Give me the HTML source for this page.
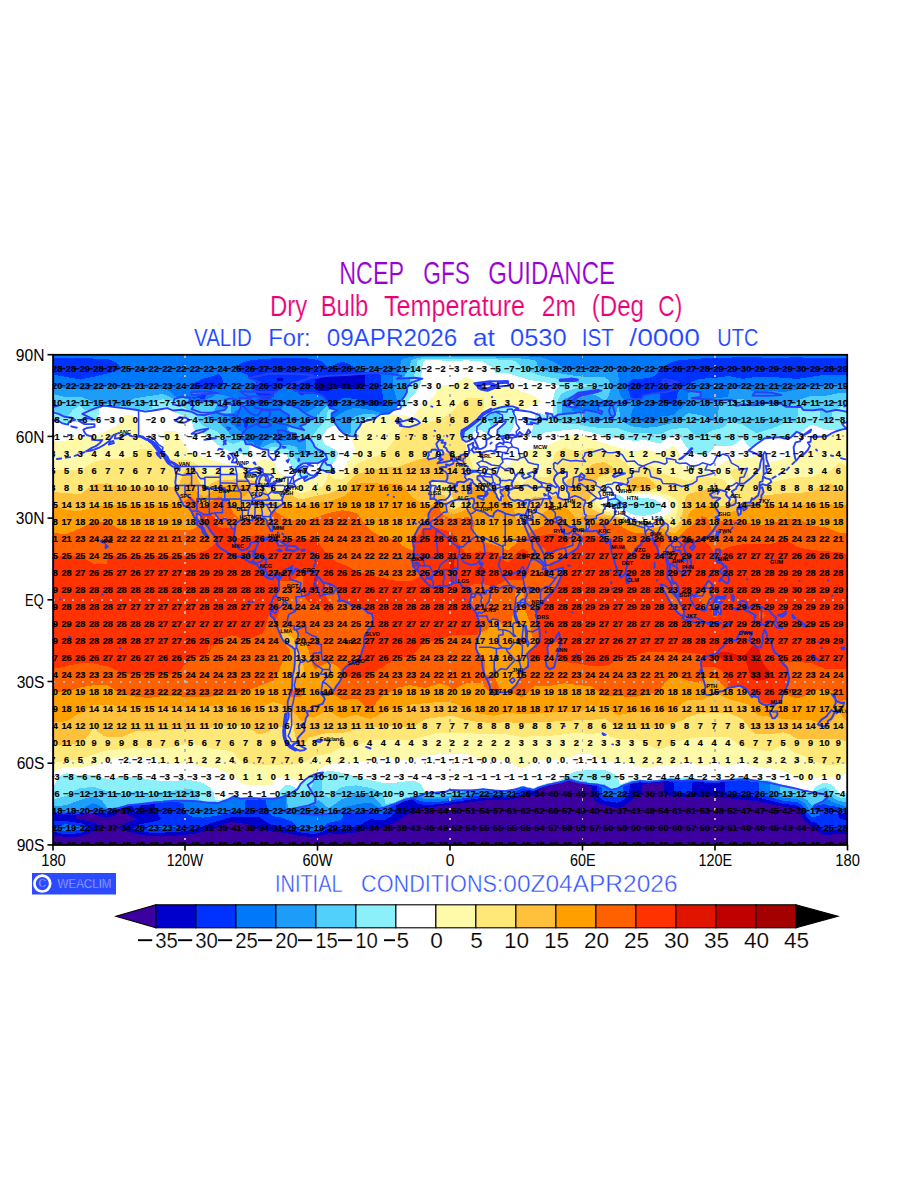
<!DOCTYPE html>
<html lang="en">
<head>
<meta charset="utf-8">
<title>NCEP GFS GUIDANCE - Dry Bulb Temperature 2m</title>
<style>
html,body{margin:0;padding:0;background:#fff;}
body{width:900px;height:1200px;overflow:hidden;font-family:"Liberation Sans",sans-serif;}
svg{display:block;position:absolute;left:0;top:0;}
.num text{font:bold 9.2px "Liberation Sans",sans-serif;fill:#000;text-anchor:middle;stroke:#000;stroke-width:0.18px;}
.stn text{font:bold 5.6px "Liberation Sans",sans-serif;fill:#000;text-anchor:start;}
.ax text{font:15.6px "Liberation Sans",sans-serif;fill:#000;}
.cb text{font:22.6px "Liberation Sans",sans-serif;fill:#000;text-anchor:middle;stroke:#fff;stroke-width:0.2px;}
.coast path{fill:none;stroke:#2840fa;stroke-width:1.9;stroke-linejoin:round;stroke-linecap:round;}
.coast path.thin{stroke-width:1.55;}
.coast path.thick{stroke-width:3.6;}
.grid line{stroke:#b4b4b4;stroke-width:2;stroke-dasharray:2.3 7.2;shape-rendering:crispEdges;}
.grid line.v{stroke-width:1.6;stroke-dasharray:2.5 7.35;}
</style>
</head>
<body>
<svg width="900" height="1200" viewBox="0 0 900 1200">
<rect x="0" y="0" width="900" height="1200" fill="#ffffff"/>

<!-- titles -->
<text x="339.3" y="283.7" font-size="31" fill="#9600d2" stroke="#fff" stroke-width="0.2" textLength="64.7" lengthAdjust="spacingAndGlyphs" font-family="Liberation Sans, sans-serif">NCEP</text>
<text x="423.3" y="283.7" font-size="31" fill="#9600d2" stroke="#fff" stroke-width="0.2" textLength="46.7" lengthAdjust="spacingAndGlyphs" font-family="Liberation Sans, sans-serif">GFS</text>
<text x="488.3" y="283.7" font-size="31" fill="#9600d2" stroke="#fff" stroke-width="0.2" textLength="126.7" lengthAdjust="spacingAndGlyphs" font-family="Liberation Sans, sans-serif">GUIDANCE</text>
<text x="270.0" y="315.5" font-size="29.2" fill="#eb0078" stroke="#fff" stroke-width="0.2" textLength="37.3" lengthAdjust="spacingAndGlyphs" font-family="Liberation Sans, sans-serif">Dry</text>
<text x="320.7" y="315.5" font-size="29.2" fill="#eb0078" stroke="#fff" stroke-width="0.2" textLength="47.6" lengthAdjust="spacingAndGlyphs" font-family="Liberation Sans, sans-serif">Bulb</text>
<text x="384.0" y="315.5" font-size="29.2" fill="#eb0078" stroke="#fff" stroke-width="0.2" textLength="141.0" lengthAdjust="spacingAndGlyphs" font-family="Liberation Sans, sans-serif">Temperature</text>
<text x="541.7" y="315.5" font-size="29.2" fill="#eb0078" stroke="#fff" stroke-width="0.2" textLength="34.3" lengthAdjust="spacingAndGlyphs" font-family="Liberation Sans, sans-serif">2m</text>
<text x="591.7" y="315.5" font-size="29.2" fill="#eb0078" stroke="#fff" stroke-width="0.2" textLength="52.3" lengthAdjust="spacingAndGlyphs" font-family="Liberation Sans, sans-serif">(Deg</text>
<text x="658.3" y="315.5" font-size="29.2" fill="#eb0078" stroke="#fff" stroke-width="0.2" textLength="24.0" lengthAdjust="spacingAndGlyphs" font-family="Liberation Sans, sans-serif">C)</text>
<text x="194.0" y="346.0" font-size="23" fill="#1e46ff" stroke="#fff" stroke-width="0.15" textLength="57.7" lengthAdjust="spacingAndGlyphs" font-family="Liberation Sans, sans-serif">VALID</text>
<text x="268.3" y="346.0" font-size="23" fill="#1e46ff" stroke="#fff" stroke-width="0.15" textLength="42.4" lengthAdjust="spacingAndGlyphs" font-family="Liberation Sans, sans-serif">For:</text>
<text x="326.7" y="346.0" font-size="23" fill="#1e46ff" stroke="#fff" stroke-width="0.15" textLength="130.6" lengthAdjust="spacingAndGlyphs" font-family="Liberation Sans, sans-serif">09APR2026</text>
<text x="472.7" y="346.0" font-size="23" fill="#1e46ff" stroke="#fff" stroke-width="0.15" textLength="22.3" lengthAdjust="spacingAndGlyphs" font-family="Liberation Sans, sans-serif">at</text>
<text x="510.0" y="346.0" font-size="23" fill="#1e46ff" stroke="#fff" stroke-width="0.15" textLength="56.7" lengthAdjust="spacingAndGlyphs" font-family="Liberation Sans, sans-serif">0530</text>
<text x="581.7" y="346.0" font-size="23" fill="#1e46ff" stroke="#fff" stroke-width="0.15" textLength="32.3" lengthAdjust="spacingAndGlyphs" font-family="Liberation Sans, sans-serif">IST</text>
<text x="629.3" y="346.0" font-size="23" fill="#1e46ff" stroke="#fff" stroke-width="0.15" textLength="70.7" lengthAdjust="spacingAndGlyphs" font-family="Liberation Sans, sans-serif">/0000</text>
<text x="717.3" y="346.0" font-size="23" fill="#1e46ff" stroke="#fff" stroke-width="0.15" textLength="41.0" lengthAdjust="spacingAndGlyphs" font-family="Liberation Sans, sans-serif">UTC</text>

<!-- map -->
<defs><clipPath id="mapclip"><rect x="52.5" y="354.7" width="795" height="490.2"/></clipPath></defs>
<g clip-path="url(#mapclip)">
<rect x="52" y="354" width="796" height="492" fill="#3c00a0"/>
<g shape-rendering="crispEdges">
<path fill="#0000cd" d="M52.5,354.7L847.5,354.7L847.5,834.8L838.7,833.9L825.4,835.2L821.0,833.4L817.7,831.3L805.7,821.8L802.7,817.7L799.6,810.9L797.8,809.1L796.7,808.7L779.0,805.9L755.9,801.1L726.0,798.0L715.0,796.2L687.4,797.0L671.9,796.2L666.0,794.5L664.1,793.2L663.7,783.6L663.1,782.3L659.8,782.3L658.7,783.2L657.6,783.3L643.6,783.6L642.5,785.0L642.2,793.2L640.7,794.5L633.3,798.8L625.6,805.0L620.0,807.9L617.8,808.3L602.4,804.9L596.9,802.1L594.6,799.9L592.4,795.8L591.8,793.2L591.5,786.3L588.0,785.6L585.8,784.1L579.2,783.4L577.5,782.3L574.8,782.0L573.1,780.9L569.2,780.2L565.5,780.9L563.7,782.0L561.2,782.3L559.3,783.5L554.9,783.8L551.6,785.4L548.3,785.6L546.1,787.0L542.8,787.7L541.6,788.7L539.3,789.1L538.1,790.4L537.3,793.2L534.6,794.5L529.4,795.9L508.5,799.7L494.2,799.9L480.9,800.7L418.0,809.0L415.8,809.6L411.4,812.7L402.5,817.2L393.7,823.2L386.0,826.1L370.5,829.0L356.1,832.6L342.9,833.8L328.5,833.4L315.3,837.1L300.9,836.0L286.6,833.2L269.9,831.3L259.0,828.8L246.8,824.2L232.5,821.9L224.8,824.2L206.0,831.4L191.6,834.2L177.3,835.6L164.0,836.0L149.7,836.0L143.0,835.2L135.3,833.8L128.7,832.0L120.3,828.6L119.0,827.2L126.5,822.9L138.0,819.0L132.0,817.1L128.2,814.9L125.8,812.2L124.3,808.1L119.6,809.5L117.6,813.3L115.4,815.3L108.8,817.6L101.1,816.9L93.4,813.9L76.2,814.9L75.5,816.3L75.6,817.7L77.4,819.0L91.1,821.6L97.8,824.1L100.4,825.8L101.2,827.2L100.2,828.6L87.8,834.1L80.1,836.3L66.9,837.2L52.5,835.2L52.5,354.7Z"/>
<path fill="#0032ff" d="M52.5,354.7L847.5,354.7L847.5,814.5L840.9,813.8L839.5,810.9L838.7,810.6L829.9,810.9L828.6,812.2L836.3,813.6L839.1,814.9L839.3,817.7L840.1,819.0L847.5,820.5L847.5,831.0L838.7,829.7L826.5,831.4L824.3,831.0L820.7,828.6L817.7,824.0L815.5,822.7L811.1,821.4L808.9,819.5L806.1,816.3L802.0,809.5L797.8,805.8L782.4,803.5L755.9,797.0L742.6,794.7L729.4,794.3L727.1,793.6L726.0,793.2L725.4,791.8L725.3,783.6L724.4,782.3L721.6,782.1L718.3,783.2L706.2,783.2L702.9,781.9L692.6,782.3L692.0,783.6L691.9,791.8L690.7,793.2L687.4,793.8L677.6,793.2L674.4,791.8L674.3,783.6L673.3,782.3L670.8,781.6L660.9,781.0L657.6,782.3L642.1,782.7L639.9,782.1L637.7,782.9L632.2,783.3L629.7,785.0L629.3,793.2L628.7,794.5L623.4,799.7L620.0,801.9L617.8,802.7L604.6,800.9L601.3,799.0L597.2,794.5L596.5,786.3L588.0,784.7L585.8,783.4L579.2,783.0L578.1,782.1L574.8,781.6L573.7,780.7L569.2,779.8L564.8,780.8L563.7,781.7L560.4,782.2L559.3,783.1L554.9,783.4L552.7,784.6L548.0,785.0L546.1,786.2L543.9,786.4L541.6,787.7L539.4,788.1L533.9,791.2L531.7,791.2L529.5,790.2L527.0,790.4L525.7,793.2L522.6,794.5L508.5,797.5L494.2,797.4L480.9,798.1L439.0,804.2L425.7,805.1L418.0,803.7L415.8,802.5L413.3,800.0L411.4,799.2L409.1,800.2L404.7,801.1L400.3,803.5L398.2,804.0L396.4,805.4L395.8,810.9L395.0,812.2L390.4,816.7L384.9,820.0L382.6,820.5L379.3,820.3L370.5,819.0L356.1,827.4L342.9,829.5L328.5,828.9L320.8,832.4L314.2,834.2L299.8,832.4L286.6,828.7L273.3,825.9L266.7,822.3L259.0,816.7L245.7,817.3L231.4,817.0L211.5,823.0L197.9,828.6L185.0,831.1L176.2,832.1L162.9,832.6L149.7,832.6L146.4,832.1L135.3,829.5L133.2,828.6L132.8,827.2L138.6,824.7L157.4,820.8L161.4,819.0L155.8,812.2L155.2,810.9L154.7,804.0L153.0,803.8L150.8,804.7L141.3,805.4L139.3,806.8L138.0,810.9L135.3,811.7L134.0,810.9L133.3,806.8L128.7,806.0L119.8,808.1L116.5,810.0L112.6,810.9L107.7,813.8L97.8,812.2L52.5,814.5L52.5,354.7ZM276.6,377.8L276.6,380.6L283.3,380.6L283.3,377.8L276.6,377.8ZM345.1,375.1L329.6,375.5L326.3,376.9L320.8,377.3L318.6,378.7L315.3,379.2L315.1,386.0L315.6,390.1L319.7,390.9L327.4,391.0L334.1,388.7L340.7,387.6L356.1,389.1L362.8,387.6L364.7,386.0L365.2,384.7L365.1,375.1L359.5,373.9L357.2,374.9L345.1,375.1ZM52.5,821.8L52.5,820.6L65.8,821.1L80.1,823.0L88.3,825.8L89.9,827.2L89.6,828.6L85.6,831.0L80.1,833.1L66.9,834.3L61.3,833.5L52.5,831.5L52.5,821.8Z"/>
<path fill="#0078fa" d="M52.5,354.7L847.5,354.7L847.5,358.1L838.7,357.8L825.4,358.3L797.8,357.3L780.1,357.7L742.6,357.3L707.3,358.0L679.7,360.1L670.8,362.5L662.0,366.8L659.8,369.0L657.2,373.8L653.2,376.7L646.5,378.4L632.2,379.1L628.9,382.3L627.3,386.0L630.2,396.9L631.6,398.3L639.9,398.7L641.1,398.3L642.1,395.0L646.5,394.7L647.6,393.8L652.1,393.5L654.3,392.5L657.6,392.8L659.7,394.2L660.0,401.0L661.3,402.4L673.0,404.3L675.6,402.4L677.9,392.8L680.8,388.1L684.1,386.1L686.3,386.5L689.4,383.3L692.9,381.1L700.6,378.7L715.0,378.0L728.2,376.0L742.6,378.9L757.0,376.8L769.1,376.8L797.8,378.9L825.4,374.7L847.5,374.9L847.5,812.5L843.7,809.5L839.8,807.4L830.9,805.9L825.4,804.4L822.1,804.4L817.5,805.4L815.5,806.4L813.7,808.1L813.8,809.5L819.1,812.2L820.4,813.6L820.2,814.9L816.6,816.4L812.2,817.4L809.1,814.9L803.3,806.7L798.9,803.0L796.7,802.2L782.4,800.5L761.3,794.5L759.2,793.2L758.7,791.8L758.6,783.6L758.1,782.3L750.3,781.7L747.0,780.2L738.2,780.0L734.9,781.3L721.6,781.0L718.3,782.2L706.2,782.2L702.9,780.9L692.9,780.5L686.3,781.2L674.1,781.0L670.8,780.4L660.9,780.6L657.6,781.9L642.1,782.0L639.9,781.5L637.7,782.1L632.2,782.2L624.5,786.3L622.8,787.7L622.4,793.2L621.6,794.5L618.9,796.7L616.7,797.1L604.6,796.3L602.4,794.5L601.8,793.2L601.5,787.7L596.9,785.0L589.1,784.5L585.8,783.1L580.3,782.9L578.1,781.7L574.8,781.3L573.7,780.4L569.2,779.3L564.8,780.4L563.7,781.3L560.4,781.8L559.3,782.8L554.9,783.1L552.7,784.3L547.2,784.9L546.1,785.8L538.6,787.7L535.0,790.2L531.7,790.3L529.5,789.1L527.3,789.3L524.0,788.2L521.8,788.4L519.6,789.9L517.0,790.4L515.2,793.2L512.1,794.5L508.5,795.3L494.2,794.7L480.9,795.4L459.9,798.9L437.9,801.9L424.6,801.9L411.4,798.3L409.1,799.5L404.9,800.0L403.6,800.9L401.7,801.3L390.4,806.6L388.6,808.1L388.0,810.9L383.8,814.3L373.8,812.3L370.5,809.5L356.1,811.7L348.8,812.2L342.8,813.6L342.5,817.7L341.9,819.0L337.4,821.1L327.5,823.1L321.4,828.6L316.4,830.8L314.2,831.3L299.1,828.6L296.7,827.2L294.3,823.3L292.1,821.6L281.1,817.5L273.3,816.3L272.2,815.7L266.7,810.9L266.4,801.3L265.9,800.0L260.1,799.4L246.8,800.0L245.4,801.3L245.3,809.5L242.2,810.9L232.5,811.7L218.1,815.3L203.8,817.6L194.9,817.2L190.5,816.3L184.1,810.9L183.6,804.0L182.8,802.7L177.3,802.3L164.0,802.3L161.8,803.3L153.0,802.5L150.8,803.6L141.9,803.9L138.6,805.3L128.7,805.1L126.5,806.2L123.2,806.5L122.1,807.4L118.8,808.0L117.6,808.9L111.3,809.5L106.6,810.8L94.5,809.7L91.9,810.9L84.5,812.2L52.5,812.9L52.5,374.8L62.4,376.1L80.1,379.6L93.4,376.9L112.1,372.1L117.6,370.3L120.8,368.3L120.5,367.0L119.4,365.6L115.4,362.1L111.6,360.1L108.8,359.5L81.2,357.8L52.5,358.3L52.5,354.7ZM215.9,375.1L202.2,379.2L195.7,381.9L191.6,384.7L190.6,386.0L190.5,388.7L211.5,389.6L221.4,386.7L223.4,384.7L222.1,377.8L219.2,374.5L218.1,374.2L215.9,375.1ZM266.7,358.7L251.8,360.1L245.8,361.5L236.9,365.2L234.0,367.0L233.1,368.3L246.8,374.6L247.9,375.3L249.0,378.3L251.8,379.2L256.2,381.9L256.5,383.3L253.8,386.0L253.2,387.4L255.3,390.1L256.3,394.2L259.7,396.9L259.7,398.3L257.7,401.0L257.7,402.4L259.0,404.8L260.1,405.3L262.9,403.7L266.9,399.6L273.3,397.1L274.7,392.8L286.0,386.0L289.9,385.1L289.5,387.4L289.9,388.0L294.3,391.3L296.5,391.7L300.9,395.0L305.6,394.2L316.4,393.8L318.6,395.0L321.9,395.4L327.4,401.6L329.6,405.9L330.8,407.0L334.0,406.4L338.3,401.0L342.9,398.2L356.1,398.7L362.7,403.7L369.4,405.9L384.9,406.0L386.0,405.1L383.8,401.0L383.2,398.3L381.1,386.0L380.9,375.1L379.7,373.8L374.9,372.8L372.7,371.6L370.5,372.4L356.2,371.0L355.7,368.3L354.2,367.0L348.4,363.8L342.9,361.8L337.4,363.4L328.5,368.0L325.1,364.2L321.6,361.5L318.6,360.1L311.6,358.8L299.8,357.7L286.6,357.8L266.7,358.7ZM387.1,406.4L387.1,407.8L388.2,406.4L387.1,406.4ZM201.6,395.2L199.4,396.3L192.3,396.9L192.7,399.0L198.2,397.9L200.5,398.9L203.8,399.0L205.0,398.3L205.9,395.6L203.8,394.8L201.6,395.2ZM245.7,417.3L243.5,418.7L242.9,420.1L244.6,427.2L245.0,428.2L245.7,428.5L248.2,425.5L248.5,422.8L247.8,418.7L245.7,417.3ZM64.1,824.5L66.9,824.3L79.0,825.9L82.2,827.2L82.3,828.6L80.1,829.7L76.8,830.2L66.9,831.3L63.5,830.8L55.6,828.6L54.7,827.2L57.4,825.8L64.1,824.5ZM158.3,825.8L164.0,825.5L176.2,825.8L178.9,827.2L172.7,828.6L149.7,829.0L147.5,828.6L147.1,827.2L149.7,826.5L158.3,825.8Z"/>
<path fill="#1e9cfa" d="M416.2,356.1L425.7,355.4L479.8,355.5L533.9,356.6L541.3,357.4L546.6,358.8L556.0,363.1L561.8,367.0L566.2,368.3L590.2,370.8L598.3,369.7L605.7,367.8L616.7,368.6L618.4,369.7L618.7,387.4L619.6,392.8L621.3,396.9L624.5,399.9L626.7,400.1L628.9,399.6L635.4,401.0L635.2,403.7L631.1,413.9L630.6,418.7L631.7,420.1L633.3,420.7L645.4,422.5L654.4,420.1L659.8,416.7L671.9,415.3L674.1,414.5L687.2,402.4L687.7,401.0L688.2,392.8L691.8,392.0L700.6,392.8L701.0,395.6L700.6,397.0L699.2,398.3L699.5,398.7L701.8,399.1L715.0,398.5L727.9,396.9L729.2,390.1L730.5,389.1L742.6,389.1L748.1,389.7L752.5,390.8L757.0,393.5L770.2,391.1L784.6,391.9L810.0,387.3L837.6,383.8L847.5,384.7L847.5,808.5L846.4,807.1L843.2,805.4L832.0,801.8L826.5,798.8L823.2,802.2L817.7,803.8L814.4,805.9L812.6,808.1L812.4,809.5L815.6,812.2L814.4,812.9L812.2,813.1L810.0,811.2L805.4,804.0L799.8,800.0L796.7,799.0L783.5,797.8L773.5,794.8L770.7,793.2L770.2,791.8L770.1,785.0L769.4,783.6L761.4,782.5L758.1,780.9L749.2,780.5L747.0,779.3L738.2,779.2L734.9,780.6L721.6,780.5L718.3,781.8L706.2,781.8L702.9,780.5L695.1,780.5L692.9,779.8L690.7,780.5L675.2,780.5L673.0,780.5L670.8,779.7L668.6,780.4L660.9,780.2L657.6,781.6L642.1,781.7L639.9,780.9L637.7,781.7L631.1,782.1L630.0,783.0L627.8,783.6L626.7,784.5L622.1,786.3L617.8,789.5L612.3,791.0L607.9,789.3L603.5,786.3L599.1,785.7L598.0,784.7L589.1,784.1L585.8,782.7L580.3,782.6L578.1,781.4L574.8,780.9L573.7,780.0L570.4,779.6L569.2,778.9L568.1,779.6L564.8,780.1L563.7,781.0L560.4,781.5L558.2,782.7L554.9,782.8L551.6,784.2L547.2,784.5L546.1,785.4L538.3,787.4L535.0,789.7L533.9,790.0L531.7,789.8L529.5,788.7L526.2,788.6L524.0,787.5L521.1,787.7L519.6,788.8L517.2,789.1L514.0,790.7L510.7,791.1L507.4,792.7L496.4,792.3L493.1,791.0L485.3,791.1L483.1,790.4L482.0,791.0L475.3,791.8L474.0,793.2L470.3,794.5L463.8,795.9L439.0,799.5L425.7,798.9L418.0,797.7L415.8,798.2L411.4,797.8L409.1,798.9L404.7,799.4L403.6,800.3L394.8,803.7L393.7,804.7L390.4,805.3L389.3,806.3L386.5,806.8L383.8,808.3L379.3,807.8L370.5,802.7L367.2,802.7L358.4,804.0L342.9,807.4L335.4,812.2L329.6,813.1L326.3,814.3L322.6,813.6L320.2,809.5L316.4,806.4L314.2,805.3L308.7,806.7L304.2,806.6L302.0,807.7L297.6,808.1L295.4,809.4L287.4,810.9L286.4,809.5L286.3,798.6L286.2,797.2L285.5,796.6L280.0,799.1L274.4,799.4L260.1,798.4L238.0,798.7L233.6,797.4L225.9,801.6L223.6,802.0L221.4,803.3L218.1,803.7L203.8,803.5L197.1,802.6L194.9,801.2L191.6,801.0L164.0,800.9L160.7,802.1L153.0,801.9L149.7,803.2L141.9,803.3L138.6,804.7L128.7,804.6L126.5,805.6L123.2,806.0L122.1,806.9L118.8,807.4L116.5,808.6L106.6,809.3L97.8,804.7L93.4,803.3L86.7,806.1L79.7,810.9L65.8,811.7L53.6,811.8L52.5,811.4L52.5,385.1L66.9,388.8L93.4,390.1L100.8,388.7L107.7,385.9L121.0,388.6L135.3,387.5L148.6,388.4L162.9,388.6L169.5,391.1L171.8,392.8L174.1,395.6L176.3,396.9L179.5,397.2L181.7,396.3L183.9,397.3L189.4,397.7L190.3,398.3L190.2,401.0L191.6,401.7L193.8,400.6L198.2,399.6L200.5,400.3L204.9,400.1L214.8,395.6L212.1,394.2L203.8,393.5L201.6,393.7L199.4,394.8L192.7,394.8L191.4,394.2L191.2,392.8L191.4,391.5L192.7,390.9L208.2,390.7L211.5,392.0L217.0,391.9L218.0,392.8L218.3,394.2L219.2,394.6L224.8,395.4L229.2,397.2L231.4,397.4L238.0,400.8L239.1,398.0L245.9,398.3L247.4,399.6L247.5,402.4L246.7,403.7L234.7,411.7L231.4,415.4L229.4,416.0L227.8,418.7L228.2,420.1L232.5,424.6L243.1,433.7L243.5,434.9L244.5,435.0L244.6,436.4L246.6,439.1L247.7,441.8L252.4,442.3L255.7,444.7L260.1,446.1L263.4,441.2L265.6,439.8L270.0,438.5L275.5,438.1L277.8,439.9L280.0,440.6L292.1,440.4L295.4,439.9L296.1,439.1L295.7,435.0L294.9,433.7L288.8,433.1L287.7,432.2L286.9,431.0L286.6,425.0L284.4,423.4L278.9,422.8L281.1,419.7L284.4,419.3L287.0,417.3L287.8,414.6L281.7,409.2L281.8,407.8L286.6,403.6L287.7,403.5L292.1,405.7L295.4,406.1L296.5,407.0L298.7,407.5L302.0,411.0L306.5,412.3L308.3,411.9L316.2,406.4L326.3,402.9L327.4,403.5L329.6,407.8L334.1,408.2L336.1,410.5L335.2,411.8L332.7,413.3L331.9,414.6L333.0,417.6L337.0,416.0L346.2,410.3L355.0,407.7L371.6,410.0L379.3,412.4L383.8,413.0L388.2,413.1L389.3,412.6L392.6,409.3L396.0,407.8L396.7,406.4L397.1,403.7L397.2,401.0L393.1,386.0L393.0,376.5L393.9,375.1L398.5,373.8L401.4,360.1L403.2,358.8L405.8,357.8L416.2,356.1ZM574.8,400.9L574.2,402.4L576.6,406.4L575.9,407.6L571.6,409.2L571.6,410.5L575.9,411.8L578.1,410.8L582.9,410.5L584.7,408.4L586.9,409.3L589.1,409.5L591.3,410.8L599.1,411.0L599.2,410.5L598.0,410.0L597.7,409.2L597.8,407.8L599.1,406.8L605.7,406.9L609.0,405.8L610.1,405.1L610.4,403.7L609.7,402.4L607.9,400.9L602.4,401.0L600.2,401.9L578.1,400.0L574.8,400.9ZM241.1,391.5L245.6,391.5L246.6,392.8L246.1,394.2L242.4,392.9L241.1,391.5ZM313.4,825.8L314.2,825.3L315.1,825.8L315.3,827.2L313.0,827.2L313.4,825.8Z"/>
<path fill="#50d0fa" d="M421.5,357.4L426.8,357.0L479.8,357.1L508.5,357.8L525.6,358.8L534.3,360.1L536.2,361.5L538.4,367.0L539.7,368.3L549.4,371.7L578.1,376.3L591.3,377.4L604.6,377.0L608.8,380.6L611.1,384.7L611.1,387.4L610.2,391.5L607.6,398.3L605.9,399.6L603.5,399.7L598.0,396.5L592.4,394.2L594.6,393.5L598.0,391.1L601.3,390.5L601.3,389.8L600.2,389.4L595.8,389.3L593.5,390.5L591.3,390.6L590.5,391.5L590.2,393.6L575.9,394.2L564.8,398.7L562.6,400.5L561.5,403.7L561.5,411.9L562.0,413.3L565.9,414.2L569.2,413.1L575.9,413.7L578.1,413.1L580.2,413.3L581.0,418.7L583.2,420.1L587.4,421.4L592.4,422.2L599.1,420.9L610.1,417.9L613.4,417.9L616.1,414.6L616.4,411.9L617.8,407.5L618.9,407.3L620.5,418.7L622.2,421.0L626.7,424.1L631.1,426.2L641.0,427.5L646.5,427.8L656.5,426.8L674.1,422.6L679.5,420.1L686.3,414.0L688.5,413.1L700.6,415.0L704.0,416.2L710.7,420.1L715.0,420.8L717.2,418.7L719.9,401.0L726.4,399.6L730.5,399.4L732.7,400.1L742.6,398.8L745.8,401.0L748.3,403.7L755.9,406.2L757.0,406.0L758.1,405.0L780.1,402.9L785.7,405.2L793.0,403.7L793.8,402.4L796.7,400.7L811.1,395.7L825.4,395.9L839.8,393.0L847.5,393.6L847.5,803.5L845.3,802.3L838.7,800.6L834.2,798.7L825.4,792.3L824.6,793.2L825.2,794.5L824.2,800.0L822.2,801.3L815.5,803.6L812.2,805.8L807.1,800.0L802.2,797.2L797.8,795.8L784.6,794.9L782.4,794.2L780.6,793.2L780.1,791.8L779.8,786.3L776.8,785.5L774.6,783.9L771.3,783.4L769.1,782.0L761.4,781.8L758.1,780.3L750.3,780.2L747.0,778.8L738.2,778.8L734.9,780.1L721.6,780.1L718.3,781.4L706.2,781.4L702.9,780.1L695.1,780.1L692.9,779.2L690.7,780.1L674.1,780.0L670.8,779.1L668.6,779.9L659.8,780.0L657.6,781.2L642.1,781.3L639.9,780.4L637.7,781.3L631.1,781.6L630.0,782.5L621.1,786.0L617.8,788.4L614.5,788.8L612.3,789.8L607.9,788.2L604.6,785.8L600.2,785.3L598.0,784.0L589.1,783.7L586.9,782.4L580.3,782.2L578.1,781.0L575.9,780.8L573.7,779.7L571.5,779.5L569.2,778.5L567.2,779.5L564.8,779.7L562.9,780.9L560.4,781.2L558.2,782.4L553.8,782.6L551.6,783.9L547.2,784.1L546.1,785.0L538.3,787.0L533.9,789.6L531.7,789.4L530.6,788.5L526.2,788.1L525.1,787.2L521.8,787.1L519.6,788.3L516.2,788.8L515.1,789.8L510.7,790.1L507.4,791.6L496.4,791.5L493.1,790.1L485.3,790.1L483.1,789.5L480.9,790.1L471.6,790.4L464.4,791.4L462.2,791.8L461.2,793.2L457.7,794.5L440.1,797.0L421.3,795.9L416.9,796.7L415.8,797.4L410.2,797.4L408.0,798.7L404.7,798.8L393.3,804.0L390.4,804.5L389.2,805.4L386.0,806.0L383.8,807.1L381.2,805.4L379.3,802.6L376.0,799.1L371.2,795.9L369.4,795.3L356.1,794.1L341.8,799.3L328.5,808.2L321.9,802.6L316.4,799.1L314.2,803.2L308.7,805.6L303.1,805.9L300.9,807.1L296.5,807.4L294.3,808.6L287.7,809.2L287.3,797.2L286.6,794.9L285.5,795.0L281.1,797.6L274.4,798.3L238.0,798.1L235.8,797.0L233.6,796.7L225.9,800.7L222.5,801.2L220.3,802.3L198.2,801.7L196.0,800.4L190.5,799.8L164.0,800.1L160.7,801.4L153.0,801.4L149.7,802.7L140.8,802.8L138.6,804.1L127.6,804.1L125.4,805.2L118.8,806.8L116.5,808.0L108.8,808.2L107.4,808.1L106.6,807.4L104.4,803.5L101.1,800.0L96.7,797.5L93.4,796.6L84.5,798.6L65.8,805.2L53.6,806.5L52.5,805.6L52.5,393.8L65.8,397.1L79.0,396.7L82.3,397.3L91.7,401.0L93.6,402.4L94.5,405.6L95.6,405.7L98.9,405.1L100.0,404.3L113.2,404.4L116.5,405.6L123.2,405.4L125.4,406.3L126.6,402.4L134.2,398.5L161.8,394.0L165.1,394.7L171.8,398.0L181.7,397.8L187.9,399.6L188.5,402.4L190.5,403.7L192.7,403.6L198.2,401.5L200.5,401.8L212.6,400.4L215.9,400.3L218.1,401.1L222.5,401.4L224.0,402.4L224.4,405.1L220.3,405.2L218.1,403.6L214.7,409.2L214.5,410.5L215.3,411.9L214.8,412.3L212.6,412.2L210.4,414.9L207.3,417.3L207.0,418.7L218.1,421.7L231.4,435.5L233.6,436.3L239.1,436.4L241.3,438.4L244.6,439.9L246.8,443.3L252.4,443.7L255.7,446.0L260.1,447.5L263.4,447.1L268.9,443.9L274.4,442.4L277.8,442.7L282.2,444.9L293.2,445.7L296.5,447.3L297.6,449.0L299.8,455.2L300.9,456.4L302.0,456.4L305.4,454.4L306.3,452.7L306.3,439.1L305.4,438.8L303.1,439.8L300.9,439.7L299.8,440.3L298.7,440.0L296.9,433.7L295.4,431.9L289.9,431.6L288.6,431.0L288.3,428.2L288.7,426.9L289.9,426.9L292.1,428.1L296.5,428.1L298.7,429.2L300.9,428.9L301.7,428.2L301.0,425.5L302.0,424.8L305.4,424.3L307.6,421.2L315.3,418.7L326.3,405.6L327.4,405.6L329.6,408.7L334.2,409.2L334.8,410.5L331.3,413.3L331.7,418.7L337.7,425.5L339.6,429.0L344.0,432.7L347.3,432.9L348.6,433.7L350.2,433.7L350.6,432.3L350.8,420.1L351.8,418.7L356.1,416.0L360.8,414.6L368.3,413.6L376.0,414.7L380.4,413.5L389.3,413.4L392.6,409.9L397.0,407.9L398.1,402.1L401.4,399.5L405.6,394.2L406.9,390.8L407.2,387.4L410.3,383.3L410.2,379.0L404.8,377.8L404.2,376.5L409.3,368.3L410.8,361.5L411.7,360.1L414.7,358.8L421.5,357.4ZM196.1,392.8L199.4,392.4L200.7,392.8L199.4,393.2L196.1,392.8ZM565.3,403.7L571.6,403.7L574.1,405.1L573.7,406.0L571.5,406.4L569.2,405.3L565.9,405.2L565.3,403.7ZM227.1,405.1L230.3,404.6L231.4,405.5L231.1,411.9L230.3,412.9L222.5,413.4L220.3,412.4L216.7,411.9L219.2,410.3L224.8,410.2L226.9,407.8L227.5,406.4L227.1,405.1Z"/>
<path fill="#8cf0fa" d="M423.2,358.8L478.7,358.6L511.5,360.1L516.2,361.5L522.1,368.3L524.4,369.7L537.2,374.5L548.3,377.2L563.7,379.8L577.0,382.7L595.4,384.7L601.1,386.0L577.0,387.8L562.8,392.8L560.3,395.6L557.6,401.0L556.8,414.6L554.9,417.0L553.8,417.2L551.6,415.9L549.5,416.0L548.8,417.3L549.5,418.7L551.1,420.1L554.2,421.4L562.6,423.5L577.0,423.7L591.3,427.4L617.8,428.0L625.2,431.0L632.2,432.7L646.5,433.3L659.8,434.5L666.4,431.1L673.0,428.7L687.4,428.1L696.7,436.4L700.6,439.2L701.8,438.9L706.2,433.9L709.5,431.7L713.9,429.9L720.5,428.4L723.9,426.9L726.0,425.1L729.4,420.5L734.9,422.9L742.6,424.4L755.9,433.0L757.0,433.2L773.5,427.9L784.6,422.9L796.7,422.6L797.4,418.7L797.8,407.8L801.1,407.2L803.3,410.1L812.2,409.3L818.7,410.5L819.9,411.9L820.2,418.7L821.3,420.1L823.7,421.4L826.5,422.0L829.8,420.9L832.0,418.9L832.4,411.9L833.2,410.5L836.5,408.2L839.8,407.8L840.9,406.5L841.9,406.4L842.0,405.6L844.2,406.4L844.9,405.1L847.5,403.3L847.5,798.5L839.8,797.6L837.6,796.8L833.9,794.5L828.7,789.3L825.4,787.4L818.8,789.4L815.3,791.8L818.1,794.5L818.4,795.9L812.2,795.9L807.2,793.2L804.4,792.7L802.2,791.3L798.9,790.6L796.7,789.4L793.4,789.0L791.2,787.8L787.9,787.6L785.7,786.3L782.4,786.0L781.2,785.0L776.8,784.2L774.6,782.9L771.3,782.5L770.2,781.6L761.4,781.2L758.1,779.8L750.3,779.7L747.0,778.3L738.2,778.3L734.9,779.7L721.6,779.7L718.3,781.0L706.2,781.0L704.0,779.8L695.1,779.6L692.9,778.6L690.7,779.6L674.1,779.6L670.8,778.5L668.6,779.5L660.9,779.4L657.6,780.7L651.3,780.9L642.1,780.9L639.9,779.9L637.7,780.9L631.1,781.1L621.1,785.3L617.3,787.7L614.5,787.9L612.3,789.0L607.9,786.8L604.6,784.2L600.2,784.0L596.9,782.7L589.1,782.7L586.9,781.4L580.3,781.3L578.1,780.1L575.9,780.0L573.7,778.8L569.2,777.9L560.4,780.6L558.2,781.8L554.9,782.0L551.6,783.5L547.2,783.8L545.0,785.0L542.8,785.2L540.8,786.3L538.3,786.6L533.9,789.2L532.2,789.1L530.6,788.0L526.4,787.7L525.1,786.8L521.8,786.6L519.6,787.7L516.2,788.3L515.1,789.2L509.6,789.8L507.4,791.0L496.4,790.9L493.1,789.5L485.3,789.6L483.1,788.7L480.9,789.6L455.6,790.4L450.0,791.5L447.8,793.0L444.5,794.0L440.1,794.5L426.5,793.2L416.9,795.2L415.8,796.0L410.2,796.2L408.0,797.4L404.7,797.5L403.3,798.6L401.4,798.9L400.1,800.0L398.1,800.3L393.2,802.7L390.4,802.9L388.2,804.1L384.9,804.1L384.3,795.9L382.4,793.2L377.3,790.4L370.5,787.9L356.1,785.4L346.2,786.3L340.5,787.7L337.4,790.0L334.0,794.5L328.5,797.7L323.3,794.5L322.0,793.2L321.5,778.2L319.7,776.2L316.4,776.1L314.4,776.8L313.1,778.2L313.5,782.3L313.1,784.2L309.8,790.3L308.8,790.4L308.7,791.8L307.6,791.8L307.6,793.2L306.5,793.2L304.2,790.4L304.2,787.7L304.2,789.1L303.1,790.4L299.8,794.5L298.7,794.5L297.6,795.9L294.3,795.9L293.8,793.2L292.3,791.8L287.7,790.4L285.5,791.8L283.4,794.5L279.2,797.2L273.3,797.8L238.0,797.6L235.8,796.4L233.6,796.2L225.9,800.0L222.5,800.4L220.3,801.6L207.8,801.3L199.1,800.0L198.6,794.5L197.8,793.2L194.9,791.0L190.5,788.9L162.2,791.8L153.7,793.2L149.7,794.5L135.3,791.1L121.0,794.4L117.7,793.2L107.7,791.4L93.4,786.7L79.0,788.5L74.6,790.4L69.0,794.5L65.9,795.9L56.9,798.5L52.5,799.1L52.5,409.2L53.6,410.6L60.2,413.6L63.5,416.1L65.8,416.3L67.2,416.0L68.8,414.6L73.5,409.4L79.0,406.2L80.1,406.1L84.5,409.8L86.7,410.3L91.1,409.5L92.2,408.7L95.6,408.4L96.7,407.5L101.1,405.8L113.2,405.6L116.5,406.9L122.1,406.8L125.4,408.1L132.0,408.1L134.2,409.2L140.8,409.0L145.2,410.1L150.8,409.2L152.3,407.8L152.6,403.7L153.3,402.4L157.4,400.7L162.9,399.3L172.9,401.3L175.1,401.0L182.8,407.0L194.4,413.3L196.6,416.0L199.4,421.7L202.7,425.3L217.0,431.5L224.8,439.2L230.3,443.2L233.6,443.8L242.4,440.6L244.6,441.7L246.8,444.2L252.4,444.5L255.7,446.7L257.9,447.2L259.0,448.0L262.3,448.1L264.5,448.8L273.3,446.7L276.6,446.6L278.7,447.3L280.0,449.1L287.7,449.4L289.9,450.4L292.1,452.4L296.0,459.5L299.8,464.2L302.0,462.4L307.6,462.6L317.5,461.6L320.7,459.5L325.0,455.5L325.0,454.1L321.9,451.2L319.7,449.8L317.5,449.3L315.3,447.4L312.0,437.8L313.0,435.0L326.3,418.7L327.9,410.5L328.5,409.6L333.0,410.5L331.9,410.9L330.0,413.3L330.3,418.7L337.4,426.5L338.0,428.2L340.2,431.0L344.0,434.0L347.3,434.3L349.5,435.3L354.2,435.0L355.0,433.9L355.8,431.0L358.7,426.9L360.6,421.9L363.9,418.9L368.3,417.4L373.8,417.3L380.4,414.1L389.3,413.9L392.6,410.5L397.0,408.8L398.1,403.9L402.5,400.2L405.9,395.6L407.8,391.5L408.7,387.4L411.9,383.3L412.5,380.0L415.4,371.0L417.4,361.5L418.5,360.1L423.2,358.8ZM494.2,410.3L493.1,411.1L489.1,411.9L487.7,413.3L487.3,414.6L487.4,418.7L490.9,425.5L492.3,425.5L495.2,424.1L496.6,422.8L498.6,419.0L499.5,418.7L499.7,410.5L498.6,409.9L494.2,410.3ZM617.8,501.1L615.2,503.1L614.9,504.5L616.7,505.4L620.0,505.8L625.8,504.5L618.9,501.1L617.8,501.1ZM498.6,430.7L498.6,433.2L499.7,432.3L499.6,431.0L498.6,430.7ZM52.5,403.7L52.5,403.1L53.6,404.0L54.6,406.4L53.6,408.4L52.5,408.9L52.5,403.7Z"/>
<path fill="#ffffff" d="M423.7,361.5L425.7,360.3L429.0,360.2L439.0,360.3L452.2,361.1L466.6,360.3L482.6,361.5L493.7,368.3L495.3,373.0L507.4,373.2L529.5,379.9L550.7,383.3L558.2,385.0L559.4,386.0L556.0,389.1L553.8,394.7L552.8,402.4L552.8,411.9L552.2,413.3L549.4,413.5L548.3,412.6L546.1,412.5L545.3,413.3L545.0,415.3L539.4,412.7L537.2,412.4L536.1,412.6L535.8,413.3L534.6,418.7L531.7,419.0L528.4,417.7L525.1,418.7L526.2,420.1L526.5,422.8L527.3,423.8L530.6,424.1L532.8,423.6L533.5,424.1L531.3,435.0L531.6,436.4L535.0,438.2L537.3,437.8L539.7,436.4L542.8,433.4L546.1,432.1L577.0,429.0L596.9,433.7L605.3,436.4L632.2,440.6L646.5,440.4L659.8,443.7L663.1,441.7L669.3,436.4L671.9,434.9L674.1,434.4L677.5,435.6L680.2,437.8L688.5,449.9L695.1,453.6L701.8,455.1L708.8,452.7L711.8,450.0L715.0,445.5L727.1,446.5L730.5,446.1L737.1,442.8L742.6,437.6L748.0,445.9L749.2,447.1L750.4,447.3L755.9,445.4L758.1,443.1L761.4,441.2L765.8,437.3L780.1,436.5L783.5,437.7L785.7,437.8L787.9,436.8L791.2,436.5L796.7,432.4L797.8,432.3L798.9,433.0L801.2,432.3L811.1,424.8L812.2,424.7L822.1,428.5L833.1,430.6L836.5,429.8L839.8,429.9L842.0,428.7L845.8,428.2L845.4,426.9L843.3,425.5L842.7,424.1L845.3,422.0L847.5,421.8L847.5,792.0L846.0,793.2L839.8,794.0L838.2,793.2L836.0,789.1L833.1,785.9L829.8,784.0L825.4,782.6L821.0,783.8L817.7,785.4L814.4,788.4L812.3,791.8L811.1,792.2L810.0,791.4L805.5,791.1L803.3,789.9L798.9,789.3L797.8,788.4L793.4,787.9L792.3,786.9L787.9,786.4L786.8,785.5L783.5,785.2L781.2,783.9L777.9,783.6L775.7,782.3L772.4,781.8L770.2,780.5L761.4,780.1L758.1,778.7L750.3,778.5L747.0,777.1L738.2,777.2L734.9,778.6L721.6,778.7L718.3,780.0L707.3,780.0L702.9,778.8L695.1,778.6L692.9,777.5L690.7,778.5L674.1,778.4L672.3,778.2L670.8,777.2L668.6,778.3L659.8,778.4L657.6,779.7L642.1,780.0L639.9,779.0L637.7,780.0L631.1,780.0L630.0,780.9L627.8,781.3L626.5,782.3L624.5,782.5L622.7,783.6L618.9,784.1L618.2,776.8L613.4,773.5L604.6,770.1L591.3,769.6L575.9,771.5L566.1,775.5L563.9,776.8L563.1,778.2L561.4,779.5L559.3,780.0L558.6,780.9L553.8,781.3L551.6,782.6L547.2,782.9L546.1,783.8L538.3,785.9L533.9,788.4L532.8,788.5L530.6,787.4L527.3,787.2L525.1,786.1L521.8,785.9L514.0,788.8L509.6,789.1L507.4,790.3L496.4,790.2L493.1,788.9L485.3,788.9L483.1,787.9L480.9,788.9L450.0,789.4L443.4,792.1L425.7,791.2L424.3,790.4L422.4,786.3L420.2,783.8L416.9,781.8L412.5,780.5L397.0,782.5L383.8,783.1L361.9,778.2L346.2,773.8L336.3,771.8L328.5,770.8L324.1,772.1L321.9,771.7L319.7,772.0L314.2,774.9L308.7,776.6L300.9,783.3L298.7,786.7L296.5,788.1L288.8,784.7L286.6,784.5L285.5,784.9L281.1,788.9L277.8,795.9L273.3,797.2L239.1,796.7L233.6,795.2L232.5,795.3L229.2,797.4L224.8,799.0L222.5,799.1L221.4,800.0L215.9,800.0L215.2,800.0L214.7,798.6L214.2,793.2L210.0,787.7L203.8,783.4L195.1,780.9L189.4,780.2L161.8,781.0L149.7,779.7L134.2,776.6L122.1,776.7L107.7,779.1L94.5,775.1L80.1,775.2L66.9,773.3L63.5,774.2L58.5,776.8L52.5,788.9L52.5,421.7L55.8,419.6L59.1,420.7L62.4,422.8L68.0,423.7L70.2,421.5L71.3,421.3L80.1,422.2L93.4,422.1L96.7,420.4L98.3,418.7L98.9,409.2L100.4,407.8L102.2,407.4L113.2,406.5L115.4,407.6L122.1,407.6L124.3,408.7L130.9,408.8L134.2,410.1L140.8,410.2L143.0,411.4L145.2,411.6L150.8,411.3L153.0,410.0L158.5,409.7L161.8,408.1L167.3,408.2L170.6,410.3L180.1,414.6L190.5,418.3L191.7,420.1L193.4,428.2L195.4,431.0L198.2,432.4L204.9,433.9L207.4,435.0L209.5,436.4L215.9,443.4L221.4,447.5L227.0,450.2L245.7,455.1L247.7,454.1L248.9,452.7L249.2,447.3L249.7,445.9L251.2,445.8L259.0,448.9L261.2,448.9L263.4,449.8L267.8,449.9L268.9,451.1L270.0,451.4L273.3,450.9L274.4,451.3L275.5,452.9L276.6,453.4L286.6,454.5L291.0,465.0L295.4,470.8L298.5,477.2L300.9,477.4L303.1,476.2L304.2,476.4L304.9,477.2L304.5,478.6L305.4,479.5L311.2,477.2L312.4,475.9L308.7,474.1L305.9,470.4L306.1,469.1L308.0,466.4L307.6,465.5L302.0,465.8L301.8,465.0L302.5,463.6L305.4,463.5L307.6,464.7L308.7,464.1L309.8,465.6L310.9,465.5L311.5,463.6L319.7,463.0L320.9,463.6L320.8,465.0L319.4,467.7L319.7,469.1L323.0,469.4L327.4,471.0L331.9,471.0L332.4,470.4L331.7,466.4L332.0,465.0L338.2,454.1L338.1,452.7L335.4,450.0L331.9,447.7L325.3,444.6L323.0,441.6L321.9,436.4L327.4,429.1L329.6,427.5L334.1,425.9L335.2,426.1L336.3,426.8L339.6,431.4L344.0,434.8L346.9,435.0L349.5,436.1L355.0,435.7L356.0,432.3L359.9,426.9L361.3,422.8L363.9,420.8L367.2,420.1L368.3,419.2L373.8,418.8L376.0,417.1L381.0,414.6L389.3,414.5L392.6,411.5L394.8,410.4L397.0,410.1L397.8,409.2L398.1,405.0L399.2,404.0L401.4,404.1L402.4,405.1L402.5,408.2L404.7,407.4L406.9,405.1L409.9,398.3L415.8,392.4L420.1,386.0L420.9,381.9L421.8,368.3L423.7,361.5ZM503.0,406.2L498.6,407.7L497.5,408.6L488.6,410.5L484.2,413.5L479.6,417.3L478.1,420.1L473.2,426.4L471.0,427.8L465.5,429.5L462.1,431.8L462.1,433.7L462.8,435.0L463.2,438.3L465.5,440.3L469.1,439.1L473.3,432.3L475.4,430.9L478.7,429.9L480.9,430.1L486.4,433.1L487.5,432.5L490.6,428.2L496.4,425.0L498.6,421.4L500.8,420.8L504.1,420.6L505.6,421.4L504.9,422.8L503.0,423.8L498.8,428.2L496.9,429.6L496.8,433.7L498.6,435.7L505.2,435.5L507.4,434.9L510.6,432.3L512.9,426.9L514.7,420.1L514.8,411.9L514.2,409.2L510.7,407.0L503.0,406.2ZM616.7,494.8L610.1,499.5L607.0,503.1L607.0,504.5L609.4,505.8L616.7,508.3L623.4,509.0L628.1,512.7L632.2,514.3L641.0,515.8L649.9,515.3L657.9,512.7L659.9,511.3L662.0,508.6L662.2,505.8L660.5,503.1L657.6,501.1L653.2,499.3L647.6,498.3L641.0,498.0L635.5,498.7L628.9,500.4L624.5,498.8L618.9,494.8L616.7,494.8Z"/>
<path fill="#fffaaa" d="M464.4,377.8L466.6,377.1L472.1,379.6L474.3,381.6L474.6,383.3L478.7,386.8L485.3,389.8L487.5,389.8L496.4,386.4L500.8,386.6L503.0,385.9L509.6,386.2L535.0,396.5L541.0,401.0L541.5,402.4L530.6,405.6L525.7,409.2L524.0,409.8L518.6,409.2L518.5,407.3L514.0,406.7L511.8,405.5L507.4,405.3L501.9,405.4L497.1,407.8L494.2,408.1L492.0,409.4L488.6,409.6L478.7,416.8L477.1,420.1L473.2,424.8L467.7,427.5L465.5,428.0L460.9,431.0L460.6,432.3L461.5,435.0L461.9,439.1L465.5,442.1L469.9,440.9L472.1,438.6L473.2,438.6L480.4,448.7L480.9,451.8L482.0,452.6L486.4,453.0L490.9,455.5L498.6,457.3L501.9,458.7L505.2,461.9L507.4,466.6L508.5,467.0L511.3,460.9L514.0,457.5L517.4,455.2L524.0,452.0L528.4,450.4L537.2,448.8L545.0,446.6L549.4,444.8L559.3,439.7L568.3,436.4L577.0,434.4L585.4,436.4L602.4,442.8L618.9,447.8L632.2,451.2L646.5,449.8L659.8,453.5L666.4,450.2L673.0,445.7L674.1,445.9L679.0,452.7L680.6,462.3L681.9,466.2L684.1,468.8L686.3,469.8L687.4,469.9L694.8,466.4L700.6,464.9L707.6,466.4L715.0,469.6L721.5,463.6L728.2,460.1L750.3,457.6L753.6,456.4L757.0,454.1L760.3,455.2L762.0,456.8L762.2,459.5L761.2,460.9L760.6,465.0L761.4,466.6L762.5,464.5L762.7,458.2L763.6,454.1L765.9,454.1L766.9,459.5L769.1,462.1L782.4,459.5L792.3,455.8L793.4,456.0L794.5,457.0L795.6,460.7L801.1,455.1L803.3,454.7L807.5,451.4L809.7,445.9L809.2,443.2L810.0,437.8L811.7,436.4L827.6,435.8L837.6,431.6L840.9,431.7L843.1,430.7L845.6,431.0L846.5,436.4L847.5,437.9L847.5,773.0L837.6,777.2L813.3,777.8L810.8,778.2L807.8,780.9L801.1,780.9L800.0,780.5L800.0,779.5L798.9,779.1L798.8,778.2L797.2,776.8L781.2,770.2L774.6,768.8L757.0,766.7L742.6,763.3L728.2,765.3L715.0,764.1L701.8,765.3L687.4,763.3L674.1,765.4L658.7,765.6L645.4,768.1L631.1,763.9L603.5,761.2L597.4,759.1L591.3,754.6L588.0,754.1L577.0,754.2L562.6,759.5L536.1,760.4L528.4,765.6L521.8,768.2L515.1,765.6L507.4,760.2L480.9,760.0L474.3,756.7L466.6,754.2L439.0,754.2L424.6,755.7L410.2,759.8L398.1,759.9L383.8,756.5L361.7,761.9L329.6,764.6L326.3,765.3L320.8,767.9L314.2,773.7L307.6,775.9L304.2,778.2L302.0,780.9L299.8,782.2L298.7,782.2L295.4,779.5L291.0,778.4L286.6,778.0L274.2,778.2L273.2,779.5L272.2,784.9L271.1,785.3L245.7,785.1L239.1,780.4L217.0,768.1L202.7,766.4L190.5,764.1L162.9,763.9L156.8,760.5L150.8,758.3L135.3,756.4L119.9,757.0L110.7,759.1L102.2,763.2L96.7,764.9L80.1,767.5L65.7,767.3L58.0,769.5L52.5,771.9L52.5,440.0L53.6,440.6L65.8,440.6L80.1,436.7L91.1,436.2L93.4,437.2L115.4,426.1L119.2,422.8L125.4,414.6L132.0,414.6L139.0,424.1L140.6,428.2L142.1,435.0L146.8,439.1L150.8,439.6L153.0,440.8L161.8,448.3L162.6,447.3L164.0,430.9L176.2,431.0L177.5,432.3L185.0,445.9L188.9,451.4L190.5,452.8L199.4,455.0L206.0,458.2L219.2,462.3L231.4,464.7L245.7,464.7L253.5,462.9L260.1,460.2L267.8,458.7L270.0,458.6L273.3,459.4L274.8,460.9L276.6,467.3L278.2,470.4L291.4,482.7L293.2,483.7L298.7,483.9L298.9,482.7L299.8,482.4L300.0,481.3L301.3,480.0L302.0,479.9L304.2,482.0L305.4,481.8L309.8,479.6L315.3,477.7L318.6,474.6L323.0,472.8L333.0,472.9L335.2,471.5L340.7,471.9L342.9,471.2L348.4,460.8L355.8,452.7L354.6,447.3L351.2,439.1L351.2,437.8L355.0,437.4L356.0,436.4L356.8,435.0L357.2,432.3L360.3,428.2L361.7,424.9L363.2,422.8L369.4,420.3L373.8,420.3L380.5,416.0L389.3,415.7L392.6,414.4L405.8,415.8L409.1,417.0L411.4,418.8L418.0,410.0L423.5,403.9L430.2,399.6L433.4,396.7L436.1,392.8L439.0,386.3L440.1,385.6L452.2,385.1L464.4,377.8ZM472.1,443.1L467.7,445.9L468.8,451.6L469.9,452.5L471.0,452.3L471.7,451.4L473.1,447.3L473.2,445.9L472.1,443.1ZM615.6,488.0L610.1,489.8L605.7,492.3L603.5,495.8L600.5,503.1L600.5,504.5L604.6,507.3L615.1,511.3L620.4,515.4L625.6,517.6L632.2,519.4L635.5,519.7L645.4,520.1L653.5,519.5L659.8,517.9L665.7,515.4L669.4,512.7L671.9,508.6L672.5,504.5L666.6,499.0L660.9,496.3L656.3,495.0L645.4,493.6L636.6,493.8L626.7,495.5L623.4,493.4L617.8,487.7L615.6,488.0ZM399.0,405.1L400.7,405.1L400.8,406.4L400.3,408.0L399.2,408.3L398.6,406.4L399.0,405.1Z"/>
<path fill="#ffe878" d="M466.5,398.3L484.2,398.3L484.2,406.4L480.7,413.3L478.0,416.0L476.5,419.4L472.3,424.1L465.5,427.0L461.0,429.5L459.8,431.0L459.6,432.3L460.8,439.1L465.9,444.6L465.7,445.9L466.6,451.4L471.2,460.9L474.8,474.5L475.4,475.4L477.6,474.3L479.8,474.6L481.1,475.9L482.0,478.3L483.1,478.2L488.6,475.8L494.2,471.2L498.6,475.3L501.9,477.5L507.4,479.7L517.4,481.3L519.6,482.7L521.8,485.6L525.1,481.2L527.3,479.6L530.6,478.3L536.1,477.3L548.3,477.2L549.5,470.4L552.3,463.6L554.9,454.1L558.2,450.8L563.7,447.9L571.5,449.6L577.0,453.0L582.5,449.6L590.2,447.9L604.6,450.6L611.2,453.5L622.9,460.9L626.7,463.9L632.2,469.7L634.4,469.1L644.3,464.3L646.5,464.0L658.7,469.9L663.1,473.4L666.4,475.2L687.4,480.9L701.8,476.4L722.7,479.2L724.9,480.5L726.0,482.6L727.7,495.0L729.4,496.5L730.5,495.0L731.4,490.9L736.0,487.3L737.1,484.1L732.2,477.2L729.5,471.8L730.0,470.4L734.9,468.8L742.6,467.2L745.9,468.5L747.9,470.4L748.1,477.2L749.2,478.1L750.3,477.9L754.8,473.7L756.1,473.2L757.0,472.0L758.1,472.2L761.4,475.1L762.3,477.2L761.4,481.3L759.9,482.7L759.2,486.0L762.5,484.9L768.0,485.2L772.4,482.3L783.5,479.1L797.8,477.3L812.2,476.9L818.0,474.5L831.7,470.4L838.7,462.7L840.9,463.0L846.4,466.4L847.5,467.6L847.5,763.6L838.7,764.7L826.5,765.4L824.3,765.1L816.0,761.8L805.5,756.7L794.5,752.6L789.9,749.6L784.6,744.0L783.5,743.7L773.5,749.7L770.2,751.1L769.1,751.1L755.9,749.4L742.6,746.1L737.1,743.5L730.5,738.3L728.2,737.2L701.8,737.1L686.3,738.9L674.1,742.7L667.1,746.9L659.8,749.4L653.2,747.2L643.2,741.8L634.4,739.1L631.1,738.6L618.9,738.9L613.4,737.8L609.2,736.0L604.6,731.9L603.5,731.9L591.3,734.2L577.0,732.6L550.5,735.9L536.1,736.0L521.8,737.0L507.4,734.3L480.9,734.3L465.5,732.6L439.0,732.6L425.7,735.9L411.4,740.3L384.9,739.9L369.4,740.6L356.1,746.1L341.8,747.3L335.2,750.2L328.5,754.0L315.3,755.6L306.5,761.1L303.1,762.6L287.7,765.4L273.3,764.7L259.0,765.4L246.8,763.4L240.3,760.5L238.6,759.1L233.6,752.9L231.4,751.2L208.2,747.9L190.5,743.0L176.2,746.3L162.9,748.4L135.3,747.9L107.7,750.4L97.8,752.7L80.1,759.4L63.5,761.3L52.5,763.2L52.5,469.6L54.7,470.3L80.1,470.2L93.4,462.3L96.7,461.2L107.7,459.1L122.1,459.0L129.8,457.2L134.7,454.1L138.6,448.7L153.0,448.7L154.1,449.7L154.1,451.4L155.6,454.1L157.4,455.2L159.6,454.7L160.7,453.1L170.6,459.1L176.2,459.1L191.6,461.0L194.9,463.0L198.2,466.0L203.8,474.9L204.9,475.7L217.0,474.2L245.7,472.9L259.0,473.8L264.1,475.9L268.9,479.1L282.2,493.9L287.7,488.5L288.8,488.5L299.8,493.2L302.0,493.2L323.0,486.1L325.6,482.7L328.5,474.4L331.9,477.7L334.1,478.7L340.7,479.6L342.9,479.1L350.3,471.8L356.1,464.2L369.4,458.6L380.4,454.6L383.9,452.7L397.0,436.9L401.9,428.2L404.5,426.9L406.9,426.4L409.1,426.8L413.6,424.8L416.9,424.6L420.2,423.1L424.6,423.5L426.8,423.1L444.3,417.3L451.1,412.7L459.9,402.4L466.5,398.3ZM615.6,479.8L604.6,483.0L602.1,485.4L600.0,489.5L594.7,503.1L594.7,504.5L597.5,507.2L603.5,510.4L612.3,513.1L621.7,518.1L625.6,519.5L628.9,519.8L631.1,520.9L646.5,522.1L654.3,521.4L662.0,519.2L667.5,518.7L673.0,522.0L674.7,520.8L678.7,504.5L677.1,500.4L674.1,497.2L663.1,493.2L658.7,492.3L653.2,492.5L649.9,491.7L638.8,491.9L632.2,493.0L627.8,492.3L623.1,488.1L621.1,482.6L619.4,480.0L617.8,479.3L615.6,479.8ZM431.2,482.4L431.0,484.1L431.8,488.1L439.0,488.3L440.6,486.8L440.2,482.7L439.0,482.1L432.3,482.0L431.2,482.4ZM143.0,444.6L145.2,444.6L144.1,445.9L143.0,444.6ZM139.7,445.9L140.8,444.6L141.9,445.9L140.8,447.3L139.7,445.9ZM147.5,445.9L149.7,445.9L149.7,447.3L148.6,447.3L147.5,445.9Z"/>
<path fill="#ffc03c" d="M441.0,454.1L443.4,453.0L450.0,453.2L452.9,456.8L452.3,459.5L453.3,460.0L455.5,459.9L457.7,458.8L460.3,455.5L465.5,455.2L466.6,477.6L471.0,479.1L473.5,482.7L477.4,485.4L482.0,487.2L485.3,490.7L489.8,486.6L492.0,486.7L493.1,487.4L496.0,492.2L498.2,497.7L499.7,498.8L500.5,497.7L501.0,495.0L499.6,492.2L499.6,490.9L500.8,489.4L504.1,488.1L506.3,488.0L508.5,489.0L509.6,488.9L510.1,489.5L509.1,490.9L509.4,492.2L508.7,495.0L509.1,496.3L510.7,498.3L514.0,499.3L516.2,498.8L520.7,499.0L522.9,501.2L528.4,499.5L535.0,496.4L549.4,498.0L556.0,494.8L557.1,494.8L559.3,497.4L563.7,498.9L567.0,499.0L568.1,497.7L568.0,495.0L565.9,490.9L565.7,489.5L566.5,485.4L565.4,484.1L565.3,482.7L567.0,480.2L571.5,477.6L580.3,475.2L584.5,473.2L586.9,470.9L591.3,464.7L596.9,463.0L604.6,462.1L615.8,469.1L617.0,470.4L612.3,472.6L601.3,475.9L598.0,477.7L595.8,481.3L594.2,488.1L591.3,495.9L590.2,497.9L585.2,503.1L584.7,504.5L599.1,512.7L604.6,514.4L615.6,516.6L624.5,520.1L628.9,520.7L631.1,521.7L636.7,522.2L646.5,525.3L658.1,522.2L660.9,522.1L673.0,527.8L674.1,527.7L676.4,525.9L680.6,520.8L683.9,505.8L684.9,499.0L686.8,495.0L688.5,494.0L704.0,490.1L712.8,486.4L715.0,486.2L716.8,488.1L716.6,490.9L714.8,493.6L714.5,495.0L716.1,495.9L716.9,497.7L717.0,501.8L716.0,504.5L718.3,505.8L727.1,505.8L733.8,499.9L734.9,499.7L736.0,505.0L739.5,504.5L742.6,502.4L749.0,501.8L750.2,500.4L750.7,497.7L751.4,496.9L753.6,497.1L755.9,495.5L757.4,493.6L759.6,488.1L761.4,487.1L762.5,487.3L763.2,488.1L764.5,492.2L763.6,495.0L764.7,495.6L784.6,493.2L797.8,493.1L811.1,491.7L814.4,490.4L821.5,485.4L825.4,483.4L834.9,485.4L847.5,491.1L847.5,741.5L838.7,739.4L798.9,739.4L797.8,739.2L790.1,734.5L783.5,732.3L770.2,734.2L757.0,734.2L754.8,733.2L751.4,730.2L742.6,719.1L729.4,713.4L704.0,713.0L700.6,713.2L688.5,716.9L681.9,720.5L675.2,722.9L654.3,727.4L646.5,728.5L632.2,727.9L618.9,729.4L616.7,728.4L610.1,722.1L604.6,718.4L589.1,720.2L562.6,720.7L549.4,722.0L535.0,722.4L521.8,723.8L508.5,722.1L494.2,722.9L479.8,722.3L463.2,719.4L453.3,715.9L451.1,715.8L425.7,718.9L421.3,721.3L414.6,726.4L411.4,728.0L397.0,725.7L383.8,725.8L370.5,728.1L356.1,729.2L342.9,732.9L327.4,732.8L309.7,737.3L307.6,738.8L305.2,742.8L303.8,744.1L302.0,745.4L300.9,745.4L297.5,742.8L295.9,738.7L294.8,734.6L293.7,725.1L289.9,715.7L288.8,716.8L288.5,718.3L286.6,721.7L281.1,726.6L273.3,726.6L268.9,731.3L265.6,732.9L261.2,734.0L259.0,733.9L257.4,733.2L245.7,726.2L219.2,725.8L204.9,729.0L188.3,728.7L166.2,729.8L148.6,731.4L135.3,731.5L122.1,736.8L108.8,737.1L104.4,736.0L100.0,733.7L97.8,731.9L94.5,727.6L93.4,727.7L89.1,734.6L85.6,738.5L82.1,741.4L79.4,742.8L65.8,746.0L58.0,744.6L52.5,742.6L52.5,492.0L80.1,494.1L84.5,491.5L93.4,484.5L107.7,483.3L122.1,487.2L172.9,486.8L174.0,486.9L177.3,492.3L180.6,480.0L183.9,472.4L186.1,469.8L190.5,467.9L193.4,470.4L201.4,485.4L203.8,488.3L205.3,488.1L212.1,482.7L218.1,480.2L244.6,479.0L247.9,479.4L257.9,481.8L261.2,483.6L264.7,486.8L268.2,495.0L271.1,499.1L274.4,501.5L281.1,503.0L282.2,501.8L281.7,499.0L284.2,493.6L285.5,492.9L286.6,490.8L287.7,490.2L293.2,495.9L296.5,497.9L300.9,499.5L315.3,495.9L328.5,493.6L336.3,490.5L342.9,487.0L349.4,481.3L356.1,474.5L357.2,474.0L370.5,470.4L383.8,467.7L398.1,466.8L412.5,461.6L424.6,457.9L437.9,458.8L438.9,456.8L439.0,455.5L440.1,454.2L441.0,454.1ZM450.0,460.9L447.3,462.3L450.0,463.5L451.1,463.2L452.2,461.9L452.2,459.7L450.0,460.9ZM285.5,640.6L286.6,642.1L288.2,642.0L288.0,640.7L286.6,639.8L285.5,640.6ZM430.1,481.3L429.3,482.7L429.2,484.1L429.8,485.4L429.3,489.5L430.1,493.4L440.1,494.0L444.5,495.5L446.7,498.8L447.8,504.5L451.1,508.6L452.2,509.3L454.4,509.2L459.9,506.6L462.7,504.5L462.9,500.4L462.1,500.0L458.8,498.9L456.6,499.0L454.4,499.9L452.8,499.0L451.1,488.2L447.8,481.1L446.7,480.4L445.6,480.7L437.9,480.1L431.2,480.3L430.1,481.3ZM477.4,475.9L478.7,475.4L479.9,475.9L480.3,478.6L479.8,480.6L478.7,480.7L477.1,478.6L477.4,475.9ZM639.1,477.2L645.4,476.9L647.6,477.8L653.2,482.1L656.1,485.4L656.6,486.8L655.5,488.1L651.0,489.7L636.6,490.8L633.3,491.5L630.5,490.9L627.4,488.1L626.8,486.8L627.6,482.7L628.9,480.1L632.2,477.6L639.1,477.2ZM670.4,486.8L674.1,486.2L675.6,486.8L675.9,488.1L674.1,488.6L671.9,488.4L671.1,488.1L670.4,486.8Z"/>
<path fill="#ffa000" d="M189.4,482.7L190.5,481.6L196.0,490.1L200.5,494.7L203.8,497.1L206.0,496.5L218.1,486.4L231.4,485.2L244.6,485.1L250.4,486.8L251.8,488.1L251.4,489.5L249.0,492.1L243.5,496.3L241.7,499.0L240.2,503.1L240.3,505.8L244.0,516.7L245.6,518.1L247.9,518.4L250.1,519.6L251.5,519.5L253.5,517.0L260.1,516.9L262.0,518.1L265.6,518.5L266.7,520.3L267.8,520.9L270.1,520.8L270.4,514.0L274.4,509.0L276.6,506.9L280.0,506.8L283.8,504.5L284.4,503.4L285.4,503.1L285.5,502.2L285.7,503.1L288.2,504.5L300.9,507.2L314.2,503.2L328.5,501.4L338.5,498.4L345.1,495.5L349.1,492.2L353.1,486.8L356.1,483.9L369.4,482.7L383.8,484.0L397.0,484.1L399.2,484.7L403.6,487.1L409.1,493.8L414.7,498.7L419.4,501.8L425.7,504.8L430.1,504.9L433.4,504.3L436.8,499.3L439.0,499.3L441.7,501.8L446.7,510.1L450.0,512.9L453.3,514.1L459.9,512.3L466.6,509.3L472.1,508.1L474.8,501.8L474.0,499.0L473.2,497.9L466.5,496.3L471.0,494.1L472.1,492.9L473.2,487.4L474.3,486.8L475.4,487.7L481.5,489.5L483.9,492.2L483.9,493.6L483.1,494.6L482.0,495.1L477.6,495.3L476.9,496.3L482.0,500.1L483.1,500.1L487.9,495.0L488.6,491.0L489.8,490.8L490.9,489.1L492.0,489.0L496.7,499.0L500.0,501.8L501.9,505.1L503.7,503.1L502.7,500.4L503.0,496.3L503.7,495.0L501.9,492.2L505.2,490.8L506.3,493.2L506.6,497.7L508.5,501.3L511.8,505.8L514.0,505.8L512.9,507.2L514.0,508.6L514.9,515.4L517.4,522.2L519.6,525.5L521.8,526.8L535.4,520.8L540.5,514.6L546.1,510.8L549.4,509.4L562.6,507.1L565.9,508.3L570.4,511.5L573.7,515.3L577.0,520.3L582.5,516.3L590.2,514.6L600.2,517.3L618.9,519.5L624.5,521.3L627.8,521.7L630.0,522.8L633.6,523.5L639.7,527.6L645.4,529.4L659.8,527.0L673.0,533.5L675.2,532.8L678.3,530.4L684.7,523.5L686.3,520.8L688.5,513.9L690.6,511.3L694.6,508.6L700.6,506.5L712.8,505.6L715.0,507.0L717.4,509.9L718.7,512.7L719.4,516.6L724.9,514.2L734.9,510.9L736.0,510.8L737.1,511.6L738.2,513.8L739.3,513.4L740.3,511.3L740.6,507.2L742.6,506.1L743.7,504.5L756.3,503.1L757.0,502.2L760.3,504.6L770.2,504.8L784.6,506.9L797.8,506.9L812.2,502.4L819.9,503.1L826.5,504.4L847.5,504.8L847.5,721.1L843.1,717.8L839.8,712.5L838.5,712.8L837.0,714.2L831.5,721.0L827.6,723.8L826.0,723.7L824.3,722.4L819.9,722.8L811.1,720.1L797.8,720.0L783.5,718.9L761.0,715.5L757.0,714.4L755.9,713.4L750.3,706.2L748.4,704.6L724.9,697.7L718.3,694.4L715.0,691.5L711.7,693.0L709.5,696.5L702.9,699.7L700.6,700.2L688.5,700.2L686.3,700.7L681.9,703.3L676.8,708.7L673.0,711.1L632.2,712.2L618.9,715.3L609.0,710.1L596.9,706.9L591.3,704.9L590.2,705.0L585.8,708.7L583.6,709.9L577.0,712.1L550.5,712.5L522.9,714.4L508.5,712.7L496.4,715.4L493.1,715.7L479.8,713.7L466.6,710.6L463.4,708.7L458.8,705.1L453.3,702.6L439.0,702.0L411.4,704.5L397.3,708.7L383.8,711.7L377.1,716.0L370.5,718.7L363.9,717.5L356.1,714.6L341.8,718.6L335.2,714.9L328.5,709.0L316.4,716.5L314.2,717.2L308.7,717.3L306.5,718.5L304.2,720.8L302.0,721.4L300.9,721.0L295.8,714.2L292.4,711.5L288.8,709.5L286.0,708.7L285.5,707.2L282.0,704.6L277.8,703.0L273.3,702.1L267.1,704.6L257.9,709.4L251.2,710.9L244.6,711.6L232.5,711.5L224.7,707.4L218.1,705.1L203.8,706.8L164.0,706.6L148.6,709.0L137.5,708.9L107.7,704.5L94.5,704.5L91.1,706.0L66.9,721.1L62.4,721.8L52.5,722.1L52.5,504.9L66.9,510.2L79.0,511.2L93.4,507.5L107.7,504.5L161.8,504.6L174.0,504.0L177.5,503.1L178.4,501.8L178.4,499.0L179.5,498.8L181.7,496.3L189.4,482.7ZM282.2,633.9L281.5,635.2L281.6,636.6L282.2,639.3L283.1,640.7L286.6,643.8L293.2,646.9L294.8,648.8L295.5,654.3L295.2,658.4L294.2,661.1L294.2,669.2L293.1,673.3L293.2,676.9L300.9,677.0L303.1,675.1L303.7,673.3L303.3,657.0L300.9,653.1L298.3,651.5L296.5,649.4L295.4,646.2L294.5,640.6L292.6,637.9L287.7,634.2L282.2,633.9ZM631.9,485.4L634.4,485.0L641.1,486.8L636.5,488.1L632.2,488.4L631.2,486.8L631.9,485.4ZM461.0,486.8L463.2,486.8L463.2,488.1L462.1,489.5L461.0,489.5L461.0,486.8ZM463.2,486.8L464.4,486.8L464.4,488.8L463.2,488.1L463.2,486.8ZM569.2,486.8L577.0,485.7L579.7,486.8L580.3,488.1L577.0,491.5L572.6,491.3L569.2,490.7L568.1,489.9L568.1,488.1L569.2,486.8ZM461.0,490.9L462.1,489.5L463.2,489.5L463.3,493.6L462.1,493.6L462.1,492.2L461.0,490.9ZM514.0,508.6L515.1,507.2L517.4,507.2L517.4,508.6L514.0,508.6Z"/>
<path fill="#ff6000" d="M218.1,496.3L222.5,497.8L227.0,501.2L233.6,513.2L238.3,518.1L240.2,518.9L246.8,519.3L250.1,520.7L252.4,520.6L254.6,518.1L259.0,518.1L261.2,519.3L264.5,519.6L266.7,522.0L271.1,521.7L272.0,520.8L271.3,518.1L271.7,514.0L274.4,511.0L275.5,510.6L280.0,514.9L284.4,517.6L287.7,518.8L300.9,521.5L314.2,518.2L327.4,513.3L341.8,510.4L345.1,510.6L353.9,512.4L356.1,513.1L358.4,515.2L368.3,528.0L371.6,531.0L383.8,538.4L397.0,539.0L400.8,544.0L403.6,546.5L406.9,548.3L411.4,549.8L412.5,549.3L412.6,548.1L411.6,541.2L413.9,534.4L416.2,530.4L419.1,526.5L420.6,523.5L425.7,521.3L427.9,519.1L428.6,516.7L428.2,514.0L431.3,509.9L435.2,507.2L436.8,505.5L437.9,505.2L439.0,506.0L440.7,511.3L442.3,514.0L444.5,516.1L446.7,517.2L453.3,518.7L466.6,517.0L471.0,518.0L473.3,519.5L474.7,522.2L473.7,537.2L474.3,538.5L485.3,542.4L498.6,546.1L507.4,550.1L508.5,549.9L515.1,544.3L522.2,539.9L527.6,534.4L532.8,530.7L542.8,526.1L549.4,521.7L561.5,519.4L563.7,519.8L570.0,526.3L575.9,530.3L579.2,528.8L582.5,528.8L584.7,529.5L590.2,529.0L591.5,523.5L592.4,522.9L604.6,522.2L617.8,524.3L627.8,530.1L634.4,532.6L645.4,533.6L659.8,532.3L669.2,537.2L673.0,539.9L674.1,539.9L681.3,534.4L687.4,528.5L692.7,524.9L698.4,518.0L701.8,516.1L706.2,517.5L708.4,519.5L711.6,529.0L712.8,529.3L719.4,521.6L722.0,520.8L741.5,520.0L742.6,520.1L745.5,522.2L755.9,524.8L769.1,524.9L783.5,519.3L796.7,519.1L803.1,520.8L812.2,525.7L825.4,527.2L839.8,532.8L847.5,532.9L847.5,697.5L846.4,699.8L844.2,700.0L842.0,701.3L839.8,701.8L838.2,700.6L835.3,695.1L832.0,691.6L826.5,688.8L824.3,688.5L813.3,691.1L804.4,696.1L797.8,698.4L791.2,696.7L784.6,693.4L783.5,694.4L782.4,697.1L782.1,701.9L781.2,702.9L777.1,703.3L774.6,705.6L771.3,705.6L770.2,704.7L769.1,704.7L768.0,705.5L765.8,705.6L761.4,704.0L759.2,702.5L758.3,699.2L757.0,697.6L753.6,696.7L751.4,697.2L744.4,689.7L740.4,687.4L736.0,687.2L733.8,688.2L726.0,688.5L715.0,677.8L704.0,677.6L702.7,678.8L702.8,680.1L701.8,683.1L700.6,683.0L686.3,680.1L674.1,675.3L671.6,676.1L666.9,680.1L663.7,684.2L659.8,691.0L658.7,691.6L649.9,694.3L633.3,697.2L617.8,696.0L604.6,696.4L600.2,693.8L594.6,688.6L591.3,686.4L563.7,683.3L549.4,686.0L535.0,686.2L531.0,688.3L528.0,692.4L525.1,695.2L522.9,696.7L520.7,696.9L510.7,692.8L509.6,691.0L516.2,685.8L517.8,682.9L522.3,677.4L522.7,676.1L522.8,670.6L526.2,668.5L527.3,667.2L528.6,662.4L528.5,659.7L526.5,655.6L526.4,654.3L528.4,651.1L533.7,646.1L535.7,642.0L535.4,640.6L532.8,637.8L531.3,633.8L529.7,622.9L524.2,606.6L524.0,591.6L521.8,590.7L515.1,591.6L514.7,606.6L512.9,613.4L511.4,622.9L509.7,625.7L507.4,626.8L504.1,625.7L501.9,624.3L497.5,619.7L494.2,618.3L492.0,620.8L489.8,626.1L488.2,628.4L486.4,629.9L480.9,632.7L477.6,638.1L476.4,642.0L476.4,648.8L477.0,650.2L478.7,652.9L483.3,655.6L484.9,658.4L484.9,673.3L486.4,674.5L493.1,675.0L494.2,675.7L500.5,691.0L499.0,692.4L496.4,693.5L494.2,696.0L489.2,692.4L488.6,690.4L485.9,688.3L485.3,686.9L484.2,686.9L484.2,684.2L483.1,683.2L466.6,683.3L459.9,685.9L453.3,690.2L452.2,689.9L450.0,687.5L447.4,685.6L440.1,683.4L437.9,683.7L425.7,688.1L410.2,685.1L398.1,687.4L383.8,695.2L377.5,700.6L372.4,708.7L370.5,709.9L369.4,710.0L366.9,708.7L362.5,703.3L357.2,699.2L355.0,698.6L342.9,700.0L333.0,693.8L333.0,691.0L338.1,684.2L340.7,678.4L341.0,672.0L339.6,669.0L335.2,665.1L328.5,662.7L321.9,665.3L315.3,669.5L314.2,668.9L312.0,663.3L308.2,648.8L305.9,644.7L300.9,639.8L298.3,633.8L296.5,631.9L293.2,629.9L288.8,628.5L285.5,628.2L279.1,628.4L278.7,631.1L282.1,640.6L284.4,642.8L289.8,650.2L289.9,654.3L283.3,661.0L281.4,663.8L277.0,676.1L274.4,679.2L272.2,680.8L242.4,692.6L231.4,695.1L218.1,695.5L203.8,697.4L190.5,697.4L176.2,696.0L164.0,696.0L148.6,698.0L135.3,696.6L122.1,694.2L118.2,692.4L107.7,685.1L95.6,684.9L81.2,687.2L65.8,692.0L53.6,692.3L52.5,693.4L52.5,532.9L64.6,534.1L66.9,533.9L84.5,526.5L93.4,522.0L95.6,521.7L107.7,521.9L116.5,527.5L122.1,530.0L190.5,529.9L196.4,527.6L196.6,526.3L195.3,524.9L194.9,523.5L195.4,520.8L193.0,516.7L190.7,511.3L188.3,507.9L187.2,506.7L183.8,505.8L183.4,501.8L190.5,496.6L199.4,503.6L202.7,505.4L204.9,505.7L210.4,502.2L218.1,496.3ZM715.0,602.1L713.9,605.2L713.9,606.9L715.0,607.4L716.1,606.6L717.6,608.0L718.3,609.5L718.9,609.3L718.2,605.2L718.6,603.9L715.0,602.1ZM717.2,532.0L715.8,535.8L716.1,537.3L717.2,536.8L718.3,534.4L718.3,532.0L717.2,532.0ZM197.1,514.6L197.1,516.7L197.6,518.1L200.5,521.2L200.8,520.8L200.1,516.7L198.2,514.1L197.1,514.6ZM715.0,611.3L714.5,613.4L715.0,614.1L715.5,613.4L715.0,611.3ZM292.9,689.7L295.4,689.3L301.3,689.7L302.9,691.0L303.3,692.4L302.0,695.9L300.9,697.1L299.8,697.4L291.0,697.3L291.1,692.4L292.9,689.7Z"/>
<path fill="#ff3200" d="M202.3,514.0L208.2,514.4L212.6,516.1L214.8,518.7L216.9,524.9L218.1,526.9L221.4,527.5L233.6,527.9L234.7,528.6L235.1,530.4L234.7,533.1L235.8,537.8L236.9,538.2L245.7,539.1L248.4,537.2L251.2,536.1L260.1,534.5L265.0,535.8L265.1,537.2L262.7,539.9L264.5,540.4L266.7,539.3L271.1,539.2L272.2,540.0L274.4,540.5L276.6,542.0L278.9,545.6L282.2,545.9L283.7,545.3L284.6,544.0L282.2,541.6L279.4,539.9L281.1,538.8L314.2,539.2L316.4,540.6L328.5,555.5L332.0,559.0L337.4,562.2L349.5,567.0L356.1,572.1L369.4,573.1L377.1,576.9L393.7,580.4L398.1,581.1L411.4,581.0L418.0,577.6L421.2,575.3L421.8,573.9L413.4,567.1L412.6,565.8L412.9,563.0L412.1,561.7L411.9,559.0L414.3,549.4L413.6,541.1L414.7,538.5L416.6,537.2L416.9,536.1L419.1,534.7L421.3,534.4L421.3,531.7L422.4,529.0L423.5,528.5L439.0,528.4L446.7,530.3L452.2,532.7L466.6,555.1L473.2,552.8L479.8,551.4L494.2,552.6L498.4,554.9L503.6,560.3L507.4,562.4L509.6,561.5L514.6,554.9L520.7,549.6L522.9,549.0L525.1,549.6L528.3,552.1L529.4,554.9L528.5,572.6L525.9,576.7L521.8,580.0L508.5,580.2L505.2,580.9L498.6,584.1L494.2,588.8L488.6,585.2L480.9,583.5L473.2,584.4L469.2,586.2L469.2,587.5L469.9,588.0L471.2,591.6L469.4,603.9L471.0,607.5L474.3,610.4L476.7,614.8L477.1,617.5L479.0,621.6L479.0,627.0L479.6,629.8L477.6,634.2L476.5,634.9L453.3,635.0L446.7,636.9L439.0,640.5L425.7,641.0L423.5,642.7L411.4,657.1L398.1,657.4L369.4,675.0L365.0,676.9L359.5,678.4L356.1,678.8L347.3,676.6L344.0,675.3L343.6,673.3L345.0,669.2L347.3,667.1L354.8,662.4L357.2,662.2L360.1,659.7L361.5,652.9L364.5,646.1L364.8,636.6L365.9,633.8L370.1,628.4L372.2,624.3L372.5,621.6L373.2,620.2L372.1,613.4L371.6,612.8L368.3,612.4L365.0,609.0L362.8,607.8L359.0,608.0L356.1,608.9L355.0,608.0L352.8,607.5L349.5,603.7L345.1,601.0L339.6,600.5L339.0,599.8L339.2,598.4L337.5,590.3L336.4,587.5L331.9,584.2L327.4,582.9L325.7,583.5L325.1,584.8L325.5,594.4L325.9,597.1L327.2,599.8L330.8,602.6L332.6,605.2L332.9,606.6L332.4,608.0L330.4,610.7L328.5,612.0L327.4,611.8L324.1,609.6L319.8,605.2L312.0,603.6L308.7,602.3L305.4,599.0L303.7,594.4L302.9,588.9L302.8,573.9L302.0,572.9L300.9,573.2L297.6,577.3L294.0,579.4L287.7,581.0L280.0,581.2L278.9,584.2L278.4,590.3L277.1,593.0L276.6,595.7L276.6,597.7L280.0,606.6L278.1,614.8L275.5,619.8L273.3,617.9L271.9,617.5L270.0,615.3L268.9,615.1L265.1,628.4L263.4,631.6L261.3,633.8L245.7,640.4L237.0,636.6L231.4,635.2L220.6,639.3L218.5,640.6L215.9,643.4L215.9,644.1L214.8,644.7L208.2,644.7L208.2,652.9L207.1,653.3L207.1,654.3L206.0,654.5L205.6,655.6L201.7,657.0L190.5,658.0L178.4,672.6L176.2,674.2L149.7,674.7L122.1,674.3L115.4,669.5L109.9,666.9L93.4,663.4L79.0,663.5L52.5,669.0L52.5,555.3L54.7,555.7L80.1,555.7L93.4,563.6L96.7,564.1L106.6,564.0L108.1,557.6L108.8,556.8L110.6,556.2L121.0,555.8L176.2,555.9L190.5,555.5L203.8,551.4L207.1,549.9L212.6,545.9L214.8,543.5L215.9,541.3L216.0,539.9L214.8,536.0L209.3,529.4L208.2,527.0L204.9,524.5L201.6,519.5L201.4,515.4L201.6,514.3L202.3,514.0ZM196.8,520.8L197.1,519.7L198.2,520.5L203.8,528.0L207.5,534.4L207.1,536.1L206.0,536.3L203.8,534.1L202.1,531.7L200.7,527.6L196.3,523.5L196.8,520.8ZM547.1,534.4L550.5,533.8L562.6,535.1L569.2,538.5L569.7,539.9L568.8,542.6L566.6,545.3L550.5,555.0L549.4,555.1L543.9,548.3L535.7,542.6L534.0,539.9L534.1,538.5L536.1,537.0L547.1,534.4ZM584.6,535.8L596.9,535.9L598.6,537.2L606.8,539.5L609.0,538.8L617.8,539.1L620.0,540.6L629.4,552.1L631.1,553.2L632.2,553.3L633.3,552.1L636.6,546.2L639.3,544.0L641.2,539.9L642.8,538.5L651.0,537.6L658.7,537.6L661.2,538.5L661.6,539.9L660.9,544.7L658.6,548.1L659.2,550.8L659.0,553.5L659.8,555.0L665.3,553.7L668.6,552.0L674.1,550.9L676.4,549.7L681.3,545.3L685.7,538.5L687.4,537.1L688.5,537.0L692.9,538.1L695.8,539.9L699.5,538.8L703.2,539.9L709.1,545.3L713.9,552.3L715.0,551.5L715.3,549.4L716.1,548.4L717.2,548.2L719.4,548.1L721.6,549.9L730.5,546.6L741.5,544.4L770.2,544.1L775.7,542.5L783.5,539.2L784.6,539.2L797.8,547.0L801.6,548.1L816.6,550.5L839.8,552.3L847.5,554.3L847.5,669.0L825.4,668.9L811.1,663.3L797.8,661.9L785.7,661.8L784.6,662.4L786.8,665.5L787.7,667.9L787.6,672.0L789.0,678.8L786.8,685.7L781.8,692.4L780.3,696.5L780.2,700.6L776.8,701.0L774.6,703.4L773.5,703.8L769.1,702.7L766.9,703.8L764.7,703.3L760.3,700.7L759.7,697.8L758.1,695.4L754.8,693.6L751.4,693.4L748.1,691.1L745.9,688.5L741.5,685.8L736.0,685.4L732.7,686.6L729.4,686.2L728.4,685.6L725.9,674.7L723.1,672.0L719.2,669.2L715.0,667.2L702.9,667.1L701.8,665.9L700.9,659.7L701.8,657.7L704.1,655.6L704.3,654.3L701.8,653.6L687.4,653.4L673.0,652.0L646.5,652.0L639.9,653.9L632.2,657.5L618.9,657.8L612.3,662.9L605.7,665.8L591.3,666.1L580.3,663.8L563.7,661.9L558.2,660.7L557.1,659.8L556.7,657.0L560.3,643.4L559.3,641.9L552.7,642.0L550.3,643.4L547.2,647.5L547.0,648.8L548.0,651.5L548.0,654.3L545.0,659.1L536.1,661.8L530.6,661.6L530.3,659.7L528.2,655.6L528.2,654.3L529.5,652.5L535.0,648.2L539.4,641.6L540.1,639.3L540.2,633.8L539.4,631.1L539.1,627.0L538.3,625.0L538.0,621.6L535.8,616.1L536.7,608.0L537.2,606.6L541.6,603.0L548.5,594.4L550.5,590.7L554.9,587.2L561.5,574.1L562.2,568.5L559.3,568.5L553.8,571.0L550.5,571.0L549.5,569.8L549.4,564.3L550.5,562.7L559.3,559.6L576.7,548.1L580.3,541.9L583.2,538.5L583.6,535.9L584.6,535.8ZM662.0,584.8L661.6,586.2L661.9,587.5L668.5,599.8L673.0,605.6L674.1,608.2L677.2,612.1L680.8,615.0L683.0,615.1L684.4,610.7L684.4,608.0L680.8,604.6L677.5,598.0L675.2,595.3L673.0,593.9L667.5,587.4L662.0,584.8ZM668.6,573.9L667.5,574.1L667.5,578.0L670.4,582.1L672.9,590.3L675.2,593.4L676.4,593.8L678.6,595.9L679.0,595.7L678.7,590.3L676.4,583.5L672.1,580.7L671.2,579.4L670.8,576.7L668.6,573.9ZM683.0,573.8L682.4,573.9L683.0,573.8ZM708.4,582.0L704.0,587.8L701.8,589.4L695.1,596.7L691.8,596.9L691.8,597.7L700.6,598.4L702.2,601.2L703.2,608.0L703.8,609.3L706.2,609.8L707.3,608.0L708.4,607.7L711.7,608.8L712.1,614.8L713.9,617.3L716.1,617.3L718.3,614.3L720.5,614.5L721.4,612.1L721.3,609.3L719.8,605.2L721.0,602.5L719.4,601.5L716.9,601.2L717.2,600.1L718.3,599.5L723.8,599.3L725.6,597.1L725.5,595.7L724.9,595.1L722.7,596.0L716.1,596.2L714.2,598.4L712.8,603.9L711.7,605.5L708.4,605.9L707.8,603.9L709.0,601.2L713.0,597.1L711.2,594.4L710.7,591.6L709.8,590.3L709.7,588.9L711.3,586.2L711.3,584.8L709.5,582.4L708.4,582.0ZM759.2,612.1L759.2,617.5L760.3,617.5L761.4,616.1L762.5,617.5L762.5,618.9L764.7,616.1L765.8,616.1L765.8,614.8L764.7,614.8L763.6,613.4L762.5,613.4L761.4,612.1L759.2,612.1ZM684.1,616.8L683.3,617.5L684.1,619.1L686.4,618.9L686.3,617.2L685.2,616.2L684.1,616.8ZM709.5,621.6L707.0,622.9L708.4,624.0L715.0,625.3L716.6,624.3L716.8,621.6L716.1,620.5L713.9,620.4L709.5,621.6ZM209.3,646.1L210.4,644.7L211.5,646.1L210.4,647.5L209.3,646.1ZM212.6,646.1L213.7,644.7L214.8,646.1L213.7,647.5L212.6,646.1ZM209.3,648.8L210.4,647.5L211.5,648.8L210.4,650.2L209.3,648.8ZM208.2,650.2L209.3,648.8L210.4,650.2L210.4,651.5L209.3,652.9L208.2,651.5L208.2,650.2Z"/>
<path fill="#e11400" d="M247.9,553.5L250.1,553.5L250.1,554.9L249.0,554.9L247.9,553.5ZM450.5,553.5L452.2,552.7L453.3,553.2L454.9,556.2L453.8,567.1L453.3,569.3L452.2,571.1L451.1,569.8L450.0,566.9L448.4,557.6L449.0,554.9L450.5,553.5ZM479.1,567.1L480.9,566.3L482.0,566.9L485.3,569.9L486.6,572.6L484.9,573.9L480.9,575.4L478.7,575.1L476.4,573.9L475.3,572.6L475.7,571.2L479.1,567.1ZM315.1,575.3L316.4,578.0L316.5,587.5L315.8,590.3L315.3,590.9L314.2,591.0L313.1,589.3L313.0,587.5L314.1,578.0L315.1,575.3ZM753.2,644.7L754.8,644.4L758.7,647.5L759.7,650.2L761.3,658.4L763.5,663.8L766.9,668.5L772.6,673.3L773.2,674.7L770.2,678.0L764.7,679.6L757.0,680.9L753.6,680.0L750.3,676.6L747.4,665.2L745.9,661.7L743.6,658.4L743.3,657.0L753.2,644.7ZM718.9,652.9L720.5,652.1L729.4,652.2L737.1,654.8L740.7,657.0L740.0,658.4L737.1,659.4L730.5,660.8L728.2,660.8L716.3,657.0L715.3,655.6L716.1,655.5L718.9,652.9Z"/>
</g>
<g class="grid">
<line class="v" x1="185" y1="355" x2="185" y2="845"/><line class="v" x1="317.5" y1="355" x2="317.5" y2="845"/><line class="v" x1="450" y1="355" x2="450" y2="845"/><line class="v" x1="582.5" y1="355" x2="582.5" y2="845"/><line class="v" x1="715" y1="355" x2="715" y2="845"/>
<line x1="53" y1="436.4" x2="847" y2="436.4"/><line x1="53" y1="518.1" x2="847" y2="518.1"/><line x1="53" y1="599.8" x2="847" y2="599.8"/><line x1="53" y1="681.5" x2="847" y2="681.5"/><line x1="53" y1="763.2" x2="847" y2="763.2"/>
</g>
<g class="coast">
<path d="M79.0,421.1L83.0,419.5L88.3,418.4L92.7,419.2L88.9,417.1L82.3,413.8L90.0,410.3L97.8,407.3L104.2,405.6L114.3,407.0L123.2,408.1L132.0,409.2L138.6,410.3L145.2,411.6L151.9,410.8L160.7,409.2L167.3,408.1L172.9,410.5L181.7,409.7L191.6,411.9L197.1,414.6L204.9,415.2L210.4,413.5L215.9,412.4L224.8,415.2L232.5,414.6L236.9,416.2L238.4,413.0L241.8,404.3L245.7,408.3L247.9,411.3L250.6,413.3L255.7,415.7L259.0,414.6L261.6,410.3L268.9,410.0L270.5,413.3L268.9,417.3L263.4,419.5L259.4,419.5L256.8,424.1L250.6,426.3L245.7,429.6L242.4,433.7L240.7,438.3L244.6,439.9L245.7,444.0L251.2,444.3L256.8,447.0L262.3,449.2L268.3,449.7L268.7,455.5L270.5,457.6L272.9,460.1L275.1,459.5L276.0,456.0L275.1,451.7L280.0,447.8L280.8,444.6L276.9,440.2L278.9,436.4L277.8,430.1L283.7,430.4L287.7,432.3L291.4,433.1L295.9,434.2L296.5,438.6L299.2,441.3L303.6,439.9L306.0,436.9L307.3,435.6L310.2,439.1L313.1,443.2L314.6,446.7L317.9,449.5L322.4,451.1L325.9,455.2L326.8,458.2L323.5,459.8L317.9,463.1L309.8,463.1L302.9,463.4L298.1,466.6L293.6,471.8L297.6,469.4L303.8,466.1L307.8,466.6L305.4,469.4L307.1,472.9L310.2,475.1L314.0,475.6L317.5,472.3L317.3,474.8L314.2,477.0L309.6,478.6L304.7,481.1L304.0,478.9L307.3,476.2L302.5,477.5L297.6,479.7L294.8,481.3L293.6,484.1L295.4,486.0L292.1,487.1L287.0,489.0L286.4,492.0L283.7,494.7L282.4,498.5L281.9,499.6L283.1,503.7L280.0,505.8L276.2,507.8L273.1,511.6L270.7,514.6L270.2,517.3L272.0,522.7L273.1,527.4L272.2,531.2L270.7,530.6L269.4,527.9L267.4,524.1L267.1,520.6L264.5,518.1L261.0,518.6L256.6,517.3L253.5,517.3L252.4,520.3L249.0,520.0L243.3,518.9L240.2,520.3L235.8,523.5L234.9,529.0L234.0,538.5L235.3,543.7L238.0,548.1L241.3,550.2L246.8,549.1L249.9,545.9L250.6,542.6L257.2,541.2L258.1,543.4L256.6,546.7L255.4,549.7L254.1,556.2L260.1,556.8L264.1,557.3L266.3,559.2L265.2,565.5L265.4,570.1L268.0,575.0L270.0,575.8L273.6,574.2L276.6,574.2L279.3,576.4L280.2,578.0M278.9,580.2L277.1,577.7L274.4,575.6L272.7,579.4L270.0,578.8L266.9,577.5L265.4,576.4L262.3,573.1L260.5,570.9L258.8,567.1L256.6,564.4L254.3,563.9L249.9,562.2L246.2,560.0L242.4,556.0L238.9,556.8L235.8,556.5L229.6,554.0L224.8,550.8L220.3,548.1L217.0,544.5L217.5,541.0L215.0,536.6L210.4,530.9L208.2,527.1L205.8,524.6L202.4,520.8L200.5,514.8L196.7,513.5L196.7,518.1L200.5,523.5L203.8,529.0L206.0,533.6L208.2,536.9L206.6,537.2L202.7,532.5L202.0,528.7L198.2,525.7L196.0,524.1L197.8,521.9L194.3,517.3L191.4,511.3L188.5,507.2L183.9,505.8L180.8,500.1L179.5,496.9L176.6,492.2L175.5,489.8L175.9,485.4L175.3,482.7L176.2,474.5L174.6,468.0L178.4,468.0L179.5,470.7L179.7,468.0L178.4,465.8L174.4,463.1L169.5,460.9L167.6,456.8L162.9,451.7L159.6,448.4L155.2,443.2L150.8,440.2L146.1,439.7L140.8,436.9L132.0,436.4L127.6,433.9L122.1,436.4L118.3,438.3L114.8,438.6L115.7,434.2L118.8,433.1L113.7,434.8L110.8,438.3L109.0,441.3L104.4,444.6L99.8,447.3L94.5,449.5L90.0,450.8L86.1,451.4L92.2,447.6L95.8,446.2L100.0,442.9L102.4,439.9L98.9,440.2L92.2,439.9L92.2,436.7L86.7,435.0L84.5,432.3L83.4,429.6L86.7,428.0L94.5,426.9L94.5,424.1L90.0,424.1L84.5,424.1L79.0,421.1M177.5,468.0L172.9,466.6L167.8,463.1L166.7,461.5L171.8,462.8L175.1,465.3L177.5,468.0M160.7,458.2L157.4,454.9L156.3,452.5L159.2,452.7L158.9,455.5L160.7,458.2M113.9,443.2L108.8,444.6L109.9,442.1L113.2,441.0L113.9,443.2M319.0,469.9L323.0,470.2L326.8,472.1L329.6,472.3L332.7,472.6L333.6,470.4L331.9,467.7L330.8,465.3L326.8,464.7L324.6,460.9L327.2,459.3L323.2,462.0L320.8,466.4L319.0,469.9M307.8,464.2L313.1,466.1L309.8,465.3L307.8,464.2M262.5,540.2L266.7,537.4L270.0,536.9L274.4,538.5L278.9,540.7L282.8,542.9L286.1,544.8L283.3,545.6L278.4,545.6L277.8,543.4L275.5,541.2L272.2,539.9L268.9,538.8L266.3,539.9L262.5,540.2M285.7,549.7L287.9,545.6L291.7,545.9L295.6,546.2L298.9,549.1L296.5,549.7L293.0,551.6L291.4,550.2L288.8,550.2L285.7,549.7M277.1,550.0L279.5,549.4L281.7,550.8L279.3,551.3L277.1,550.0M301.6,549.7L304.9,549.7L304.5,550.8L301.6,550.8L301.6,549.7M288.8,386.8L299.8,382.5L310.9,377.8L328.5,375.7L350.6,374.9L372.7,372.7L390.4,373.8L401.4,375.9L397.0,378.7L414.7,377.8L422.4,378.7L411.4,382.5L406.9,387.4L406.9,392.3L404.7,396.1L401.4,400.5L395.9,403.2L401.4,405.6L400.3,408.6L393.7,409.7L389.3,413.3L380.4,414.3L373.8,419.0L367.2,420.6L361.7,422.5L359.5,426.9L356.1,431.0L354.6,436.4L350.2,436.1L343.6,433.7L339.6,429.6L336.3,425.0L331.9,418.7L331.9,413.3L337.4,410.3L329.6,407.8L327.4,401.5L323.0,396.1L314.2,392.8L302.0,392.8L294.3,390.1L288.8,386.8M396.3,421.4L400.3,419.0L402.5,421.4L408.0,419.8L414.2,418.7L417.8,420.6L420.0,422.8L416.9,424.7L409.1,427.1L404.7,426.6L399.9,425.8L401.4,424.4L397.0,423.1L400.8,422.0L396.3,421.4M314.2,418.2L307.6,420.9L305.4,424.1L299.8,426.1L304.2,430.1L292.1,426.9L285.5,424.1L277.8,423.3L281.1,420.6L287.0,418.4L289.2,415.2L278.9,409.2L273.3,409.7L263.4,409.2L255.7,407.8L252.4,403.2L260.1,398.8L271.1,399.6L280.0,401.5L289.9,404.8L298.7,408.3L302.0,411.3L308.7,415.4L314.2,418.2M257.9,425.0L262.3,420.9L265.6,420.3L271.1,425.5L266.7,426.9L261.2,427.1L257.9,425.0M191.6,409.2L200.5,412.4L211.5,412.7L218.1,411.1L224.8,410.0L227.0,407.0L219.2,405.6L215.9,401.0L207.1,401.3L198.2,400.2L188.3,402.6L193.8,405.6L191.6,409.2M172.9,404.3L179.5,405.9L185.0,404.3L189.4,401.3L190.5,397.7L181.7,396.9L174.4,398.8L172.9,404.3M275.5,392.0L255.7,391.5L251.2,387.4L260.1,382.5L249.0,378.1L268.9,373.8L295.4,373.8L313.1,375.1L306.5,379.2L292.1,383.3L283.3,386.8L275.5,392.0M273.3,396.6L247.9,396.4L240.2,391.5L253.5,391.7L271.1,392.8L273.3,396.6M218.1,393.1L191.6,395.0L191.6,392.0L209.3,391.5L218.1,393.1M224.8,403.7L235.8,404.5L236.9,400.5L231.4,398.3L224.8,399.6L224.8,403.7M239.1,403.7L250.1,402.4L250.8,398.5L239.5,398.3L239.1,403.7"/>
<path d="M280.2,578.0L283.1,573.9L283.7,570.7L286.1,569.3L289.9,567.7L292.5,566.0L291.4,569.3L292.3,570.4L291.7,574.2L293.2,573.1L295.4,568.5L299.2,570.1L303.8,570.9L307.1,572.3L310.9,570.7L313.3,570.7L311.5,572.0L315.3,573.9L317.5,576.7L319.7,578.3L323.0,582.6L328.1,583.7L330.8,584.3L334.1,586.2L336.7,588.1L338.5,594.4L339.6,599.0L338.0,601.2L342.9,600.6L345.1,601.7L349.5,603.9L352.2,606.6L357.2,607.4L361.7,607.7L365.0,609.9L367.9,612.9L372.0,614.0L373.1,619.4L372.3,624.9L368.3,629.8L365.0,634.9L363.9,639.3L363.9,646.1L362.3,650.2L361.0,655.1L359.5,659.7L357.2,662.2L352.8,662.4L349.5,664.6L346.2,666.5L342.9,670.1L342.7,674.7L341.1,678.8L338.9,682.9L336.1,686.4L333.8,690.2L331.4,693.5L328.5,694.8L325.2,694.6L321.3,692.4L321.0,694.0L323.7,696.5L324.8,699.2L322.6,703.8L317.5,705.7L312.6,706.0L312.6,710.4L308.7,711.2L306.2,711.2L308.0,715.0L305.8,718.3L305.1,722.3L300.9,725.1L304.2,728.3L304.5,730.5L300.7,734.6L297.6,738.1L297.6,741.4L298.9,742.5L296.5,742.8L293.2,744.1L292.1,746.3L288.8,744.7L285.5,741.4L283.7,736.0L283.3,730.5L285.5,727.8L283.3,726.4L286.6,722.3L288.4,718.3L288.8,713.6L287.2,711.5L287.7,707.4L287.7,701.4L289.5,696.5L291.9,689.7L292.3,681.5L292.5,676.1L294.3,669.2L294.8,662.4L295.0,654.3L294.8,649.6L292.1,646.9L287.7,644.2L283.3,640.6L281.5,637.4L279.5,632.5L277.1,627.0L275.3,621.6L273.6,618.3L270.7,616.1L270.5,611.5L272.7,609.1L273.3,606.6L271.3,605.8L271.3,602.5L273.1,599.0L273.3,597.1L276.0,595.4L276.6,593.0L278.9,590.3L279.3,587.5L278.9,584.3L279.1,581.3L278.9,580.2L280.2,578.0M298.5,743.0L294.5,743.6L292.1,746.9L295.4,749.0L299.8,750.7L304.2,750.1L306.0,748.8L303.1,747.4L299.8,745.5L298.5,743.0M315.3,741.1L318.6,739.5L322.4,740.3L319.7,742.2L315.3,741.1M313.5,572.3L315.3,570.4L315.5,572.3L313.5,572.3"/>
<path d="M437.6,501.8L435.9,499.9L433.7,498.5L430.3,499.0L430.6,495.2L429.0,494.1L430.3,490.3L430.8,486.0L429.7,482.4L432.3,480.8L437.2,481.1L442.3,481.3L446.0,481.6L447.4,478.3L447.6,474.5L445.1,471.5L440.3,469.4L439.6,467.7L443.4,466.9L446.5,467.2L446.0,464.5L449.6,465.5L453.3,463.4L453.5,461.2L457.1,459.8L459.3,458.2L460.4,455.5L464.4,454.1L468.1,453.8L469.2,452.7L469.0,448.9L467.9,445.4L471.0,444.0L473.4,442.7L472.7,445.7L474.1,446.7L471.6,449.5L473.9,452.7L477.2,451.9L481.4,453.0L486.4,451.4L490.9,450.6L493.7,451.7L496.4,449.2L496.4,445.1L499.7,442.7L503.4,444.0L503.9,441.0L501.9,438.6L507.4,437.5L512.3,437.8L516.7,436.7L513.2,434.8L507.4,435.3L500.6,436.7L497.3,434.8L497.5,429.9L504.8,423.3L505.9,421.4L499.0,420.6L497.0,424.1L489.5,429.0L488.0,433.7L491.7,436.9L486.4,439.9L486.4,444.6L485.1,447.0L481.6,448.7L478.5,448.9L477.6,446.2L475.0,440.5L473.4,438.3L469.9,440.5L465.9,441.8L462.4,439.4L461.0,433.7L461.5,430.4L466.6,427.7L472.1,425.5L476.5,421.4L479.1,417.3L484.4,413.8L488.6,411.1L494.2,409.2L501.9,407.0L507.0,406.2L512.5,406.4L518.5,408.3L515.1,409.7L522.9,410.8L530.6,411.9L539.4,415.2L541.0,418.4L535.0,419.8L526.2,418.4L522.9,418.2L526.6,420.6L526.9,424.1L532.1,424.4L530.6,422.2L537.9,423.9L539.4,420.3L543.9,418.7L547.2,419.5L547.6,414.6L545.8,413.0L552.0,414.1L553.4,417.6L558.2,414.6L568.1,413.5L572.6,413.3L578.1,412.2L583.6,412.4L584.7,409.7L592.4,411.3L598.0,412.4L601.3,414.1L602.4,411.3L598.0,410.0L598.6,405.1L602.4,401.3L608.6,401.3L610.8,405.1L609.0,410.5L610.1,414.6L613.4,417.3L609.0,419.0L612.3,417.6L615.2,414.6L614.5,411.3L612.8,406.4L615.6,402.4L622.2,403.4L628.2,399.6L641.7,398.5L642.6,395.6L653.2,393.4L666.4,392.0L680.3,388.2L684.1,389.0L688.5,390.9L700.6,392.3L700.6,396.9L691.8,398.3L699.1,398.8L712.4,399.9L722.7,400.2L730.5,399.6L735.3,401.5L736.0,405.9L743.3,404.5L753.6,405.4L759.2,402.6L772.4,403.2L781.2,403.7L785.7,406.7L801.1,407.0L803.3,410.0L813.3,410.3L821.7,409.2L826.5,411.9L836.5,409.7L847.5,411.9M52.5,411.9L59.1,414.1L64.6,416.8L71.3,417.6L75.0,419.8L69.1,421.7L68.0,424.7L62.4,423.3L55.8,419.5L52.5,422.2M847.5,422.2L842.0,423.6L846.4,428.8L841.5,429.6L835.4,431.5L830.9,433.7L826.5,436.4L817.7,436.7L811.1,436.7L810.6,441.8L807.8,442.4L810.0,445.9L807.8,450.0L803.3,454.9L800.0,456.0L796.0,460.9L794.5,455.5L793.6,447.3L795.6,442.4L800.0,441.3L803.8,434.8L811.1,429.6L810.4,431.8L804.0,434.8L796.7,431.8L790.7,437.5L784.6,438.6L779.0,437.2L764.7,438.3L755.9,444.6L748.6,450.6L753.6,452.7L760.3,455.5L762.0,457.6L760.3,463.6L759.6,468.3L755.9,473.2L750.3,478.6L744.1,483.5L739.3,483.8L736.6,486.8L736.2,488.7L731.8,491.4L733.5,495.0L735.8,499.0L735.8,503.1L733.8,504.8L729.4,506.1L729.1,501.8L730.0,499.0L727.6,496.9L726.0,494.7L726.7,492.2L724.5,491.1L719.9,489.8L717.6,493.9L718.8,490.0L713.9,492.0L709.9,494.4L712.6,497.7L716.5,497.4L720.3,498.2L717.2,500.4L713.5,504.5L716.1,508.6L719.0,512.9L719.0,515.6L715.4,517.3L719.2,519.2L718.3,523.0L715.0,527.4L712.8,531.2L710.1,534.2L706.8,537.4L702.4,538.8L700.2,539.6L696.5,541.2L693.8,542.1L693.6,544.5L692.3,541.0L689.2,541.0L685.9,543.2L683.6,547.5L685.4,552.1L689.2,556.2L691.1,562.2L691.1,567.7L687.4,571.2L685.4,573.7L681.9,576.1L681.7,572.6L678.6,570.9L675.9,566.6L672.8,565.5L672.6,563.3L670.8,563.6L670.0,568.5L669.1,573.4L671.3,576.7L672.4,581.0L675.9,583.2L678.3,587.5L678.6,592.4L680.1,596.0L678.6,596.3L675.2,593.5L672.6,590.3L671.5,584.8L669.7,580.7L667.1,577.7L667.5,571.2L667.7,565.8L666.0,559.5L665.5,554.9L662.7,554.9L659.1,556.2L658.2,551.3L656.7,546.7L653.8,542.6L652.7,538.8L649.9,539.1L646.5,540.4L642.1,541.5L641.0,544.8L638.1,546.4L634.4,551.3L631.7,554.6L627.8,556.8L626.9,561.7L627.3,565.8L626.2,568.5L625.8,571.7L624.5,574.5L622.7,575.6L621.1,577.7L618.9,575.3L617.2,569.3L615.2,564.4L614.1,559.0L612.3,554.9L610.8,548.1L610.5,542.6L610.3,539.3L606.8,543.2L602.8,539.3L605.2,537.2L601.7,535.8L598.6,533.6L596.9,530.6L592.4,531.2L586.0,531.2L579.9,530.1L576.5,529.3L574.8,526.0L570.8,527.4L566.2,524.9L563.1,521.6L560.9,517.6L558.0,517.0L556.0,518.4L557.3,522.2L560.9,527.4L562.2,532.0L564.0,529.3L564.0,533.4L568.1,533.9L570.8,532.3L574.3,528.4L574.8,533.1L579.6,535.8L582.1,538.5L579.2,544.0L577.4,548.3L572.6,551.6L565.3,556.2L558.2,561.1L549.8,564.9L546.1,565.2L544.5,559.5L544.1,554.9L540.8,548.1L536.6,541.8L535.0,535.8L532.1,531.2L527.7,523.5L527.1,519.5L525.5,524.1L524.2,523.5L522.0,518.4M521.3,514.8L525.5,514.6L527.3,510.5L528.6,505.8L529.3,501.8L529.9,499.9L526.4,499.6L522.9,501.5L517.8,499.6L514.5,500.9L510.5,499.0L508.1,495.2L509.2,492.5L507.9,490.9L514.0,488.1L518.9,487.9L524.0,485.4L527.7,485.4L531.7,487.9L537.2,487.9L541.9,486.5L541.6,483.5L537.7,480.8L533.5,478.1L534.6,474.0L536.6,471.3L532.8,471.8L527.7,473.7L530.8,476.4L528.4,477.2L524.2,478.6L521.8,476.2L524.2,474.3L520.2,473.4L517.8,473.2L515.6,476.2L513.4,480.0L511.6,483.2L512.3,486.8L514.0,488.1L508.5,490.0L507.4,488.7L503.9,488.4L502.6,490.6L500.6,489.5L500.4,492.5L503.0,496.0L501.2,496.6L500.8,500.4L499.0,499.9L497.0,497.1L496.6,495.0L494.2,491.4L492.8,487.1L492.4,485.4L488.6,482.7L484.2,480.0L482.2,476.7L480.0,475.3L477.4,476.4L477.4,479.4L480.0,481.3L482.5,484.9L485.6,485.7L490.9,490.3L488.0,489.8L486.7,491.7L487.8,493.6L485.6,496.3L484.7,495.8L485.8,492.2L483.6,490.6L480.9,488.4L477.2,486.2L473.2,483.0L472.1,480.0L469.2,478.9L466.6,480.5L463.7,482.4L460.6,481.6L457.1,482.2L457.1,485.7L452.0,488.1L449.6,491.7L450.4,494.1L448.5,497.1L445.4,499.9L440.3,499.9L437.6,501.8M558.9,497.7L562.6,499.6L568.8,499.3L569.0,493.6L566.8,490.9L567.0,486.0L565.7,485.1L563.3,482.2L563.1,478.6L567.0,476.4L567.0,472.3L562.6,471.8L558.2,473.4L554.9,476.4L553.8,480.0L555.3,483.2L559.3,488.1L558.9,490.9L558.0,495.2L558.9,497.7M579.2,480.8L582.5,479.4L584.7,475.9L581.4,473.2L579.4,475.9L579.2,480.8M437.4,463.4L442.3,462.5L447.1,461.5L452.9,460.4L451.3,459.5L453.8,456.3L450.7,455.5L450.2,453.3L447.4,451.1L446.2,448.1L443.8,447.0L445.4,444.0L445.6,442.7L441.6,442.7L442.9,440.2L439.0,440.2L436.3,443.8L437.4,447.3L439.0,450.0L442.1,450.3L443.4,452.7L443.2,454.6L440.1,454.9L440.7,457.4L438.5,458.7L442.9,459.5L440.3,460.6L437.4,463.4M436.1,457.6L436.5,454.1L437.6,451.1L435.6,449.5L431.7,449.7L431.0,451.9L427.9,452.2L429.0,454.9L427.5,458.2L428.6,459.5L431.9,458.7L436.1,457.6M477.6,496.3L484.4,495.8L483.3,499.9L477.6,497.4L477.6,496.3M468.1,493.6L471.4,493.0L471.4,488.1L468.3,488.4L468.1,493.6M469.0,485.7L471.0,487.1L471.0,482.7L469.0,485.7M502.1,503.7L508.1,503.9L504.1,504.5L502.1,503.7M521.3,504.8L526.2,502.8L524.4,505.3L521.3,504.8M474.3,383.3L480.9,389.6L487.5,390.9L497.5,386.8L509.6,385.2L505.2,381.4L489.8,381.1L474.3,383.3M563.7,404.5L571.5,407.3L577.0,407.3L572.6,402.9L573.7,399.6L580.3,395.6L593.5,392.3L601.3,390.6L595.8,390.1L578.1,392.8L570.4,398.3L564.8,402.4L563.7,404.5M659.8,384.7L670.8,387.4L681.9,386.0L677.5,381.9L664.2,379.2L659.8,384.7M752.5,395.6L765.8,395.8L781.2,395.0L772.4,392.8L754.8,392.3L752.5,395.6M844.2,406.4L847.5,405.1M52.5,405.1L58.0,405.9L53.6,406.7M763.6,474.5L766.9,472.3L765.8,465.8L769.1,466.4L766.5,459.5L766.2,454.1L764.7,451.9L763.1,454.9L763.6,460.9L763.6,467.7L763.6,474.5M737.5,508.6L739.3,507.2L742.6,506.4L748.1,505.6L752.5,505.6L756.5,504.5L759.2,503.9L761.2,499.6L761.4,495.5L763.6,492.2L762.3,487.3L759.8,488.1L759.2,491.4L758.1,495.5L753.2,499.6L751.9,498.2L750.3,502.6L743.7,502.8L739.3,505.8L737.5,508.6M737.1,509.4L741.1,508.3L740.8,513.5L738.6,515.4L737.5,511.8L737.1,509.4M742.6,507.5L747.0,506.7L746.4,508.8L743.7,510.5L742.6,507.5M759.2,486.8L762.5,484.1L766.5,485.4L771.3,481.9L770.2,479.4L765.4,478.1L763.1,476.2L762.5,481.3L759.8,482.2L759.2,486.8M715.4,537.2L717.2,531.4L719.2,531.7L717.2,538.5L715.4,537.2M690.0,547.2L693.4,545.1L695.1,546.4L692.3,550.0L690.0,547.2M626.2,576.7L627.1,573.4L630.4,579.1L629.3,582.6L627.1,583.5L626.2,580.7L626.2,576.7"/>
<path d="M522.0,518.4L521.3,514.8L518.5,514.0L514.0,515.6L509.6,514.6L505.6,513.7L501.2,511.3L497.5,510.2L494.2,512.7L493.1,516.7L488.6,515.6L484.2,512.1L478.7,510.5L474.7,509.1L472.5,506.7L474.3,502.3L473.9,499.0L471.6,498.2L467.7,499.3L462.1,499.6L456.6,499.6L451.1,501.5L446.7,503.9L443.4,503.7L438.3,502.3L437.0,502.3L435.0,506.9L431.2,509.1L428.4,514.0L428.6,518.1L426.8,521.4L421.7,523.8L418.2,528.4L415.1,534.4L412.5,541.2L414.2,546.7L413.6,554.9L411.4,559.8L413.1,563.9L412.9,566.3L416.4,569.8L419.5,573.1L420.9,576.7L424.6,581.0L429.0,585.1L433.2,587.8L439.0,585.9L443.4,585.9L446.0,586.7L452.2,583.7L456.0,582.6L459.7,582.6L462.1,586.7L465.0,587.8L468.8,587.5L471.2,589.5L471.6,593.0L470.8,597.1L470.5,601.2L469.4,602.0L471.4,606.6L474.3,610.4L476.5,613.4L477.2,616.1L479.4,622.4L480.5,629.2L479.8,633.8L477.2,639.3L476.1,644.7L476.1,648.8L479.4,656.4L482.0,661.9L482.7,667.9L484.9,676.1L487.5,680.4L489.8,686.4L490.4,689.7L490.6,692.9L494.2,694.6L499.7,692.4L506.3,692.4L510.7,690.5L516.2,684.8L518.9,680.1L521.8,676.9L522.7,670.6L528.0,666.5L528.4,659.7L526.6,654.3L530.6,650.2L536.1,645.6L539.9,640.6L539.7,633.8L539.2,628.4L537.2,622.9L536.8,618.3L535.7,615.6L536.6,612.3L538.8,606.6L541.6,604.4L545.4,598.4L551.6,593.0L556.0,587.5L559.8,579.4L562.2,573.9L563.1,567.7L558.2,569.0L552.7,570.7L548.3,571.5L545.6,568.5L545.4,565.8L543.4,563.0L540.1,559.5L537.2,557.6L535.2,551.3L532.6,548.6L532.1,542.6L529.5,537.7L528.4,534.4L526.2,529.5L524.6,525.5L522.4,521.4L522.0,518.4M558.9,632.5L561.1,642.0L559.3,647.5L557.1,655.6L554.2,667.3L549.8,669.2L546.7,666.5L545.6,659.7L548.0,654.3L547.2,647.5L549.4,643.4L553.8,641.2L556.4,636.6L558.9,632.5M520.2,601.2L522.4,599.3L525.1,599.8L525.1,603.1L523.3,606.6L520.7,606.1L520.2,601.2"/>
<path d="M701.1,661.1L702.2,659.2L707.7,655.9L712.8,654.3L717.6,652.9L720.1,648.8L722.7,646.9L726.0,642.0L730.0,637.9L733.1,640.4L736.2,640.4L738.9,633.8L742.6,631.1L748.1,633.0L752.1,633.0L750.1,637.9L749.0,640.6L753.6,643.9L757.4,647.5L760.9,647.5L762.9,640.6L762.7,634.7L764.7,629.2L766.9,634.7L767.3,639.0L770.9,640.6L772.4,647.5L774.6,652.4L778.6,655.1L780.6,660.5L783.0,663.8L787.2,667.9L788.3,673.9L789.2,678.2L787.9,684.2L785.7,689.1L783.5,692.4L781.7,697.8L781.2,701.9L776.8,703.0L773.1,706.3L770.0,704.1L766.9,705.5L762.5,704.1L759.2,701.9L758.3,697.3L755.2,696.8L754.8,691.8L754.1,695.7L752.1,697.3L749.7,694.6L746.4,689.1L739.7,685.6L733.8,686.9L728.2,687.8L723.8,691.0L718.3,691.8L713.9,693.2L710.6,695.1L706.2,694.6L704.0,692.9L705.5,686.9L704.4,682.9L702.2,675.5L700.2,670.1L702.2,671.2L701.1,665.7L701.1,661.1M769.5,710.6L773.5,711.7L777.3,711.2L777.3,715.0L774.6,718.3L772.4,718.3L770.6,714.7L769.5,710.6M831.4,693.8L834.7,695.9L836.0,700.0L838.4,702.2L841.3,703.0L844.2,702.5L842.9,706.6L840.9,707.4L839.1,711.5L836.5,713.1L836.0,710.9L833.8,706.8L835.8,703.3L835.4,699.2L831.4,693.8M831.4,710.1L834.7,712.0L832.5,716.9L830.9,719.1L828.1,720.7L827.2,724.5L824.3,726.7L819.9,725.6L817.7,724.5L821.4,719.6L826.5,716.4L829.2,712.8L831.4,710.1M739.3,602.0L742.6,600.9L746.4,602.3L748.1,608.8L754.3,603.9L761.4,606.9L769.1,610.1L772.4,614.8L776.4,617.8L775.1,620.2L779.0,624.9L782.4,628.1L776.8,627.6L772.9,622.4L768.0,620.8L765.8,624.9L761.4,624.6L757.0,621.6L754.8,622.4L754.3,617.5L755.9,615.6L749.2,611.8L744.8,610.1L743.3,607.4L745.9,605.8L741.9,605.8L739.3,602.0M690.7,595.7L695.1,595.2L699.5,591.1L705.1,586.2L708.4,580.7L713.2,585.6L710.1,588.9L710.6,593.8L712.8,597.1L709.5,599.8L707.3,605.2L706.2,610.1L702.9,610.7L699.5,608.5L696.2,608.5L693.4,604.7L690.7,599.8L690.7,595.7M660.5,584.5L665.3,585.6L671.5,592.2L677.5,598.4L680.8,605.2L684.1,608.5L683.6,615.6L680.8,615.3L675.9,610.7L672.6,605.2L668.6,599.8L666.0,594.4L660.5,584.5M682.3,618.3L685.2,616.1L689.6,618.0L694.7,617.2L698.9,618.9L702.9,621.0L702.4,623.2L695.1,622.4L689.6,621.0L685.2,620.0L682.3,618.3M713.9,614.8L713.9,609.3L712.4,607.2L714.6,599.8L716.8,596.3L722.7,597.3L726.0,595.4L724.5,598.7L717.2,598.4L715.4,602.3L718.3,602.3L722.1,602.3L719.0,605.0L721.2,611.2L720.5,614.2L717.9,612.1L717.0,607.2L715.7,607.7L716.1,614.8L713.9,614.8M716.1,549.4L719.9,549.7L720.1,554.9L718.3,558.1L719.4,561.1L723.8,564.4L723.4,565.5L720.7,562.5L717.9,562.8L716.3,560.3L714.8,555.7L716.1,549.4M719.4,580.7L722.7,576.4L727.1,573.1L729.4,579.4L728.2,582.6L726.7,583.5L723.8,581.3L721.6,579.4L719.4,580.7M719.4,571.2L722.3,568.5L726.0,565.8L727.4,569.8L724.9,572.0L721.6,573.9L719.4,571.2M709.0,576.7L713.9,569.8L712.8,572.6L709.0,576.7M722.7,627.9L726.0,624.3L730.5,622.7L727.1,625.7L722.7,627.9M706.2,622.7L711.7,622.4L715.0,622.7L721.2,622.9L717.2,624.0L712.8,623.5L708.4,624.3L706.2,622.7M731.6,594.9L734.0,596.3L733.3,601.2L732.0,599.0L731.6,594.9M732.7,608.5L738.2,608.0L738.9,609.9L734.4,609.3L732.7,608.5M777.9,615.1L781.7,614.5L786.1,611.2L785.7,614.2L782.4,616.7L777.9,615.1M792.3,614.8L795.6,618.3L793.4,618.3L792.3,614.8M802.2,622.1L805.5,626.2L803.3,626.2L802.2,622.1M812.2,654.8L818.4,660.3L815.5,658.9L812.2,654.8M841.5,647.5L844.2,647.5L843.7,649.4L841.5,649.1L841.5,647.5M105.5,548.1L107.7,546.7L105.9,544.8L105.5,548.1M102.6,542.3L104.8,543.2L104.2,542.6L102.6,542.3M100.6,541.5L101.7,541.5L101.1,541.0L100.6,541.5M97.3,539.9L98.2,539.6L97.8,540.2L97.3,539.9M52.5,813.0L74.6,813.6L96.7,812.2L107.7,809.5L118.8,808.1L127.6,805.4L140.8,804.0L151.9,802.7L162.9,801.9L174.0,800.8L185.0,800.8L196.0,801.3L207.1,802.7L218.1,803.2L227.0,800.0L233.6,796.7L240.2,798.6L251.2,798.1L262.3,798.6L273.3,798.6L282.2,797.2L288.8,794.5L297.6,789.1L300.9,783.6L305.4,779.5L309.8,776.3L316.4,773.5L323.0,772.5L320.8,775.5L315.3,776.8L313.1,780.9L307.6,785.0L310.9,790.4L315.3,797.2L315.3,802.7L308.7,805.4L295.4,808.1L280.0,810.9L295.4,813.6L317.5,814.9L339.6,812.8L361.7,812.2L372.7,810.9L383.8,807.6L394.8,804.0L405.8,799.4L416.9,797.2L425.7,793.7L434.5,792.6L445.6,791.8L450.0,789.9L461.0,790.4L472.1,790.4L483.1,789.1L494.2,790.4L505.2,791.3L516.2,789.1L522.9,787.2L527.3,788.5L533.9,789.9L538.3,787.7L549.4,784.4L560.4,782.3L569.2,779.5L578.1,782.3L586.9,783.6L595.8,784.4L604.6,786.3L611.2,789.9L617.8,788.5L622.2,785.8L631.1,782.8L639.9,780.9L648.8,781.7L659.8,780.9L670.8,779.5L681.9,780.9L692.9,779.5L704.0,780.9L715.0,781.7L726.0,780.4L737.1,779.5L748.1,779.5L759.2,781.4L770.2,782.8L781.2,785.5L792.3,787.7L803.3,790.4L814.4,792.6L825.4,794.5L827.6,797.2L823.2,801.3L814.4,805.4L812.2,809.5L818.8,812.2L829.8,813.0L847.5,813.0"/>
<path d="M84.5,452.2L81.2,453.6M77.9,454.6L74.6,456.0M70.2,457.1L65.8,457.6M61.3,458.5L56.9,459.0M845.3,459.3L840.9,458.2M833.1,456.0L830.9,455.5M772.4,478.3L775.7,476.4M779.0,474.5L782.4,472.3M786.8,469.9L789.0,467.4M792.3,464.2L794.5,462.0M732.7,527.6L731.8,528.7M736.0,522.7L734.9,523.5M724.3,533.4L723.4,533.6M654.7,563.0L654.5,567.7M656.9,579.9L657.1,580.7M413.1,522.7L414.2,522.2M415.3,523.5L416.0,523.8M419.1,521.9L419.5,522.7M397.7,559.0L398.1,558.4M393.7,496.9L394.1,496.9M387.5,495.0L388.2,494.7M455.5,492.0L457.3,491.4M277.8,527.1L279.3,527.6M278.2,533.1L277.8,532.3M282.2,533.6L283.3,534.4M287.7,542.6L288.4,542.1M314.2,555.7L314.6,557.6M315.3,559.8L315.5,561.7M314.9,563.9L313.7,566.8M311.3,552.7L313.5,553.2M248.6,602.0L250.1,601.4M252.4,602.3L252.8,601.7M366.1,746.9L370.5,748.5M602.4,733.2L605.7,734.9L603.5,735.1L602.4,733.2M612.3,744.4L613.0,744.4M564.2,726.2L564.8,726.2M533.3,727.5L533.7,727.5M572.1,657.0L573.0,657.5M576.8,654.8L577.4,655.1M545.6,631.7L546.1,632.2M572.3,612.3L572.6,612.6M611.9,588.4L612.3,589.5M611.2,582.1L611.4,583.5M610.5,569.8L610.8,570.9M567.9,565.5L569.9,565.8M119.6,647.7L120.5,648.3M69.1,636.8L71.1,637.9M63.1,657.5L63.8,657.3M817.5,659.7L818.8,660.5M821.4,647.5L821.9,648.3M818.8,641.5L818.4,642.3M804.4,624.3L806.6,627.0M797.8,619.7L800.0,621.3M771.8,558.4L772.0,559.0M747.0,579.6L747.2,579.1M785.2,579.6L785.4,579.6M799.4,581.0L799.6,581.0M828.1,580.5L828.5,580.5M832.0,596.0L832.3,595.7M102.4,594.6L102.6,594.9M60.2,599.3L60.4,599.3M208.4,673.6L208.6,673.6M560.4,380.6L569.2,381.4L578.1,379.8L571.5,378.4L560.4,380.6M431.2,406.4L432.3,406.7M492.0,397.2L492.2,396.9M434.5,430.7L435.2,431.0M446.9,435.6L447.4,436.4M490.4,443.8L491.7,442.4M475.8,449.2L477.4,447.8L475.0,447.8L475.8,449.2M73.5,427.1L76.8,427.7L71.3,426.3L73.5,427.1M82.3,436.4L84.1,435.6M68.0,435.0L69.1,435.3M816.1,449.5L817.2,450.6M536.8,616.7L537.2,615.9M469.2,590.0L469.4,590.5M464.6,599.0L464.8,599.3"/>
<path class="thin" d="M138.6,410.3L138.6,435.6L143.0,436.4L146.4,439.4L150.8,436.9L155.2,440.5L158.5,444.6L162.9,447.3L162.5,450.0M177.7,466.4L239.8,466.4L239.8,465.3L241.1,467.2L246.8,468.3L252.4,469.1L255.0,468.3L262.7,472.1L263.4,473.2L265.6,474.5L267.8,476.4L268.7,481.1L267.8,483.8L266.5,485.4L267.8,486.2L275.5,483.2L275.5,481.6L281.1,480.0L285.0,477.2L292.1,477.2L294.8,474.8L295.4,472.6L297.2,470.7L299.2,471.0L300.3,471.8L300.3,475.3L301.6,476.7L302.0,477.8M191.4,511.3L196.7,510.7L204.9,514.6L211.1,514.6L211.1,513.2L214.8,513.2L219.2,519.2L222.1,520.8L223.6,518.6L225.9,518.6L228.1,522.2L230.3,524.9L231.4,527.9L235.3,529.3M176.2,474.0L178.4,474.0L182.8,475.3L187.2,474.8L191.6,474.5M175.7,485.4L204.9,485.4M185.0,485.4L185.0,493.6L196.9,504.5M191.6,466.4L191.6,474.5L191.6,480.0L191.6,485.4M193.8,466.4L193.8,470.4L197.1,473.2L198.2,475.9L200.5,478.6L204.9,478.6M204.9,477.2L220.3,477.2M204.9,477.2L204.9,488.1M204.9,488.1L224.8,488.1M220.3,466.4L220.3,488.1M209.3,488.1L209.3,499.0M198.2,499.0L241.1,499.0M198.2,485.4L198.2,501.8L196.7,504.5L197.1,507.2L196.7,510.7M209.3,499.0L209.3,514.6M222.5,499.0L222.5,512.7L214.8,512.7M222.5,500.4L229.2,500.4L229.2,505.8L235.8,507.8L241.3,508.3M224.8,488.1L224.8,499.0M224.8,490.9L239.5,490.9M220.3,482.7L233.6,483.2L236.9,484.1M220.3,474.5L236.9,474.5M235.3,466.4L236.9,474.5L236.9,481.3L236.9,484.1L238.4,489.2L239.5,490.9L241.1,493.3L241.1,500.4L241.5,503.4L241.3,508.3L242.4,509.9L242.4,515.4L242.9,518.9M236.9,481.3L248.6,481.3M238.4,489.2L248.2,489.8M246.8,472.6L245.1,477.2L248.6,481.3L250.1,485.4L248.2,489.8L250.8,494.1L253.0,499.0L252.4,500.4L250.8,504.5L248.6,509.9L247.9,515.4L251.9,515.4L251.9,517.6M241.1,500.4L252.4,500.4M242.4,509.9L248.6,509.9M252.4,500.4L269.6,500.1L282.4,500.3M250.6,504.5L263.8,504.5L266.5,504.5M255.2,504.5L254.8,517.0M261.0,504.5L262.3,512.7L262.3,515.4M256.6,515.4L262.3,515.4L262.5,516.2L268.5,516.7L270.0,516.2M266.5,504.5L271.1,512.7M266.5,504.5L271.1,504.2L274.0,505.0L276.6,507.5M253.0,499.0L255.7,496.9L260.1,496.3L262.7,493.3L267.8,495.0L271.1,492.2L272.2,489.2M256.8,486.2L256.8,492.8L255.7,496.9M262.7,486.2L262.7,493.3M257.9,486.2L265.6,486.2M249.9,484.1L256.1,484.1M272.2,484.9L272.2,491.7L282.6,491.7L284.4,489.5L285.0,487.1L283.7,485.4L273.8,485.4M272.2,491.7L274.4,493.0L278.4,492.8L280.0,493.9L281.5,496.3M267.8,495.0L269.6,498.5L265.4,500.1M288.1,477.2L287.9,483.5L287.7,487.9M288.1,483.4L293.2,483.2M287.7,485.3L292.3,485.4M292.1,477.2L289.9,483.5M293.2,476.4L293.6,482.2M246.2,472.6L250.4,473.2L255.7,475.1L256.6,477.0M246.4,560.0L246.8,558.4L247.5,556.0L250.1,556.0L248.2,553.0L249.0,551.3L253.0,551.3L253.0,556.5L253.7,556.5M253.0,551.3L255.0,549.7M252.8,560.6L255.2,557.0M251.0,562.2L252.8,560.6L256.1,563.3M256.3,563.3L258.5,562.2L260.5,561.9L262.7,559.5L266.3,559.2M260.7,569.6L263.0,569.8L265.2,570.1M266.9,577.5L266.9,573.9L267.6,573.9M279.1,576.4L279.3,578.3L278.0,580.2M292.5,566.0L290.3,569.6L289.2,575.0L290.1,579.6L295.2,580.7L300.9,582.9L300.3,587.5L301.4,593.8L302.3,596.5M302.3,596.5L295.9,596.8L296.7,602.8L295.4,611.2L289.0,614.2L287.2,619.7L289.0,625.4L294.3,625.7L294.1,629.8L296.3,629.8M296.3,629.8L298.3,633.8L297.6,639.3L296.5,642.3L296.5,647.2L294.8,649.6M296.3,629.8L302.9,626.8L305.8,626.5L305.8,631.9L311.3,635.2L316.4,637.1L317.1,643.9L321.3,644.2L321.5,653.7L319.5,652.4L313.5,653.2L311.8,660.3M296.5,647.2L298.7,652.9L300.3,661.9L302.0,662.2L306.0,660.0L308.0,661.9L311.8,660.3M300.3,661.9L298.9,666.5L299.2,673.1L296.1,677.4L294.3,685.6L295.9,690.5L294.5,695.7L293.2,701.9L291.7,708.7L291.4,716.9L291.7,725.1L289.9,731.9L288.1,736.0L290.3,738.7L291.2,741.4L296.5,742.0L298.9,742.5M311.8,660.3L315.3,664.6L320.6,667.9L322.8,669.5L320.6,673.9L325.4,674.4L327.0,677.1L322.8,682.0L321.5,689.7L321.0,692.4M321.5,653.7L322.4,660.0L327.0,660.5L330.3,665.2L329.4,669.5L331.4,672.8L327.0,677.1M322.8,682.0L326.3,683.7L331.0,688.3L332.1,691.6M329.4,669.5L322.8,669.5M302.3,596.5L308.7,594.6L310.0,589.2L315.3,587.5L316.0,585.6M316.0,585.6L314.4,583.7L315.1,581.6L316.8,579.4L317.5,576.7M316.0,585.6L317.7,587.5L318.6,593.0L320.1,596.5L323.7,594.4L325.2,594.6M323.7,583.5L323.5,588.9L321.9,590.3L325.2,594.6L329.6,593.5M330.8,584.3L329.6,586.7L329.6,593.5L333.2,593.8L335.8,588.6M276.0,596.0L278.4,597.6L283.7,600.1L283.1,603.9L281.1,606.6L277.3,609.1L275.5,613.4L272.7,611.8L272.7,609.1M283.7,600.1L286.6,603.1L289.2,606.3L295.4,611.2M430.6,485.7L431.9,485.4L435.6,485.7L436.3,486.8L434.8,488.1L434.5,491.7L433.4,492.0L434.5,495.8L433.7,498.5M446.0,481.6L448.5,483.0L451.5,483.2L453.8,484.1L457.1,484.3M455.5,460.6L457.1,461.7L459.3,463.6L462.8,465.0L464.1,465.0L468.1,466.4L466.8,470.2L465.0,471.0L463.5,473.4L465.5,474.8L464.6,477.0L466.8,479.7L466.6,480.5M457.5,459.8L459.3,459.8L463.0,460.9L463.5,461.7L464.1,464.2M465.9,454.6L465.5,457.6L463.2,458.7L463.0,460.9M469.0,450.3L471.0,450.6M466.8,470.2L471.2,470.4L473.0,472.1L470.5,473.2L468.8,474.3L465.5,474.8M471.2,470.4L473.2,470.4L478.7,470.4L478.7,468.3L480.5,467.2L476.9,463.1L481.6,460.9L483.1,460.9L482.5,458.2L481.4,453.0M473.0,472.1L476.9,471.8L480.3,473.2L480.0,475.3M480.3,473.2L485.3,472.3L485.8,472.1M480.5,467.2L483.1,466.4L487.3,467.2L487.8,468.8L485.8,472.1M482.5,461.2L486.0,462.0L491.5,465.0L499.7,466.1M487.8,468.8L491.5,469.6L495.3,468.0L499.0,468.0L499.7,466.1M485.8,472.1L486.7,473.4L491.5,474.8L494.8,474.3L496.8,474.0L499.0,468.0M499.7,466.1L500.1,465.0L503.0,462.0L502.1,459.3L501.9,456.8L502.8,452.5L500.4,451.7L493.7,451.7M499.7,466.1L505.0,469.6L508.7,468.3L512.3,468.5L515.6,476.2M480.0,475.9L483.8,475.9L486.4,473.4M484.9,476.7L487.3,476.7L492.2,477.2L492.8,479.4L493.3,482.2L490.9,484.1M492.2,477.2L491.5,474.8M494.8,474.3L497.5,476.7L499.9,478.3L499.5,480.0L500.6,482.2L499.5,484.6L500.6,487.3L496.4,488.7L495.5,490.9L494.2,491.7M499.9,478.3L500.4,480.2L506.3,480.8L509.6,479.7L513.2,480.8M500.6,487.3L504.1,486.8L507.6,486.2L508.3,487.9L507.4,488.7M507.6,486.2L511.8,485.4M492.8,485.7L495.3,484.9L495.5,488.1L496.4,488.7M493.3,482.2L494.8,483.2L495.3,484.9L497.5,484.6L499.5,484.6M502.8,452.5L507.0,452.2L508.7,448.1L512.3,446.7L511.4,443.8L510.5,442.9L512.3,437.8M496.4,447.0L504.8,446.2L508.7,448.1M503.7,442.4L507.0,442.1L510.5,442.9M501.9,456.8L501.2,457.4L502.8,459.3L506.3,458.5L513.6,459.5L517.6,460.1L520.2,457.9L524.6,457.1L528.4,462.5L533.9,463.9L538.3,464.7L537.7,469.6L534.4,471.5M512.3,446.7L518.0,448.4L520.2,457.9M516.7,436.7L516.2,431.5L519.6,428.5L516.2,423.3L515.8,417.6L514.0,414.1L512.9,411.3L515.1,409.7M495.3,411.9L502.3,414.9L503.0,420.6M495.3,411.9L496.4,411.6L507.0,411.9L507.4,409.4L511.8,408.9L514.0,411.9M495.3,411.9L490.0,413.3L486.4,416.0L483.1,419.5L482.0,422.0L480.3,423.9L476.9,426.6L476.9,432.3L478.3,432.9L477.6,436.1L476.1,438.6L474.7,438.9M508.3,486.2L508.5,488.4M541.6,486.8L546.1,487.9L549.4,487.3L552.7,485.7L555.8,487.6L557.3,486.0M538.3,481.6L546.7,483.8L550.5,484.1L555.8,487.6M546.1,487.9L546.5,490.6L548.9,491.7L548.0,495.2L548.9,498.5L543.6,498.8L538.3,499.6L533.9,499.6L531.0,501.2L529.5,502.0M548.9,491.7L552.7,493.9L556.0,492.2L558.0,495.2M548.9,498.5L550.5,501.8L551.6,504.2L550.5,507.2L552.0,509.4L555.3,512.7L555.3,515.6L556.0,518.1L557.1,518.4M543.6,498.8L541.0,505.0L535.7,508.8L531.3,511.8L528.6,510.7M528.6,510.7L528.4,514.0L527.3,519.5L527.1,519.5M525.5,514.6L527.1,519.5M535.7,508.8L536.6,512.1L531.7,514.0L533.3,517.3L529.5,520.3L527.3,519.7M536.6,512.1L542.8,515.1L548.7,520.3L552.7,520.6L554.9,518.1L556.0,518.1M552.7,520.6L555.3,522.2L556.9,522.2M562.6,532.8L564.0,533.9M564.8,537.2L571.9,538.0L573.0,534.4L573.9,532.5L574.3,530.1M564.8,537.2L564.0,533.9M571.9,538.0L573.0,545.3L564.8,548.1L566.6,552.7L567.3,554.3M564.8,548.1L556.0,550.2L550.3,552.7L545.8,552.4L545.4,554.3L544.5,555.1M558.0,495.2L558.0,497.7M569.0,498.2L574.8,495.8L576.5,496.3L580.3,497.7L583.6,500.1L585.1,500.1L585.1,502.8L583.6,507.2L584.5,514.0L586.5,515.4L584.5,518.6L586.5,521.6L588.7,523.0L589.6,527.1L586.0,531.2M585.1,502.8L589.1,503.4L592.4,500.9L596.9,497.9L600.2,499.0L604.6,497.4L607.9,496.6L608.1,499.9L612.3,499.0L615.4,498.5M584.5,518.6L588.0,519.7L596.2,518.6L596.6,515.6L603.0,512.9L603.5,509.7L605.2,508.8L604.6,507.2L607.0,506.1L608.1,499.9M567.0,486.0L572.6,487.3L573.7,477.2L579.4,475.9M573.7,487.3L576.1,487.3L579.4,483.2L582.5,484.9L586.7,487.9L588.0,490.9L591.8,493.9L596.9,497.9M579.4,475.9L584.7,478.9L593.3,480.8L596.0,482.7L595.8,485.4L600.2,487.6L602.4,487.1L605.0,485.4L606.8,484.6L612.3,484.1L613.9,482.2L620.0,483.0L627.1,484.9M600.2,487.6L601.5,490.3L605.7,490.0L605.9,488.1L608.3,486.8L611.2,488.7L612.5,492.2M601.5,490.3L598.8,492.2L600.6,495.8L600.2,499.0M605.7,490.0L603.0,491.1L606.1,492.2L612.5,492.2L613.0,494.7L615.4,495.0L615.4,498.5M627.1,484.9L627.3,482.7L628.4,482.2L627.5,478.6L632.2,476.7L631.7,475.6L633.3,471.3L638.8,471.8L639.3,468.0L642.8,466.1M554.9,476.4L557.3,472.9L553.6,468.3L554.0,465.8L553.4,464.2L554.9,462.5L557.5,463.9L562.6,459.0L570.8,460.9L576.3,460.6L579.4,460.9L585.6,461.5L582.5,458.2L584.7,455.5L585.1,452.7L593.5,451.7L602.4,448.9L607.2,452.5L612.3,452.7L619.6,451.7L618.9,453.0L622.2,454.6L626.7,461.5L634.2,460.9L638.4,464.7L642.8,466.1M642.8,466.1L643.9,465.8L648.1,463.9L654.3,461.5L658.2,462.0L664.9,464.2L667.1,462.3L666.4,458.2L675.7,460.1L675.9,462.0L679.0,463.4L686.3,463.1L689.8,465.5L694.5,466.1L699.3,464.7L702.4,462.8L707.7,464.2L710.4,465.0L713.5,462.8L716.5,456.8L723.0,454.1L728.2,456.0L731.6,463.1L738.4,466.6L739.1,469.9L747.5,468.3L743.9,477.0L740.0,477.5L739.5,483.0L738.4,484.3M643.9,465.8L644.3,467.4L649.4,469.9L651.0,476.7L660.7,479.2L662.9,483.5L674.8,484.1L681.9,486.5L691.8,484.1L696.9,480.8L697.1,477.0L706.2,475.3L714.3,472.9L709.3,469.9L705.1,469.9L707.7,464.2M738.4,484.3L736.6,482.7L732.7,485.4L730.2,486.0L724.7,490.6M730.0,497.1L733.5,494.7M615.4,498.5L617.6,499.6L621.8,503.1L624.5,506.4L623.8,510.7L624.0,514.6L628.9,517.6L626.9,521.4L631.1,523.8L636.8,525.5L644.6,527.9L644.6,523.8L635.7,521.1L628.9,517.6M644.6,523.8L646.1,525.5L648.3,523.0L652.3,524.1L653.4,526.5L648.3,527.1L646.1,525.5M652.3,524.1L658.0,520.6L662.2,519.7L664.9,523.0M586.0,531.2L586.5,521.6M596.9,530.6L598.6,533.6M600.6,535.0L604.6,533.9L606.8,533.4L605.9,529.8L604.8,527.4L603.5,526.3L606.1,523.5L609.7,521.6L613.2,517.0L614.7,515.1L614.5,510.7L616.5,511.8L614.1,508.3L613.0,506.4L615.2,505.0L621.8,503.1M644.6,527.9L645.2,533.6L646.1,536.6L646.5,540.4M645.2,533.6L646.1,531.2L648.3,528.7L653.2,531.2L653.8,532.0L651.4,535.5L652.7,537.2L653.8,542.6M653.8,542.6L656.0,537.2L656.3,534.4L659.1,530.4L660.2,527.4L664.2,524.4L664.9,523.0L668.0,524.6L668.0,529.5L665.3,533.6L668.4,536.6L669.1,539.6L673.5,541.2L671.1,544.5M673.5,541.2L674.8,538.8L676.4,538.3L677.5,538.5L682.5,536.3L685.6,537.4L685.4,539.9L688.5,541.2M671.1,544.5L671.9,546.7L673.5,546.7L673.3,552.1L675.5,550.2L679.7,550.0L681.4,555.1L683.2,557.3L683.2,560.6L687.4,559.8L687.4,566.3L683.9,567.9L684.5,570.4L680.8,571.5M671.1,544.5L668.4,546.2L665.8,549.4L667.7,556.2L666.9,558.4L669.1,563.9L670.0,568.2L668.2,572.0M675.5,550.2L675.2,546.7L679.4,547.2L681.7,545.1L680.8,543.2L677.2,540.7L676.4,538.3M683.2,560.6L681.4,560.6L677.5,561.1L676.4,562.8L677.2,567.9M671.1,582.1L673.3,584.0L675.5,582.9M692.0,594.4L694.0,597.3L697.8,596.0L702.9,595.7L705.9,587.8L709.7,588.4M761.4,606.9L761.4,624.6M723.8,625.1L726.3,624.9M430.8,524.4L430.8,521.6L439.0,516.7L442.1,513.5L443.6,512.4L447.1,511.8L446.0,505.3L445.1,504.2M420.9,524.4L430.8,524.4M430.8,525.5L430.8,529.0L423.5,529.0L423.5,536.1L421.3,537.2L421.1,541.8L412.5,541.8M430.8,525.5L439.4,531.7L435.6,531.7L437.9,554.9L438.3,557.6L429.5,557.6L424.6,557.3L423.1,559.5L418.0,554.6L413.6,556.0M439.4,531.7L452.6,542.3L452.6,543.4L457.1,545.9L457.3,548.1L459.3,547.8L459.3,553.8L457.7,557.9L452.9,558.1L450.4,559.0L448.5,558.7L445.6,561.1L443.8,561.7L440.3,565.2L437.9,571.5L432.3,572.0L431.7,569.8L429.5,566.0L424.8,566.0L423.1,559.5M457.1,545.9L462.8,547.0L466.6,543.2L476.5,535.8L471.0,528.2L471.9,524.6L471.6,517.3L470.1,514.0L468.3,511.3L466.6,507.5L468.3,505.3L469.0,499.3M470.1,514.0L472.5,513.2L475.4,511.0L475.6,509.4M476.5,535.8L481.4,538.3L483.1,537.2L503.0,546.7L503.0,545.3L505.2,545.3L505.2,513.7M505.2,539.9L519.1,539.9L519.6,539.3L523.3,539.9L531.5,539.9M503.0,546.7L503.0,557.0L500.6,557.0L498.6,565.2L500.6,569.8L502.3,576.1L503.4,576.1L505.2,578.8L510.5,585.4L512.7,588.1L515.1,587.3L518.2,590.0M481.4,538.3L483.1,542.6L484.2,545.3L485.1,554.0L479.8,560.3L479.8,564.4L482.0,564.7L480.9,569.0L484.2,572.6L480.9,573.4L483.8,579.4L482.0,582.9L482.2,586.2L485.1,591.6L485.8,593.8M459.3,553.8L463.2,561.7L467.2,563.6L471.0,564.9L476.5,563.9L479.8,560.3M457.7,557.9L457.9,567.9L456.2,575.0L456.0,582.6M457.9,567.9L454.4,568.2L452.0,569.8L449.8,569.6L443.8,569.8L443.8,573.9L444.5,578.0L442.9,581.8L443.8,585.9M449.8,569.6L450.9,575.8L451.5,580.7L452.6,583.2M453.5,582.9L453.5,575.3L452.0,569.8M437.9,571.5L432.8,575.0L431.7,579.1L433.4,583.5L433.2,587.8M431.7,579.1L429.2,579.1L427.3,576.7L424.6,581.0M429.2,579.1L430.6,576.7L432.8,575.0M427.3,576.7L426.6,574.5L425.3,572.6L422.0,574.5L420.9,575.3M419.5,573.1L417.3,568.5L419.7,565.5L416.4,565.5L413.1,566.0M412.9,564.1L416.9,562.2L419.5,563.6L416.4,563.6L413.1,563.0M424.8,566.0L419.7,565.5M482.0,564.7L479.8,564.4M471.6,593.5L475.0,593.8L479.4,593.8L485.8,593.8L486.7,590.3L491.1,590.3L491.1,586.2L493.5,585.9L499.5,588.6L504.1,585.9L510.5,585.4M471.6,597.1L475.0,597.1L475.0,593.8M479.4,593.8L482.0,597.3L480.9,601.2L482.0,605.2L480.7,606.6L478.3,605.2L475.6,606.3L476.1,609.6L474.5,610.4M491.1,590.3L489.1,601.2L485.8,605.2L485.3,610.7L481.8,613.1L478.7,612.3L476.9,615.6M477.2,616.1L486.7,615.9L488.6,621.6L493.1,618.9L498.1,619.7L498.6,629.8L503.0,629.8L503.0,634.7L498.6,635.2L498.6,643.9L501.7,647.7M479.6,647.2L490.9,647.2L496.4,648.8L501.7,647.7L505.9,648.3M494.2,659.7L494.2,667.9L494.2,677.1L488.4,678.0L486.4,677.7M494.2,659.7L496.4,659.7L496.4,648.8M494.2,667.9L495.9,672.8L500.8,668.7L506.5,669.5L509.4,666.0L514.9,660.3L519.1,660.8L520.7,666.5L520.7,672.8L522.7,673.1M505.9,648.3L509.6,648.8L513.8,643.1L517.1,642.3L517.1,640.6L522.9,637.9L522.2,636.8L523.5,625.7L521.8,625.1L518.0,622.1L513.8,622.9L512.7,624.9L513.4,633.8L515.8,636.3L514.0,636.3L510.1,631.9L505.9,630.3L503.0,629.8M505.9,648.3L507.4,651.5L511.2,655.6L514.9,660.3M517.1,642.3L522.4,645.3L522.4,651.0L521.8,657.8L519.1,660.8M523.5,625.7L526.2,625.7L526.2,631.1L532.8,631.7L539.2,628.4M526.2,631.1L525.7,636.6L529.1,643.4L527.7,646.4L525.7,639.3L522.9,637.9M518.0,622.1L515.1,616.7L514.5,608.8L515.4,603.6L516.0,597.6L519.1,593.8L518.2,590.0M514.5,608.8L517.4,606.3L518.0,602.5L524.9,602.5L533.0,608.0L536.6,612.6M515.4,603.6L517.4,602.8M517.4,606.3L518.0,608.8L516.9,611.8L514.7,611.8M524.9,602.5L525.1,599.3L527.3,594.6L525.1,588.4L529.3,587.3M518.2,590.0L524.0,589.5L525.1,588.4M529.3,587.3L534.1,590.0L538.1,589.2L542.5,589.2L540.5,591.9L540.5,602.3L541.6,604.4M542.5,589.2L545.0,587.0L549.4,586.2L556.0,578.0L553.8,578.0L547.2,575.3L545.6,568.5M556.0,578.0L558.2,573.9L558.2,569.0M525.1,588.4L522.9,578.6L525.1,576.7L525.1,573.9L525.7,570.9L529.1,565.2L530.4,560.6L535.2,550.8M530.4,560.6L533.7,559.2L536.1,560.0L540.5,563.0L543.6,565.8L545.2,565.2M543.6,565.8L542.3,569.8L545.6,568.5M522.9,578.6L522.7,573.7L524.9,573.9M510.5,585.4L515.1,587.3M508.3,573.9L511.8,574.5L515.1,572.6L519.1,573.1L521.5,567.9L523.3,566.6L524.9,573.9M502.3,576.1L508.3,573.9M509.6,680.4L513.2,677.7L514.9,680.4L512.1,683.1L509.6,680.4M519.1,669.8L520.9,672.8L518.5,673.9L519.1,669.8"/>
<path d="M246.8,472.6L251.2,469.6L255.0,468.3L259.4,467.2L262.7,469.4L262.7,472.1L259.0,473.2L256.1,472.1L251.2,472.9L246.8,472.6M256.1,485.4L255.9,481.3L257.9,476.7L260.3,474.5L262.7,475.1L260.1,477.8L259.2,481.3L259.4,484.9L257.9,486.2L256.1,485.4M263.0,474.8L266.0,474.3L271.1,474.5L273.3,477.2L270.7,478.1L269.6,481.6L268.0,482.7L266.9,480.0L265.6,480.5L266.0,476.7L263.0,474.8M265.8,486.0L270.0,486.5L275.5,483.5L274.4,483.0L270.5,483.8L266.7,485.1L265.8,486.0M273.8,481.9L278.9,481.9L281.7,481.1L281.3,479.7L277.8,480.2L273.8,481.9M231.8,462.3L233.8,458.2L230.9,453.6L234.0,453.3L237.1,460.1L236.0,462.5L231.8,462.3M191.6,433.7L196.0,431.0L201.6,429.6L208.2,428.8L203.8,431.5L198.7,433.1L194.9,433.9L191.6,433.7M175.1,420.6L179.5,417.3L186.1,417.9L189.4,420.1L183.9,422.8L178.4,422.2L175.1,420.6M204.4,439.9L210.4,438.0L215.9,438.3L208.2,439.4L204.4,439.9M224.8,443.2L225.9,440.5L223.6,441.3L224.8,443.2M679.2,459.3L683.0,456.8L688.5,452.7L692.3,448.4L691.4,448.1L686.3,454.1L681.4,458.7L679.2,459.3M612.8,475.9L616.7,472.6L623.4,473.2L625.1,473.4L618.9,475.3L614.5,477.2L612.8,475.9M516.7,436.4L519.6,432.0L522.7,434.5L519.6,436.4L516.7,436.4M526.2,433.7L528.4,429.6L530.6,432.3L528.4,433.9L526.2,433.7M514.7,609.1L515.8,614.8L518.0,622.1L516.9,622.9L514.5,616.1L514.0,610.7L514.7,609.1M525.1,625.9L527.1,631.1L526.9,637.9L526.0,633.8L525.1,625.9M529.5,587.5L530.6,591.6L529.7,593.0L529.5,587.5M480.5,563.0L482.7,563.3L481.6,564.9L480.5,563.0M295.4,641.5L297.6,643.9L295.9,643.4L295.4,641.5M549.8,496.3L551.1,498.5L550.0,498.2L549.8,496.3M544.1,493.9L546.1,495.2L544.5,495.5L544.1,493.9M618.5,484.1L622.9,483.8L621.1,485.1L618.5,484.1M260.3,567.1L262.3,569.3L261.2,568.2L260.3,567.1M223.6,444.6L224.8,441.8L225.9,444.0M292.1,419.2L295.4,418.2L294.3,420.1M286.6,460.9L288.8,459.5L287.7,462.3M228.1,429.6L230.3,428.2L227.0,427.4M238.0,424.1L240.2,425.2L236.9,425.5M282.2,446.7L285.5,447.3L283.3,447.8M307.6,452.7L309.8,454.1L306.9,454.6M298.1,460.9L298.7,458.7L299.4,460.4M291.0,467.7L291.4,466.9L290.1,467.2M230.3,458.2L228.1,455.5L229.2,459.5M240.2,448.7L241.3,450.6L239.1,450.0M222.5,449.5L219.2,448.7L218.1,450.0M253.5,462.8L255.7,464.5L254.6,462.3M241.3,465.0L242.4,466.4L240.2,465.8"/>
<path class="thick" d="M285.9,714.2L284.8,722.3L284.2,730.5L284.6,737.3L286.6,742.8L290.3,746.9L295.4,749.6M166.9,460.4L162.9,454.1L157.0,448.7L152.8,443.2L149.7,440.8M462.4,436.4L463.2,431.0L469.9,426.1L477.6,420.1L483.1,413.8L490.9,409.7M478.7,387.4L487.5,389.3L496.4,386.0L489.8,383.3L478.7,384.7M498.6,382.5L507.4,381.9M567.0,405.6L572.6,401.0L578.1,395.6L589.1,392.8L598.0,390.9M560.4,380.3L575.9,380.0M664.2,383.3L675.2,383.8"/>
</g>
<g class="num">
<text x="54.5" y="371.6">−28</text>
<text x="68.3" y="371.6">−28</text>
<text x="82.1" y="371.6">−29</text>
<text x="95.8" y="371.6">−28</text>
<text x="109.6" y="371.6">−27</text>
<text x="123.4" y="371.6">−25</text>
<text x="137.2" y="371.6">−24</text>
<text x="151.0" y="371.6">−22</text>
<text x="164.7" y="371.6">−22</text>
<text x="178.5" y="371.6">−22</text>
<text x="192.3" y="371.6">−22</text>
<text x="206.1" y="371.6">−22</text>
<text x="219.9" y="371.6">−24</text>
<text x="233.6" y="371.6">−25</text>
<text x="247.4" y="371.6">−26</text>
<text x="261.2" y="371.6">−27</text>
<text x="275.0" y="371.6">−28</text>
<text x="288.8" y="371.6">−29</text>
<text x="302.5" y="371.6">−29</text>
<text x="316.3" y="371.6">−27</text>
<text x="330.1" y="371.6">−25</text>
<text x="343.9" y="371.6">−26</text>
<text x="357.7" y="371.6">−25</text>
<text x="371.4" y="371.6">−24</text>
<text x="385.2" y="371.6">−23</text>
<text x="399.0" y="371.6">−21</text>
<text x="412.8" y="371.6">−14</text>
<text x="426.6" y="371.6">−2</text>
<text x="440.3" y="371.6">−2</text>
<text x="454.1" y="371.6">−3</text>
<text x="467.9" y="371.6">−2</text>
<text x="481.7" y="371.6">−3</text>
<text x="495.5" y="371.6">−5</text>
<text x="509.2" y="371.6">−7</text>
<text x="523.0" y="371.6">−10</text>
<text x="536.8" y="371.6">−14</text>
<text x="550.6" y="371.6">−18</text>
<text x="564.4" y="371.6">−20</text>
<text x="578.1" y="371.6">−21</text>
<text x="591.9" y="371.6">−22</text>
<text x="605.7" y="371.6">−20</text>
<text x="619.5" y="371.6">−20</text>
<text x="633.3" y="371.6">−20</text>
<text x="647.0" y="371.6">−22</text>
<text x="660.8" y="371.6">−25</text>
<text x="674.6" y="371.6">−26</text>
<text x="688.4" y="371.6">−27</text>
<text x="702.2" y="371.6">−28</text>
<text x="715.9" y="371.6">−29</text>
<text x="729.7" y="371.6">−29</text>
<text x="743.5" y="371.6">−30</text>
<text x="757.3" y="371.6">−29</text>
<text x="771.1" y="371.6">−29</text>
<text x="784.8" y="371.6">−29</text>
<text x="798.6" y="371.6">−30</text>
<text x="812.4" y="371.6">−29</text>
<text x="826.2" y="371.6">−28</text>
<text x="840.0" y="371.6">−29</text>
<text x="54.5" y="388.6">−20</text>
<text x="68.3" y="388.6">−22</text>
<text x="82.1" y="388.6">−23</text>
<text x="95.8" y="388.6">−22</text>
<text x="109.6" y="388.6">−20</text>
<text x="123.4" y="388.6">−21</text>
<text x="137.2" y="388.6">−21</text>
<text x="151.0" y="388.6">−22</text>
<text x="164.7" y="388.6">−23</text>
<text x="178.5" y="388.6">−24</text>
<text x="192.3" y="388.6">−25</text>
<text x="206.1" y="388.6">−27</text>
<text x="219.9" y="388.6">−27</text>
<text x="233.6" y="388.6">−22</text>
<text x="247.4" y="388.6">−23</text>
<text x="261.2" y="388.6">−26</text>
<text x="275.0" y="388.6">−30</text>
<text x="288.8" y="388.6">−23</text>
<text x="302.5" y="388.6">−28</text>
<text x="316.3" y="388.6">−30</text>
<text x="330.1" y="388.6">−31</text>
<text x="343.9" y="388.6">−31</text>
<text x="357.7" y="388.6">−32</text>
<text x="371.4" y="388.6">−29</text>
<text x="385.2" y="388.6">−24</text>
<text x="399.0" y="388.6">−18</text>
<text x="412.8" y="388.6">−9</text>
<text x="426.6" y="388.6">−3</text>
<text x="438.5" y="388.6">0</text>
<text x="454.1" y="388.6">−0</text>
<text x="466.1" y="388.6">2</text>
<text x="481.7" y="388.6">−1</text>
<text x="495.5" y="388.6">−1</text>
<text x="509.2" y="388.6">−0</text>
<text x="523.0" y="388.6">−1</text>
<text x="536.8" y="388.6">−2</text>
<text x="550.6" y="388.6">−3</text>
<text x="564.4" y="388.6">−5</text>
<text x="578.1" y="388.6">−8</text>
<text x="591.9" y="388.6">−9</text>
<text x="605.7" y="388.6">−10</text>
<text x="619.5" y="388.6">−20</text>
<text x="633.3" y="388.6">−28</text>
<text x="647.0" y="388.6">−27</text>
<text x="660.8" y="388.6">−26</text>
<text x="674.6" y="388.6">−26</text>
<text x="688.4" y="388.6">−25</text>
<text x="702.2" y="388.6">−23</text>
<text x="715.9" y="388.6">−22</text>
<text x="729.7" y="388.6">−20</text>
<text x="743.5" y="388.6">−22</text>
<text x="757.3" y="388.6">−21</text>
<text x="771.1" y="388.6">−21</text>
<text x="784.8" y="388.6">−22</text>
<text x="798.6" y="388.6">−22</text>
<text x="812.4" y="388.6">−21</text>
<text x="826.2" y="388.6">−20</text>
<text x="840.0" y="388.6">−19</text>
<text x="54.5" y="405.7">−10</text>
<text x="68.3" y="405.7">−12</text>
<text x="82.1" y="405.7">−11</text>
<text x="95.8" y="405.7">−15</text>
<text x="109.6" y="405.7">−17</text>
<text x="123.4" y="405.7">−16</text>
<text x="137.2" y="405.7">−13</text>
<text x="151.0" y="405.7">−11</text>
<text x="164.7" y="405.7">−7</text>
<text x="178.5" y="405.7">−10</text>
<text x="192.3" y="405.7">−16</text>
<text x="206.1" y="405.7">−13</text>
<text x="219.9" y="405.7">−14</text>
<text x="233.6" y="405.7">−16</text>
<text x="247.4" y="405.7">−19</text>
<text x="261.2" y="405.7">−26</text>
<text x="275.0" y="405.7">−23</text>
<text x="288.8" y="405.7">−25</text>
<text x="302.5" y="405.7">−25</text>
<text x="316.3" y="405.7">−22</text>
<text x="330.1" y="405.7">−28</text>
<text x="343.9" y="405.7">−23</text>
<text x="357.7" y="405.7">−23</text>
<text x="371.4" y="405.7">−30</text>
<text x="385.2" y="405.7">−25</text>
<text x="399.0" y="405.7">−11</text>
<text x="412.8" y="405.7">−3</text>
<text x="424.8" y="405.7">0</text>
<text x="438.5" y="405.7">1</text>
<text x="452.3" y="405.7">4</text>
<text x="466.1" y="405.7">6</text>
<text x="479.9" y="405.7">5</text>
<text x="493.7" y="405.7">5</text>
<text x="507.4" y="405.7">3</text>
<text x="521.2" y="405.7">2</text>
<text x="535.0" y="405.7">1</text>
<text x="550.6" y="405.7">−1</text>
<text x="564.4" y="405.7">−17</text>
<text x="578.1" y="405.7">−22</text>
<text x="591.9" y="405.7">−21</text>
<text x="605.7" y="405.7">−22</text>
<text x="619.5" y="405.7">−19</text>
<text x="633.3" y="405.7">−19</text>
<text x="647.0" y="405.7">−23</text>
<text x="660.8" y="405.7">−25</text>
<text x="674.6" y="405.7">−26</text>
<text x="688.4" y="405.7">−20</text>
<text x="702.2" y="405.7">−18</text>
<text x="715.9" y="405.7">−16</text>
<text x="729.7" y="405.7">−13</text>
<text x="743.5" y="405.7">−13</text>
<text x="757.3" y="405.7">−19</text>
<text x="771.1" y="405.7">−18</text>
<text x="784.8" y="405.7">−17</text>
<text x="798.6" y="405.7">−14</text>
<text x="812.4" y="405.7">−11</text>
<text x="826.2" y="405.7">−12</text>
<text x="840.0" y="405.7">−10</text>
<text x="54.5" y="422.7">−8</text>
<text x="68.3" y="422.7">−7</text>
<text x="82.1" y="422.7">−6</text>
<text x="95.8" y="422.7">−6</text>
<text x="109.6" y="422.7">−3</text>
<text x="121.6" y="422.7">0</text>
<text x="135.4" y="422.7">0</text>
<text x="151.0" y="422.7">−2</text>
<text x="162.9" y="422.7">0</text>
<text x="178.5" y="422.7">−2</text>
<text x="192.3" y="422.7">−4</text>
<text x="206.1" y="422.7">−15</text>
<text x="219.9" y="422.7">−16</text>
<text x="233.6" y="422.7">−22</text>
<text x="247.4" y="422.7">−26</text>
<text x="261.2" y="422.7">−21</text>
<text x="275.0" y="422.7">−24</text>
<text x="288.8" y="422.7">−16</text>
<text x="302.5" y="422.7">−16</text>
<text x="316.3" y="422.7">−15</text>
<text x="330.1" y="422.7">−9</text>
<text x="343.9" y="422.7">−18</text>
<text x="357.7" y="422.7">−13</text>
<text x="371.4" y="422.7">−7</text>
<text x="383.4" y="422.7">1</text>
<text x="397.2" y="422.7">4</text>
<text x="411.0" y="422.7">4</text>
<text x="424.8" y="422.7">4</text>
<text x="438.5" y="422.7">5</text>
<text x="452.3" y="422.7">6</text>
<text x="466.1" y="422.7">8</text>
<text x="481.7" y="422.7">−8</text>
<text x="495.5" y="422.7">−12</text>
<text x="509.2" y="422.7">−7</text>
<text x="523.0" y="422.7">−3</text>
<text x="536.8" y="422.7">−9</text>
<text x="550.6" y="422.7">−10</text>
<text x="564.4" y="422.7">−13</text>
<text x="578.1" y="422.7">−14</text>
<text x="591.9" y="422.7">−18</text>
<text x="605.7" y="422.7">−15</text>
<text x="619.5" y="422.7">−14</text>
<text x="633.3" y="422.7">−21</text>
<text x="647.0" y="422.7">−23</text>
<text x="660.8" y="422.7">−19</text>
<text x="674.6" y="422.7">−18</text>
<text x="688.4" y="422.7">−12</text>
<text x="702.2" y="422.7">−14</text>
<text x="715.9" y="422.7">−16</text>
<text x="729.7" y="422.7">−10</text>
<text x="743.5" y="422.7">−12</text>
<text x="757.3" y="422.7">−15</text>
<text x="771.1" y="422.7">−14</text>
<text x="784.8" y="422.7">−11</text>
<text x="798.6" y="422.7">−10</text>
<text x="812.4" y="422.7">−7</text>
<text x="826.2" y="422.7">−12</text>
<text x="840.0" y="422.7">−8</text>
<text x="54.5" y="439.7">−1</text>
<text x="68.3" y="439.7">−1</text>
<text x="80.3" y="439.7">0</text>
<text x="94.0" y="439.7">0</text>
<text x="107.8" y="439.7">2</text>
<text x="121.6" y="439.7">2</text>
<text x="135.4" y="439.7">3</text>
<text x="151.0" y="439.7">−3</text>
<text x="164.7" y="439.7">−0</text>
<text x="176.7" y="439.7">1</text>
<text x="192.3" y="439.7">−4</text>
<text x="206.1" y="439.7">−3</text>
<text x="219.9" y="439.7">−8</text>
<text x="233.6" y="439.7">−15</text>
<text x="247.4" y="439.7">−20</text>
<text x="261.2" y="439.7">−22</text>
<text x="275.0" y="439.7">−22</text>
<text x="288.8" y="439.7">−25</text>
<text x="302.5" y="439.7">−14</text>
<text x="316.3" y="439.7">−9</text>
<text x="330.1" y="439.7">−1</text>
<text x="343.9" y="439.7">−1</text>
<text x="355.9" y="439.7">1</text>
<text x="369.6" y="439.7">2</text>
<text x="383.4" y="439.7">4</text>
<text x="397.2" y="439.7">5</text>
<text x="411.0" y="439.7">7</text>
<text x="424.8" y="439.7">8</text>
<text x="438.5" y="439.7">9</text>
<text x="452.3" y="439.7">7</text>
<text x="467.9" y="439.7">−6</text>
<text x="481.7" y="439.7">−3</text>
<text x="495.5" y="439.7">−2</text>
<text x="507.4" y="439.7">0</text>
<text x="523.0" y="439.7">−3</text>
<text x="536.8" y="439.7">−6</text>
<text x="550.6" y="439.7">−3</text>
<text x="564.4" y="439.7">−1</text>
<text x="576.3" y="439.7">2</text>
<text x="591.9" y="439.7">−1</text>
<text x="605.7" y="439.7">−5</text>
<text x="619.5" y="439.7">−6</text>
<text x="633.3" y="439.7">−7</text>
<text x="647.0" y="439.7">−7</text>
<text x="660.8" y="439.7">−9</text>
<text x="674.6" y="439.7">−3</text>
<text x="688.4" y="439.7">−8</text>
<text x="702.2" y="439.7">−11</text>
<text x="715.9" y="439.7">−6</text>
<text x="729.7" y="439.7">−8</text>
<text x="743.5" y="439.7">−5</text>
<text x="757.3" y="439.7">−9</text>
<text x="771.1" y="439.7">−7</text>
<text x="784.8" y="439.7">−6</text>
<text x="798.6" y="439.7">−3</text>
<text x="812.4" y="439.7">−0</text>
<text x="824.4" y="439.7">0</text>
<text x="838.2" y="439.7">1</text>
<text x="52.7" y="456.7">3</text>
<text x="66.5" y="456.7">3</text>
<text x="80.3" y="456.7">3</text>
<text x="94.0" y="456.7">4</text>
<text x="107.8" y="456.7">4</text>
<text x="121.6" y="456.7">4</text>
<text x="135.4" y="456.7">5</text>
<text x="149.2" y="456.7">5</text>
<text x="162.9" y="456.7">5</text>
<text x="176.7" y="456.7">4</text>
<text x="192.3" y="456.7">−0</text>
<text x="206.1" y="456.7">−1</text>
<text x="219.9" y="456.7">−2</text>
<text x="233.6" y="456.7">−4</text>
<text x="247.4" y="456.7">−6</text>
<text x="261.2" y="456.7">−2</text>
<text x="275.0" y="456.7">−2</text>
<text x="288.8" y="456.7">−5</text>
<text x="302.5" y="456.7">−17</text>
<text x="316.3" y="456.7">−12</text>
<text x="330.1" y="456.7">−8</text>
<text x="343.9" y="456.7">−4</text>
<text x="357.7" y="456.7">−0</text>
<text x="369.6" y="456.7">3</text>
<text x="383.4" y="456.7">5</text>
<text x="397.2" y="456.7">6</text>
<text x="411.0" y="456.7">8</text>
<text x="424.8" y="456.7">9</text>
<text x="438.5" y="456.7">9</text>
<text x="452.3" y="456.7">8</text>
<text x="466.1" y="456.7">5</text>
<text x="479.9" y="456.7">1</text>
<text x="495.5" y="456.7">−1</text>
<text x="509.2" y="456.7">−1</text>
<text x="523.0" y="456.7">−0</text>
<text x="535.0" y="456.7">2</text>
<text x="548.8" y="456.7">3</text>
<text x="562.6" y="456.7">8</text>
<text x="576.3" y="456.7">5</text>
<text x="590.1" y="456.7">8</text>
<text x="603.9" y="456.7">7</text>
<text x="617.7" y="456.7">3</text>
<text x="631.5" y="456.7">1</text>
<text x="645.2" y="456.7">2</text>
<text x="660.8" y="456.7">−0</text>
<text x="672.8" y="456.7">3</text>
<text x="688.4" y="456.7">−4</text>
<text x="702.2" y="456.7">−6</text>
<text x="715.9" y="456.7">−4</text>
<text x="729.7" y="456.7">−3</text>
<text x="743.5" y="456.7">−3</text>
<text x="757.3" y="456.7">−3</text>
<text x="771.1" y="456.7">−2</text>
<text x="784.8" y="456.7">−1</text>
<text x="798.6" y="456.7">−2</text>
<text x="810.6" y="456.7">1</text>
<text x="824.4" y="456.7">3</text>
<text x="838.2" y="456.7">4</text>
<text x="52.7" y="473.7">5</text>
<text x="66.5" y="473.7">5</text>
<text x="80.3" y="473.7">5</text>
<text x="94.0" y="473.7">6</text>
<text x="107.8" y="473.7">7</text>
<text x="121.6" y="473.7">7</text>
<text x="135.4" y="473.7">6</text>
<text x="149.2" y="473.7">7</text>
<text x="162.9" y="473.7">7</text>
<text x="176.7" y="473.7">7</text>
<text x="190.5" y="473.7">12</text>
<text x="204.3" y="473.7">3</text>
<text x="218.1" y="473.7">2</text>
<text x="231.8" y="473.7">2</text>
<text x="245.6" y="473.7">3</text>
<text x="259.4" y="473.7">3</text>
<text x="273.2" y="473.7">1</text>
<text x="288.8" y="473.7">−2</text>
<text x="302.5" y="473.7">−7</text>
<text x="316.3" y="473.7">−2</text>
<text x="330.1" y="473.7">−6</text>
<text x="343.9" y="473.7">−1</text>
<text x="355.9" y="473.7">8</text>
<text x="369.6" y="473.7">10</text>
<text x="383.4" y="473.7">11</text>
<text x="397.2" y="473.7">11</text>
<text x="411.0" y="473.7">12</text>
<text x="424.8" y="473.7">13</text>
<text x="438.5" y="473.7">12</text>
<text x="452.3" y="473.7">14</text>
<text x="466.1" y="473.7">10</text>
<text x="481.7" y="473.7">−0</text>
<text x="493.7" y="473.7">5</text>
<text x="509.2" y="473.7">−0</text>
<text x="521.2" y="473.7">4</text>
<text x="535.0" y="473.7">3</text>
<text x="548.8" y="473.7">5</text>
<text x="562.6" y="473.7">8</text>
<text x="576.3" y="473.7">7</text>
<text x="590.1" y="473.7">11</text>
<text x="603.9" y="473.7">13</text>
<text x="617.7" y="473.7">10</text>
<text x="631.5" y="473.7">5</text>
<text x="645.2" y="473.7">7</text>
<text x="659.0" y="473.7">5</text>
<text x="672.8" y="473.7">1</text>
<text x="688.4" y="473.7">−0</text>
<text x="700.4" y="473.7">3</text>
<text x="715.9" y="473.7">−0</text>
<text x="727.9" y="473.7">5</text>
<text x="741.7" y="473.7">7</text>
<text x="755.5" y="473.7">2</text>
<text x="769.3" y="473.7">2</text>
<text x="783.0" y="473.7">2</text>
<text x="796.8" y="473.7">3</text>
<text x="810.6" y="473.7">3</text>
<text x="824.4" y="473.7">4</text>
<text x="838.2" y="473.7">6</text>
<text x="52.7" y="490.8">8</text>
<text x="66.5" y="490.8">8</text>
<text x="80.3" y="490.8">8</text>
<text x="94.0" y="490.8">11</text>
<text x="107.8" y="490.8">11</text>
<text x="121.6" y="490.8">10</text>
<text x="135.4" y="490.8">10</text>
<text x="149.2" y="490.8">10</text>
<text x="162.9" y="490.8">10</text>
<text x="176.7" y="490.8">9</text>
<text x="190.5" y="490.8">17</text>
<text x="204.3" y="490.8">9</text>
<text x="218.1" y="490.8">16</text>
<text x="231.8" y="490.8">17</text>
<text x="245.6" y="490.8">17</text>
<text x="259.4" y="490.8">13</text>
<text x="273.2" y="490.8">6</text>
<text x="287.0" y="490.8">2</text>
<text x="300.7" y="490.8">0</text>
<text x="314.5" y="490.8">4</text>
<text x="328.3" y="490.8">6</text>
<text x="342.1" y="490.8">10</text>
<text x="355.9" y="490.8">17</text>
<text x="369.6" y="490.8">17</text>
<text x="383.4" y="490.8">16</text>
<text x="397.2" y="490.8">16</text>
<text x="411.0" y="490.8">14</text>
<text x="424.8" y="490.8">12</text>
<text x="438.5" y="490.8">4</text>
<text x="452.3" y="490.8">11</text>
<text x="466.1" y="490.8">15</text>
<text x="479.9" y="490.8">10</text>
<text x="493.7" y="490.8">9</text>
<text x="507.4" y="490.8">9</text>
<text x="521.2" y="490.8">5</text>
<text x="535.0" y="490.8">8</text>
<text x="548.8" y="490.8">5</text>
<text x="562.6" y="490.8">9</text>
<text x="576.3" y="490.8">16</text>
<text x="590.1" y="490.8">13</text>
<text x="603.9" y="490.8">2</text>
<text x="617.7" y="490.8">0</text>
<text x="631.5" y="490.8">17</text>
<text x="645.2" y="490.8">15</text>
<text x="659.0" y="490.8">9</text>
<text x="672.8" y="490.8">11</text>
<text x="686.6" y="490.8">8</text>
<text x="700.4" y="490.8">9</text>
<text x="714.1" y="490.8">11</text>
<text x="727.9" y="490.8">4</text>
<text x="741.7" y="490.8">7</text>
<text x="755.5" y="490.8">9</text>
<text x="769.3" y="490.8">6</text>
<text x="783.0" y="490.8">8</text>
<text x="796.8" y="490.8">8</text>
<text x="810.6" y="490.8">8</text>
<text x="824.4" y="490.8">12</text>
<text x="838.2" y="490.8">10</text>
<text x="52.7" y="507.8">15</text>
<text x="66.5" y="507.8">14</text>
<text x="80.3" y="507.8">13</text>
<text x="94.0" y="507.8">14</text>
<text x="107.8" y="507.8">15</text>
<text x="121.6" y="507.8">15</text>
<text x="135.4" y="507.8">15</text>
<text x="149.2" y="507.8">15</text>
<text x="162.9" y="507.8">15</text>
<text x="176.7" y="507.8">15</text>
<text x="190.5" y="507.8">23</text>
<text x="204.3" y="507.8">19</text>
<text x="218.1" y="507.8">24</text>
<text x="231.8" y="507.8">19</text>
<text x="245.6" y="507.8">12</text>
<text x="259.4" y="507.8">13</text>
<text x="273.2" y="507.8">11</text>
<text x="287.0" y="507.8">15</text>
<text x="300.7" y="507.8">14</text>
<text x="314.5" y="507.8">16</text>
<text x="328.3" y="507.8">17</text>
<text x="342.1" y="507.8">19</text>
<text x="355.9" y="507.8">19</text>
<text x="369.6" y="507.8">18</text>
<text x="383.4" y="507.8">17</text>
<text x="397.2" y="507.8">17</text>
<text x="411.0" y="507.8">16</text>
<text x="424.8" y="507.8">15</text>
<text x="438.5" y="507.8">20</text>
<text x="452.3" y="507.8">4</text>
<text x="466.1" y="507.8">12</text>
<text x="479.9" y="507.8">17</text>
<text x="493.7" y="507.8">16</text>
<text x="507.4" y="507.8">15</text>
<text x="521.2" y="507.8">11</text>
<text x="535.0" y="507.8">12</text>
<text x="548.8" y="507.8">13</text>
<text x="562.6" y="507.8">14</text>
<text x="576.3" y="507.8">12</text>
<text x="590.1" y="507.8">8</text>
<text x="605.7" y="507.8">−4</text>
<text x="619.5" y="507.8">−13</text>
<text x="633.3" y="507.8">−9</text>
<text x="647.0" y="507.8">−10</text>
<text x="660.8" y="507.8">−4</text>
<text x="672.8" y="507.8">0</text>
<text x="686.6" y="507.8">13</text>
<text x="700.4" y="507.8">14</text>
<text x="714.1" y="507.8">10</text>
<text x="727.9" y="507.8">9</text>
<text x="741.7" y="507.8">14</text>
<text x="755.5" y="507.8">15</text>
<text x="769.3" y="507.8">15</text>
<text x="783.0" y="507.8">14</text>
<text x="796.8" y="507.8">14</text>
<text x="810.6" y="507.8">16</text>
<text x="824.4" y="507.8">15</text>
<text x="838.2" y="507.8">15</text>
<text x="52.7" y="524.8">18</text>
<text x="66.5" y="524.8">17</text>
<text x="80.3" y="524.8">18</text>
<text x="94.0" y="524.8">20</text>
<text x="107.8" y="524.8">20</text>
<text x="121.6" y="524.8">18</text>
<text x="135.4" y="524.8">18</text>
<text x="149.2" y="524.8">18</text>
<text x="162.9" y="524.8">19</text>
<text x="176.7" y="524.8">19</text>
<text x="190.5" y="524.8">18</text>
<text x="204.3" y="524.8">30</text>
<text x="218.1" y="524.8">24</text>
<text x="231.8" y="524.8">22</text>
<text x="245.6" y="524.8">23</text>
<text x="259.4" y="524.8">22</text>
<text x="273.2" y="524.8">22</text>
<text x="287.0" y="524.8">21</text>
<text x="300.7" y="524.8">20</text>
<text x="314.5" y="524.8">21</text>
<text x="328.3" y="524.8">23</text>
<text x="342.1" y="524.8">22</text>
<text x="355.9" y="524.8">21</text>
<text x="369.6" y="524.8">19</text>
<text x="383.4" y="524.8">18</text>
<text x="397.2" y="524.8">18</text>
<text x="411.0" y="524.8">17</text>
<text x="424.8" y="524.8">16</text>
<text x="438.5" y="524.8">23</text>
<text x="452.3" y="524.8">23</text>
<text x="466.1" y="524.8">23</text>
<text x="479.9" y="524.8">18</text>
<text x="493.7" y="524.8">17</text>
<text x="507.4" y="524.8">19</text>
<text x="521.2" y="524.8">13</text>
<text x="535.0" y="524.8">15</text>
<text x="548.8" y="524.8">20</text>
<text x="562.6" y="524.8">21</text>
<text x="576.3" y="524.8">15</text>
<text x="590.1" y="524.8">20</text>
<text x="603.9" y="524.8">20</text>
<text x="617.7" y="524.8">19</text>
<text x="631.5" y="524.8">15</text>
<text x="645.2" y="524.8">5</text>
<text x="659.0" y="524.8">10</text>
<text x="672.8" y="524.8">4</text>
<text x="686.6" y="524.8">16</text>
<text x="700.4" y="524.8">23</text>
<text x="714.1" y="524.8">18</text>
<text x="727.9" y="524.8">21</text>
<text x="741.7" y="524.8">20</text>
<text x="755.5" y="524.8">19</text>
<text x="769.3" y="524.8">19</text>
<text x="783.0" y="524.8">21</text>
<text x="796.8" y="524.8">21</text>
<text x="810.6" y="524.8">19</text>
<text x="824.4" y="524.8">19</text>
<text x="838.2" y="524.8">18</text>
<text x="52.7" y="541.8">21</text>
<text x="66.5" y="541.8">21</text>
<text x="80.3" y="541.8">23</text>
<text x="94.0" y="541.8">24</text>
<text x="107.8" y="541.8">23</text>
<text x="121.6" y="541.8">22</text>
<text x="135.4" y="541.8">22</text>
<text x="149.2" y="541.8">22</text>
<text x="162.9" y="541.8">21</text>
<text x="176.7" y="541.8">21</text>
<text x="190.5" y="541.8">22</text>
<text x="204.3" y="541.8">22</text>
<text x="218.1" y="541.8">27</text>
<text x="231.8" y="541.8">30</text>
<text x="245.6" y="541.8">25</text>
<text x="259.4" y="541.8">26</text>
<text x="273.2" y="541.8">24</text>
<text x="287.0" y="541.8">25</text>
<text x="300.7" y="541.8">25</text>
<text x="314.5" y="541.8">25</text>
<text x="328.3" y="541.8">24</text>
<text x="342.1" y="541.8">24</text>
<text x="355.9" y="541.8">23</text>
<text x="369.6" y="541.8">21</text>
<text x="383.4" y="541.8">20</text>
<text x="397.2" y="541.8">20</text>
<text x="411.0" y="541.8">18</text>
<text x="424.8" y="541.8">25</text>
<text x="438.5" y="541.8">28</text>
<text x="452.3" y="541.8">26</text>
<text x="466.1" y="541.8">21</text>
<text x="479.9" y="541.8">19</text>
<text x="493.7" y="541.8">16</text>
<text x="507.4" y="541.8">15</text>
<text x="521.2" y="541.8">19</text>
<text x="535.0" y="541.8">26</text>
<text x="548.8" y="541.8">27</text>
<text x="562.6" y="541.8">26</text>
<text x="576.3" y="541.8">24</text>
<text x="590.1" y="541.8">25</text>
<text x="603.9" y="541.8">25</text>
<text x="617.7" y="541.8">25</text>
<text x="631.5" y="541.8">23</text>
<text x="645.2" y="541.8">26</text>
<text x="659.0" y="541.8">26</text>
<text x="672.8" y="541.8">19</text>
<text x="686.6" y="541.8">26</text>
<text x="700.4" y="541.8">24</text>
<text x="714.1" y="541.8">24</text>
<text x="727.9" y="541.8">24</text>
<text x="741.7" y="541.8">24</text>
<text x="755.5" y="541.8">24</text>
<text x="769.3" y="541.8">24</text>
<text x="783.0" y="541.8">25</text>
<text x="796.8" y="541.8">24</text>
<text x="810.6" y="541.8">23</text>
<text x="824.4" y="541.8">22</text>
<text x="838.2" y="541.8">21</text>
<text x="52.7" y="558.8">25</text>
<text x="66.5" y="558.8">25</text>
<text x="80.3" y="558.8">25</text>
<text x="94.0" y="558.8">24</text>
<text x="107.8" y="558.8">25</text>
<text x="121.6" y="558.8">25</text>
<text x="135.4" y="558.8">25</text>
<text x="149.2" y="558.8">25</text>
<text x="162.9" y="558.8">25</text>
<text x="176.7" y="558.8">25</text>
<text x="190.5" y="558.8">25</text>
<text x="204.3" y="558.8">26</text>
<text x="218.1" y="558.8">27</text>
<text x="231.8" y="558.8">28</text>
<text x="245.6" y="558.8">30</text>
<text x="259.4" y="558.8">26</text>
<text x="273.2" y="558.8">27</text>
<text x="287.0" y="558.8">27</text>
<text x="300.7" y="558.8">27</text>
<text x="314.5" y="558.8">26</text>
<text x="328.3" y="558.8">25</text>
<text x="342.1" y="558.8">24</text>
<text x="355.9" y="558.8">24</text>
<text x="369.6" y="558.8">22</text>
<text x="383.4" y="558.8">22</text>
<text x="397.2" y="558.8">21</text>
<text x="411.0" y="558.8">21</text>
<text x="424.8" y="558.8">30</text>
<text x="438.5" y="558.8">28</text>
<text x="452.3" y="558.8">31</text>
<text x="466.1" y="558.8">25</text>
<text x="479.9" y="558.8">27</text>
<text x="493.7" y="558.8">27</text>
<text x="507.4" y="558.8">22</text>
<text x="521.2" y="558.8">29</text>
<text x="535.0" y="558.8">22</text>
<text x="548.8" y="558.8">25</text>
<text x="562.6" y="558.8">24</text>
<text x="576.3" y="558.8">27</text>
<text x="590.1" y="558.8">27</text>
<text x="603.9" y="558.8">27</text>
<text x="617.7" y="558.8">27</text>
<text x="631.5" y="558.8">29</text>
<text x="645.2" y="558.8">29</text>
<text x="659.0" y="558.8">24</text>
<text x="672.8" y="558.8">27</text>
<text x="686.6" y="558.8">29</text>
<text x="700.4" y="558.8">27</text>
<text x="714.1" y="558.8">27</text>
<text x="727.9" y="558.8">26</text>
<text x="741.7" y="558.8">27</text>
<text x="755.5" y="558.8">27</text>
<text x="769.3" y="558.8">27</text>
<text x="783.0" y="558.8">27</text>
<text x="796.8" y="558.8">26</text>
<text x="810.6" y="558.8">26</text>
<text x="824.4" y="558.8">26</text>
<text x="838.2" y="558.8">26</text>
<text x="52.7" y="575.9">28</text>
<text x="66.5" y="575.9">28</text>
<text x="80.3" y="575.9">27</text>
<text x="94.0" y="575.9">26</text>
<text x="107.8" y="575.9">25</text>
<text x="121.6" y="575.9">27</text>
<text x="135.4" y="575.9">26</text>
<text x="149.2" y="575.9">27</text>
<text x="162.9" y="575.9">27</text>
<text x="176.7" y="575.9">27</text>
<text x="190.5" y="575.9">28</text>
<text x="204.3" y="575.9">29</text>
<text x="218.1" y="575.9">29</text>
<text x="231.8" y="575.9">28</text>
<text x="245.6" y="575.9">28</text>
<text x="259.4" y="575.9">29</text>
<text x="273.2" y="575.9">27</text>
<text x="287.0" y="575.9">27</text>
<text x="300.7" y="575.9">25</text>
<text x="314.5" y="575.9">27</text>
<text x="328.3" y="575.9">26</text>
<text x="342.1" y="575.9">26</text>
<text x="355.9" y="575.9">25</text>
<text x="369.6" y="575.9">25</text>
<text x="383.4" y="575.9">24</text>
<text x="397.2" y="575.9">23</text>
<text x="411.0" y="575.9">23</text>
<text x="424.8" y="575.9">25</text>
<text x="438.5" y="575.9">29</text>
<text x="452.3" y="575.9">30</text>
<text x="466.1" y="575.9">27</text>
<text x="479.9" y="575.9">32</text>
<text x="493.7" y="575.9">28</text>
<text x="507.4" y="575.9">29</text>
<text x="521.2" y="575.9">29</text>
<text x="535.0" y="575.9">21</text>
<text x="548.8" y="575.9">24</text>
<text x="562.6" y="575.9">28</text>
<text x="576.3" y="575.9">27</text>
<text x="590.1" y="575.9">27</text>
<text x="603.9" y="575.9">28</text>
<text x="617.7" y="575.9">27</text>
<text x="631.5" y="575.9">29</text>
<text x="645.2" y="575.9">28</text>
<text x="659.0" y="575.9">28</text>
<text x="672.8" y="575.9">29</text>
<text x="686.6" y="575.9">27</text>
<text x="700.4" y="575.9">28</text>
<text x="714.1" y="575.9">28</text>
<text x="727.9" y="575.9">28</text>
<text x="741.7" y="575.9">27</text>
<text x="755.5" y="575.9">28</text>
<text x="769.3" y="575.9">28</text>
<text x="783.0" y="575.9">29</text>
<text x="796.8" y="575.9">29</text>
<text x="810.6" y="575.9">28</text>
<text x="824.4" y="575.9">28</text>
<text x="838.2" y="575.9">28</text>
<text x="52.7" y="592.9">29</text>
<text x="66.5" y="592.9">29</text>
<text x="80.3" y="592.9">28</text>
<text x="94.0" y="592.9">28</text>
<text x="107.8" y="592.9">28</text>
<text x="121.6" y="592.9">28</text>
<text x="135.4" y="592.9">28</text>
<text x="149.2" y="592.9">28</text>
<text x="162.9" y="592.9">28</text>
<text x="176.7" y="592.9">28</text>
<text x="190.5" y="592.9">28</text>
<text x="204.3" y="592.9">28</text>
<text x="218.1" y="592.9">28</text>
<text x="231.8" y="592.9">28</text>
<text x="245.6" y="592.9">28</text>
<text x="259.4" y="592.9">28</text>
<text x="273.2" y="592.9">28</text>
<text x="287.0" y="592.9">23</text>
<text x="300.7" y="592.9">24</text>
<text x="314.5" y="592.9">31</text>
<text x="328.3" y="592.9">23</text>
<text x="342.1" y="592.9">28</text>
<text x="355.9" y="592.9">27</text>
<text x="369.6" y="592.9">26</text>
<text x="383.4" y="592.9">27</text>
<text x="397.2" y="592.9">27</text>
<text x="411.0" y="592.9">27</text>
<text x="424.8" y="592.9">28</text>
<text x="438.5" y="592.9">28</text>
<text x="452.3" y="592.9">29</text>
<text x="466.1" y="592.9">28</text>
<text x="479.9" y="592.9">21</text>
<text x="493.7" y="592.9">25</text>
<text x="507.4" y="592.9">20</text>
<text x="521.2" y="592.9">20</text>
<text x="535.0" y="592.9">20</text>
<text x="548.8" y="592.9">25</text>
<text x="562.6" y="592.9">28</text>
<text x="576.3" y="592.9">28</text>
<text x="590.1" y="592.9">28</text>
<text x="603.9" y="592.9">29</text>
<text x="617.7" y="592.9">29</text>
<text x="631.5" y="592.9">29</text>
<text x="645.2" y="592.9">28</text>
<text x="659.0" y="592.9">28</text>
<text x="672.8" y="592.9">23</text>
<text x="686.6" y="592.9">28</text>
<text x="700.4" y="592.9">24</text>
<text x="714.1" y="592.9">28</text>
<text x="727.9" y="592.9">28</text>
<text x="741.7" y="592.9">28</text>
<text x="755.5" y="592.9">29</text>
<text x="769.3" y="592.9">29</text>
<text x="783.0" y="592.9">29</text>
<text x="796.8" y="592.9">30</text>
<text x="810.6" y="592.9">28</text>
<text x="824.4" y="592.9">29</text>
<text x="838.2" y="592.9">29</text>
<text x="52.7" y="609.9">29</text>
<text x="66.5" y="609.9">28</text>
<text x="80.3" y="609.9">28</text>
<text x="94.0" y="609.9">28</text>
<text x="107.8" y="609.9">28</text>
<text x="121.6" y="609.9">27</text>
<text x="135.4" y="609.9">27</text>
<text x="149.2" y="609.9">27</text>
<text x="162.9" y="609.9">27</text>
<text x="176.7" y="609.9">27</text>
<text x="190.5" y="609.9">27</text>
<text x="204.3" y="609.9">28</text>
<text x="218.1" y="609.9">28</text>
<text x="231.8" y="609.9">28</text>
<text x="245.6" y="609.9">27</text>
<text x="259.4" y="609.9">27</text>
<text x="273.2" y="609.9">26</text>
<text x="287.0" y="609.9">24</text>
<text x="300.7" y="609.9">24</text>
<text x="314.5" y="609.9">24</text>
<text x="328.3" y="609.9">26</text>
<text x="342.1" y="609.9">23</text>
<text x="355.9" y="609.9">28</text>
<text x="369.6" y="609.9">28</text>
<text x="383.4" y="609.9">28</text>
<text x="397.2" y="609.9">28</text>
<text x="411.0" y="609.9">28</text>
<text x="424.8" y="609.9">28</text>
<text x="438.5" y="609.9">28</text>
<text x="452.3" y="609.9">28</text>
<text x="466.1" y="609.9">28</text>
<text x="479.9" y="609.9">21</text>
<text x="493.7" y="609.9">22</text>
<text x="507.4" y="609.9">21</text>
<text x="521.2" y="609.9">19</text>
<text x="535.0" y="609.9">25</text>
<text x="548.8" y="609.9">28</text>
<text x="562.6" y="609.9">28</text>
<text x="576.3" y="609.9">28</text>
<text x="590.1" y="609.9">29</text>
<text x="603.9" y="609.9">29</text>
<text x="617.7" y="609.9">27</text>
<text x="631.5" y="609.9">29</text>
<text x="645.2" y="609.9">29</text>
<text x="659.0" y="609.9">28</text>
<text x="672.8" y="609.9">23</text>
<text x="686.6" y="609.9">27</text>
<text x="700.4" y="609.9">26</text>
<text x="714.1" y="609.9">19</text>
<text x="727.9" y="609.9">28</text>
<text x="741.7" y="609.9">29</text>
<text x="755.5" y="609.9">25</text>
<text x="769.3" y="609.9">29</text>
<text x="783.0" y="609.9">29</text>
<text x="796.8" y="609.9">29</text>
<text x="810.6" y="609.9">29</text>
<text x="824.4" y="609.9">29</text>
<text x="838.2" y="609.9">29</text>
<text x="52.7" y="626.9">29</text>
<text x="66.5" y="626.9">29</text>
<text x="80.3" y="626.9">28</text>
<text x="94.0" y="626.9">28</text>
<text x="107.8" y="626.9">28</text>
<text x="121.6" y="626.9">28</text>
<text x="135.4" y="626.9">28</text>
<text x="149.2" y="626.9">28</text>
<text x="162.9" y="626.9">27</text>
<text x="176.7" y="626.9">27</text>
<text x="190.5" y="626.9">27</text>
<text x="204.3" y="626.9">27</text>
<text x="218.1" y="626.9">27</text>
<text x="231.8" y="626.9">27</text>
<text x="245.6" y="626.9">27</text>
<text x="259.4" y="626.9">27</text>
<text x="273.2" y="626.9">23</text>
<text x="287.0" y="626.9">24</text>
<text x="300.7" y="626.9">23</text>
<text x="314.5" y="626.9">24</text>
<text x="328.3" y="626.9">23</text>
<text x="342.1" y="626.9">24</text>
<text x="355.9" y="626.9">25</text>
<text x="369.6" y="626.9">21</text>
<text x="383.4" y="626.9">28</text>
<text x="397.2" y="626.9">27</text>
<text x="411.0" y="626.9">27</text>
<text x="424.8" y="626.9">27</text>
<text x="438.5" y="626.9">27</text>
<text x="452.3" y="626.9">27</text>
<text x="466.1" y="626.9">27</text>
<text x="479.9" y="626.9">23</text>
<text x="493.7" y="626.9">19</text>
<text x="507.4" y="626.9">21</text>
<text x="521.2" y="626.9">17</text>
<text x="535.0" y="626.9">22</text>
<text x="548.8" y="626.9">26</text>
<text x="562.6" y="626.9">28</text>
<text x="576.3" y="626.9">28</text>
<text x="590.1" y="626.9">29</text>
<text x="603.9" y="626.9">27</text>
<text x="617.7" y="626.9">27</text>
<text x="631.5" y="626.9">28</text>
<text x="645.2" y="626.9">27</text>
<text x="659.0" y="626.9">28</text>
<text x="672.8" y="626.9">28</text>
<text x="686.6" y="626.9">28</text>
<text x="700.4" y="626.9">27</text>
<text x="714.1" y="626.9">25</text>
<text x="727.9" y="626.9">27</text>
<text x="741.7" y="626.9">29</text>
<text x="755.5" y="626.9">28</text>
<text x="769.3" y="626.9">27</text>
<text x="783.0" y="626.9">29</text>
<text x="796.8" y="626.9">29</text>
<text x="810.6" y="626.9">29</text>
<text x="824.4" y="626.9">25</text>
<text x="838.2" y="626.9">29</text>
<text x="52.7" y="643.9">29</text>
<text x="66.5" y="643.9">28</text>
<text x="80.3" y="643.9">28</text>
<text x="94.0" y="643.9">28</text>
<text x="107.8" y="643.9">28</text>
<text x="121.6" y="643.9">28</text>
<text x="135.4" y="643.9">28</text>
<text x="149.2" y="643.9">27</text>
<text x="162.9" y="643.9">27</text>
<text x="176.7" y="643.9">27</text>
<text x="190.5" y="643.9">26</text>
<text x="204.3" y="643.9">25</text>
<text x="218.1" y="643.9">25</text>
<text x="231.8" y="643.9">24</text>
<text x="245.6" y="643.9">25</text>
<text x="259.4" y="643.9">24</text>
<text x="273.2" y="643.9">24</text>
<text x="287.0" y="643.9">9</text>
<text x="300.7" y="643.9">20</text>
<text x="314.5" y="643.9">23</text>
<text x="328.3" y="643.9">22</text>
<text x="342.1" y="643.9">24</text>
<text x="355.9" y="643.9">22</text>
<text x="369.6" y="643.9">27</text>
<text x="383.4" y="643.9">27</text>
<text x="397.2" y="643.9">26</text>
<text x="411.0" y="643.9">26</text>
<text x="424.8" y="643.9">25</text>
<text x="438.5" y="643.9">25</text>
<text x="452.3" y="643.9">24</text>
<text x="466.1" y="643.9">24</text>
<text x="479.9" y="643.9">17</text>
<text x="493.7" y="643.9">19</text>
<text x="507.4" y="643.9">16</text>
<text x="521.2" y="643.9">19</text>
<text x="535.0" y="643.9">20</text>
<text x="548.8" y="643.9">29</text>
<text x="562.6" y="643.9">27</text>
<text x="576.3" y="643.9">28</text>
<text x="590.1" y="643.9">27</text>
<text x="603.9" y="643.9">27</text>
<text x="617.7" y="643.9">26</text>
<text x="631.5" y="643.9">27</text>
<text x="645.2" y="643.9">27</text>
<text x="659.0" y="643.9">27</text>
<text x="672.8" y="643.9">27</text>
<text x="686.6" y="643.9">28</text>
<text x="700.4" y="643.9">28</text>
<text x="714.1" y="643.9">28</text>
<text x="727.9" y="643.9">28</text>
<text x="741.7" y="643.9">28</text>
<text x="755.5" y="643.9">29</text>
<text x="769.3" y="643.9">27</text>
<text x="783.0" y="643.9">27</text>
<text x="796.8" y="643.9">27</text>
<text x="810.6" y="643.9">28</text>
<text x="824.4" y="643.9">29</text>
<text x="838.2" y="643.9">29</text>
<text x="52.7" y="661.0">27</text>
<text x="66.5" y="661.0">26</text>
<text x="80.3" y="661.0">26</text>
<text x="94.0" y="661.0">26</text>
<text x="107.8" y="661.0">27</text>
<text x="121.6" y="661.0">27</text>
<text x="135.4" y="661.0">26</text>
<text x="149.2" y="661.0">27</text>
<text x="162.9" y="661.0">26</text>
<text x="176.7" y="661.0">26</text>
<text x="190.5" y="661.0">25</text>
<text x="204.3" y="661.0">25</text>
<text x="218.1" y="661.0">25</text>
<text x="231.8" y="661.0">24</text>
<text x="245.6" y="661.0">23</text>
<text x="259.4" y="661.0">23</text>
<text x="273.2" y="661.0">21</text>
<text x="287.0" y="661.0">20</text>
<text x="300.7" y="661.0">13</text>
<text x="314.5" y="661.0">23</text>
<text x="328.3" y="661.0">22</text>
<text x="342.1" y="661.0">22</text>
<text x="355.9" y="661.0">22</text>
<text x="369.6" y="661.0">27</text>
<text x="383.4" y="661.0">26</text>
<text x="397.2" y="661.0">25</text>
<text x="411.0" y="661.0">25</text>
<text x="424.8" y="661.0">24</text>
<text x="438.5" y="661.0">23</text>
<text x="452.3" y="661.0">22</text>
<text x="466.1" y="661.0">22</text>
<text x="479.9" y="661.0">21</text>
<text x="493.7" y="661.0">18</text>
<text x="507.4" y="661.0">16</text>
<text x="521.2" y="661.0">17</text>
<text x="535.0" y="661.0">26</text>
<text x="548.8" y="661.0">24</text>
<text x="562.6" y="661.0">26</text>
<text x="576.3" y="661.0">26</text>
<text x="590.1" y="661.0">26</text>
<text x="603.9" y="661.0">26</text>
<text x="617.7" y="661.0">25</text>
<text x="631.5" y="661.0">25</text>
<text x="645.2" y="661.0">24</text>
<text x="659.0" y="661.0">24</text>
<text x="672.8" y="661.0">24</text>
<text x="686.6" y="661.0">24</text>
<text x="700.4" y="661.0">24</text>
<text x="714.1" y="661.0">30</text>
<text x="727.9" y="661.0">31</text>
<text x="741.7" y="661.0">30</text>
<text x="755.5" y="661.0">32</text>
<text x="769.3" y="661.0">26</text>
<text x="783.0" y="661.0">25</text>
<text x="796.8" y="661.0">26</text>
<text x="810.6" y="661.0">26</text>
<text x="824.4" y="661.0">27</text>
<text x="838.2" y="661.0">27</text>
<text x="52.7" y="678.0">24</text>
<text x="66.5" y="678.0">24</text>
<text x="80.3" y="678.0">23</text>
<text x="94.0" y="678.0">23</text>
<text x="107.8" y="678.0">23</text>
<text x="121.6" y="678.0">25</text>
<text x="135.4" y="678.0">25</text>
<text x="149.2" y="678.0">25</text>
<text x="162.9" y="678.0">25</text>
<text x="176.7" y="678.0">25</text>
<text x="190.5" y="678.0">24</text>
<text x="204.3" y="678.0">24</text>
<text x="218.1" y="678.0">24</text>
<text x="231.8" y="678.0">23</text>
<text x="245.6" y="678.0">23</text>
<text x="259.4" y="678.0">22</text>
<text x="273.2" y="678.0">21</text>
<text x="287.0" y="678.0">18</text>
<text x="300.7" y="678.0">14</text>
<text x="314.5" y="678.0">19</text>
<text x="328.3" y="678.0">15</text>
<text x="342.1" y="678.0">20</text>
<text x="355.9" y="678.0">26</text>
<text x="369.6" y="678.0">25</text>
<text x="383.4" y="678.0">24</text>
<text x="397.2" y="678.0">23</text>
<text x="411.0" y="678.0">23</text>
<text x="424.8" y="678.0">24</text>
<text x="438.5" y="678.0">22</text>
<text x="452.3" y="678.0">21</text>
<text x="466.1" y="678.0">21</text>
<text x="479.9" y="678.0">20</text>
<text x="493.7" y="678.0">20</text>
<text x="507.4" y="678.0">17</text>
<text x="521.2" y="678.0">15</text>
<text x="535.0" y="678.0">22</text>
<text x="548.8" y="678.0">22</text>
<text x="562.6" y="678.0">22</text>
<text x="576.3" y="678.0">23</text>
<text x="590.1" y="678.0">24</text>
<text x="603.9" y="678.0">24</text>
<text x="617.7" y="678.0">24</text>
<text x="631.5" y="678.0">23</text>
<text x="645.2" y="678.0">22</text>
<text x="659.0" y="678.0">21</text>
<text x="672.8" y="678.0">20</text>
<text x="686.6" y="678.0">21</text>
<text x="700.4" y="678.0">21</text>
<text x="714.1" y="678.0">21</text>
<text x="727.9" y="678.0">26</text>
<text x="741.7" y="678.0">27</text>
<text x="755.5" y="678.0">33</text>
<text x="769.3" y="678.0">31</text>
<text x="783.0" y="678.0">27</text>
<text x="796.8" y="678.0">22</text>
<text x="810.6" y="678.0">23</text>
<text x="824.4" y="678.0">24</text>
<text x="838.2" y="678.0">24</text>
<text x="52.7" y="695.0">20</text>
<text x="66.5" y="695.0">20</text>
<text x="80.3" y="695.0">19</text>
<text x="94.0" y="695.0">18</text>
<text x="107.8" y="695.0">18</text>
<text x="121.6" y="695.0">21</text>
<text x="135.4" y="695.0">22</text>
<text x="149.2" y="695.0">23</text>
<text x="162.9" y="695.0">22</text>
<text x="176.7" y="695.0">22</text>
<text x="190.5" y="695.0">23</text>
<text x="204.3" y="695.0">23</text>
<text x="218.1" y="695.0">22</text>
<text x="231.8" y="695.0">21</text>
<text x="245.6" y="695.0">20</text>
<text x="259.4" y="695.0">19</text>
<text x="273.2" y="695.0">18</text>
<text x="287.0" y="695.0">17</text>
<text x="300.7" y="695.0">21</text>
<text x="314.5" y="695.0">16</text>
<text x="328.3" y="695.0">16</text>
<text x="342.1" y="695.0">22</text>
<text x="355.9" y="695.0">22</text>
<text x="369.6" y="695.0">23</text>
<text x="383.4" y="695.0">21</text>
<text x="397.2" y="695.0">19</text>
<text x="411.0" y="695.0">18</text>
<text x="424.8" y="695.0">19</text>
<text x="438.5" y="695.0">18</text>
<text x="452.3" y="695.0">20</text>
<text x="466.1" y="695.0">19</text>
<text x="479.9" y="695.0">20</text>
<text x="493.7" y="695.0">21</text>
<text x="507.4" y="695.0">19</text>
<text x="521.2" y="695.0">21</text>
<text x="535.0" y="695.0">19</text>
<text x="548.8" y="695.0">19</text>
<text x="562.6" y="695.0">18</text>
<text x="576.3" y="695.0">18</text>
<text x="590.1" y="695.0">18</text>
<text x="603.9" y="695.0">22</text>
<text x="617.7" y="695.0">21</text>
<text x="631.5" y="695.0">22</text>
<text x="645.2" y="695.0">21</text>
<text x="659.0" y="695.0">20</text>
<text x="672.8" y="695.0">18</text>
<text x="686.6" y="695.0">18</text>
<text x="700.4" y="695.0">19</text>
<text x="714.1" y="695.0">15</text>
<text x="727.9" y="695.0">18</text>
<text x="741.7" y="695.0">19</text>
<text x="755.5" y="695.0">25</text>
<text x="769.3" y="695.0">26</text>
<text x="783.0" y="695.0">25</text>
<text x="796.8" y="695.0">22</text>
<text x="810.6" y="695.0">20</text>
<text x="824.4" y="695.0">19</text>
<text x="838.2" y="695.0">21</text>
<text x="52.7" y="712.0">19</text>
<text x="66.5" y="712.0">18</text>
<text x="80.3" y="712.0">16</text>
<text x="94.0" y="712.0">14</text>
<text x="107.8" y="712.0">14</text>
<text x="121.6" y="712.0">14</text>
<text x="135.4" y="712.0">15</text>
<text x="149.2" y="712.0">15</text>
<text x="162.9" y="712.0">14</text>
<text x="176.7" y="712.0">14</text>
<text x="190.5" y="712.0">14</text>
<text x="204.3" y="712.0">14</text>
<text x="218.1" y="712.0">13</text>
<text x="231.8" y="712.0">16</text>
<text x="245.6" y="712.0">16</text>
<text x="259.4" y="712.0">15</text>
<text x="273.2" y="712.0">13</text>
<text x="287.0" y="712.0">15</text>
<text x="300.7" y="712.0">18</text>
<text x="314.5" y="712.0">17</text>
<text x="328.3" y="712.0">15</text>
<text x="342.1" y="712.0">18</text>
<text x="355.9" y="712.0">17</text>
<text x="369.6" y="712.0">21</text>
<text x="383.4" y="712.0">16</text>
<text x="397.2" y="712.0">15</text>
<text x="411.0" y="712.0">14</text>
<text x="424.8" y="712.0">13</text>
<text x="438.5" y="712.0">13</text>
<text x="452.3" y="712.0">12</text>
<text x="466.1" y="712.0">16</text>
<text x="479.9" y="712.0">18</text>
<text x="493.7" y="712.0">20</text>
<text x="507.4" y="712.0">17</text>
<text x="521.2" y="712.0">18</text>
<text x="535.0" y="712.0">18</text>
<text x="548.8" y="712.0">17</text>
<text x="562.6" y="712.0">17</text>
<text x="576.3" y="712.0">17</text>
<text x="590.1" y="712.0">14</text>
<text x="603.9" y="712.0">15</text>
<text x="617.7" y="712.0">17</text>
<text x="631.5" y="712.0">16</text>
<text x="645.2" y="712.0">16</text>
<text x="659.0" y="712.0">16</text>
<text x="672.8" y="712.0">16</text>
<text x="686.6" y="712.0">12</text>
<text x="700.4" y="712.0">11</text>
<text x="714.1" y="712.0">11</text>
<text x="727.9" y="712.0">11</text>
<text x="741.7" y="712.0">13</text>
<text x="755.5" y="712.0">16</text>
<text x="769.3" y="712.0">17</text>
<text x="783.0" y="712.0">18</text>
<text x="796.8" y="712.0">17</text>
<text x="810.6" y="712.0">17</text>
<text x="824.4" y="712.0">17</text>
<text x="838.2" y="712.0">17</text>
<text x="52.7" y="729.1">14</text>
<text x="66.5" y="729.1">14</text>
<text x="80.3" y="729.1">12</text>
<text x="94.0" y="729.1">10</text>
<text x="107.8" y="729.1">12</text>
<text x="121.6" y="729.1">12</text>
<text x="135.4" y="729.1">11</text>
<text x="149.2" y="729.1">11</text>
<text x="162.9" y="729.1">11</text>
<text x="176.7" y="729.1">11</text>
<text x="190.5" y="729.1">11</text>
<text x="204.3" y="729.1">11</text>
<text x="218.1" y="729.1">10</text>
<text x="231.8" y="729.1">10</text>
<text x="245.6" y="729.1">10</text>
<text x="259.4" y="729.1">12</text>
<text x="273.2" y="729.1">10</text>
<text x="287.0" y="729.1">6</text>
<text x="300.7" y="729.1">14</text>
<text x="314.5" y="729.1">13</text>
<text x="328.3" y="729.1">12</text>
<text x="342.1" y="729.1">13</text>
<text x="355.9" y="729.1">11</text>
<text x="369.6" y="729.1">11</text>
<text x="383.4" y="729.1">10</text>
<text x="397.2" y="729.1">10</text>
<text x="411.0" y="729.1">11</text>
<text x="424.8" y="729.1">8</text>
<text x="438.5" y="729.1">7</text>
<text x="452.3" y="729.1">7</text>
<text x="466.1" y="729.1">7</text>
<text x="479.9" y="729.1">8</text>
<text x="493.7" y="729.1">8</text>
<text x="507.4" y="729.1">8</text>
<text x="521.2" y="729.1">9</text>
<text x="535.0" y="729.1">8</text>
<text x="548.8" y="729.1">8</text>
<text x="562.6" y="729.1">7</text>
<text x="576.3" y="729.1">7</text>
<text x="590.1" y="729.1">8</text>
<text x="603.9" y="729.1">6</text>
<text x="617.7" y="729.1">12</text>
<text x="631.5" y="729.1">11</text>
<text x="645.2" y="729.1">11</text>
<text x="659.0" y="729.1">10</text>
<text x="672.8" y="729.1">9</text>
<text x="686.6" y="729.1">8</text>
<text x="700.4" y="729.1">7</text>
<text x="714.1" y="729.1">7</text>
<text x="727.9" y="729.1">7</text>
<text x="741.7" y="729.1">8</text>
<text x="755.5" y="729.1">13</text>
<text x="769.3" y="729.1">13</text>
<text x="783.0" y="729.1">13</text>
<text x="796.8" y="729.1">14</text>
<text x="810.6" y="729.1">14</text>
<text x="824.4" y="729.1">15</text>
<text x="838.2" y="729.1">14</text>
<text x="52.7" y="746.1">10</text>
<text x="66.5" y="746.1">11</text>
<text x="80.3" y="746.1">10</text>
<text x="94.0" y="746.1">9</text>
<text x="107.8" y="746.1">9</text>
<text x="121.6" y="746.1">9</text>
<text x="135.4" y="746.1">8</text>
<text x="149.2" y="746.1">8</text>
<text x="162.9" y="746.1">7</text>
<text x="176.7" y="746.1">6</text>
<text x="190.5" y="746.1">5</text>
<text x="204.3" y="746.1">6</text>
<text x="218.1" y="746.1">7</text>
<text x="231.8" y="746.1">6</text>
<text x="245.6" y="746.1">7</text>
<text x="259.4" y="746.1">8</text>
<text x="273.2" y="746.1">9</text>
<text x="287.0" y="746.1">9</text>
<text x="300.7" y="746.1">11</text>
<text x="314.5" y="746.1">8</text>
<text x="328.3" y="746.1">7</text>
<text x="342.1" y="746.1">6</text>
<text x="355.9" y="746.1">6</text>
<text x="369.6" y="746.1">4</text>
<text x="383.4" y="746.1">4</text>
<text x="397.2" y="746.1">4</text>
<text x="411.0" y="746.1">4</text>
<text x="424.8" y="746.1">3</text>
<text x="438.5" y="746.1">2</text>
<text x="452.3" y="746.1">2</text>
<text x="466.1" y="746.1">2</text>
<text x="479.9" y="746.1">2</text>
<text x="493.7" y="746.1">2</text>
<text x="507.4" y="746.1">2</text>
<text x="521.2" y="746.1">3</text>
<text x="535.0" y="746.1">3</text>
<text x="548.8" y="746.1">3</text>
<text x="562.6" y="746.1">3</text>
<text x="576.3" y="746.1">2</text>
<text x="590.1" y="746.1">2</text>
<text x="603.9" y="746.1">3</text>
<text x="617.7" y="746.1">3</text>
<text x="631.5" y="746.1">3</text>
<text x="645.2" y="746.1">5</text>
<text x="659.0" y="746.1">7</text>
<text x="672.8" y="746.1">5</text>
<text x="686.6" y="746.1">4</text>
<text x="700.4" y="746.1">4</text>
<text x="714.1" y="746.1">4</text>
<text x="727.9" y="746.1">4</text>
<text x="741.7" y="746.1">6</text>
<text x="755.5" y="746.1">7</text>
<text x="769.3" y="746.1">7</text>
<text x="783.0" y="746.1">5</text>
<text x="796.8" y="746.1">9</text>
<text x="810.6" y="746.1">9</text>
<text x="824.4" y="746.1">10</text>
<text x="838.2" y="746.1">9</text>
<text x="52.7" y="763.1">7</text>
<text x="66.5" y="763.1">6</text>
<text x="80.3" y="763.1">5</text>
<text x="94.0" y="763.1">3</text>
<text x="107.8" y="763.1">0</text>
<text x="123.4" y="763.1">−2</text>
<text x="137.2" y="763.1">−2</text>
<text x="151.0" y="763.1">−1</text>
<text x="162.9" y="763.1">1</text>
<text x="176.7" y="763.1">1</text>
<text x="190.5" y="763.1">1</text>
<text x="204.3" y="763.1">2</text>
<text x="218.1" y="763.1">2</text>
<text x="231.8" y="763.1">4</text>
<text x="245.6" y="763.1">6</text>
<text x="259.4" y="763.1">7</text>
<text x="273.2" y="763.1">7</text>
<text x="287.0" y="763.1">7</text>
<text x="300.7" y="763.1">6</text>
<text x="314.5" y="763.1">4</text>
<text x="328.3" y="763.1">4</text>
<text x="342.1" y="763.1">2</text>
<text x="355.9" y="763.1">1</text>
<text x="371.4" y="763.1">−0</text>
<text x="385.2" y="763.1">−1</text>
<text x="397.2" y="763.1">0</text>
<text x="411.0" y="763.1">0</text>
<text x="426.6" y="763.1">−1</text>
<text x="440.3" y="763.1">−1</text>
<text x="454.1" y="763.1">−1</text>
<text x="467.9" y="763.1">−1</text>
<text x="481.7" y="763.1">−0</text>
<text x="493.7" y="763.1">0</text>
<text x="507.4" y="763.1">0</text>
<text x="521.2" y="763.1">1</text>
<text x="535.0" y="763.1">0</text>
<text x="548.8" y="763.1">0</text>
<text x="562.6" y="763.1">0</text>
<text x="578.1" y="763.1">−1</text>
<text x="591.9" y="763.1">−1</text>
<text x="603.9" y="763.1">1</text>
<text x="617.7" y="763.1">1</text>
<text x="631.5" y="763.1">1</text>
<text x="645.2" y="763.1">2</text>
<text x="659.0" y="763.1">2</text>
<text x="672.8" y="763.1">2</text>
<text x="686.6" y="763.1">1</text>
<text x="700.4" y="763.1">1</text>
<text x="714.1" y="763.1">1</text>
<text x="727.9" y="763.1">1</text>
<text x="741.7" y="763.1">1</text>
<text x="755.5" y="763.1">2</text>
<text x="769.3" y="763.1">3</text>
<text x="783.0" y="763.1">2</text>
<text x="796.8" y="763.1">3</text>
<text x="810.6" y="763.1">5</text>
<text x="824.4" y="763.1">7</text>
<text x="838.2" y="763.1">7</text>
<text x="54.5" y="780.1">−3</text>
<text x="68.3" y="780.1">−8</text>
<text x="82.1" y="780.1">−6</text>
<text x="95.8" y="780.1">−6</text>
<text x="109.6" y="780.1">−4</text>
<text x="123.4" y="780.1">−5</text>
<text x="137.2" y="780.1">−5</text>
<text x="151.0" y="780.1">−4</text>
<text x="164.7" y="780.1">−3</text>
<text x="178.5" y="780.1">−3</text>
<text x="192.3" y="780.1">−3</text>
<text x="206.1" y="780.1">−3</text>
<text x="219.9" y="780.1">−2</text>
<text x="231.8" y="780.1">0</text>
<text x="245.6" y="780.1">1</text>
<text x="259.4" y="780.1">1</text>
<text x="273.2" y="780.1">0</text>
<text x="287.0" y="780.1">1</text>
<text x="300.7" y="780.1">1</text>
<text x="316.3" y="780.1">−10</text>
<text x="330.1" y="780.1">−10</text>
<text x="343.9" y="780.1">−7</text>
<text x="357.7" y="780.1">−5</text>
<text x="371.4" y="780.1">−3</text>
<text x="385.2" y="780.1">−2</text>
<text x="399.0" y="780.1">−3</text>
<text x="412.8" y="780.1">−4</text>
<text x="426.6" y="780.1">−4</text>
<text x="440.3" y="780.1">−3</text>
<text x="454.1" y="780.1">−2</text>
<text x="467.9" y="780.1">−1</text>
<text x="481.7" y="780.1">−1</text>
<text x="495.5" y="780.1">−1</text>
<text x="509.2" y="780.1">−1</text>
<text x="523.0" y="780.1">−1</text>
<text x="536.8" y="780.1">−1</text>
<text x="550.6" y="780.1">−2</text>
<text x="564.4" y="780.1">−5</text>
<text x="578.1" y="780.1">−7</text>
<text x="591.9" y="780.1">−8</text>
<text x="605.7" y="780.1">−9</text>
<text x="619.5" y="780.1">−5</text>
<text x="633.3" y="780.1">−3</text>
<text x="647.0" y="780.1">−2</text>
<text x="660.8" y="780.1">−4</text>
<text x="674.6" y="780.1">−4</text>
<text x="688.4" y="780.1">−4</text>
<text x="702.2" y="780.1">−2</text>
<text x="715.9" y="780.1">−3</text>
<text x="729.7" y="780.1">−2</text>
<text x="743.5" y="780.1">−4</text>
<text x="757.3" y="780.1">−3</text>
<text x="771.1" y="780.1">−3</text>
<text x="784.8" y="780.1">−1</text>
<text x="798.6" y="780.1">−0</text>
<text x="810.6" y="780.1">0</text>
<text x="824.4" y="780.1">1</text>
<text x="838.2" y="780.1">0</text>
<text x="54.5" y="797.1">−6</text>
<text x="68.3" y="797.1">−9</text>
<text x="82.1" y="797.1">−12</text>
<text x="95.8" y="797.1">−13</text>
<text x="109.6" y="797.1">−11</text>
<text x="123.4" y="797.1">−10</text>
<text x="137.2" y="797.1">−11</text>
<text x="151.0" y="797.1">−10</text>
<text x="164.7" y="797.1">−11</text>
<text x="178.5" y="797.1">−12</text>
<text x="192.3" y="797.1">−13</text>
<text x="206.1" y="797.1">−8</text>
<text x="219.9" y="797.1">−4</text>
<text x="233.6" y="797.1">−3</text>
<text x="247.4" y="797.1">−1</text>
<text x="261.2" y="797.1">−1</text>
<text x="275.0" y="797.1">−0</text>
<text x="288.8" y="797.1">−13</text>
<text x="302.5" y="797.1">−10</text>
<text x="316.3" y="797.1">−12</text>
<text x="330.1" y="797.1">−8</text>
<text x="343.9" y="797.1">−12</text>
<text x="357.7" y="797.1">−15</text>
<text x="371.4" y="797.1">−14</text>
<text x="385.2" y="797.1">−10</text>
<text x="399.0" y="797.1">−9</text>
<text x="412.8" y="797.1">−9</text>
<text x="426.6" y="797.1">−12</text>
<text x="440.3" y="797.1">−8</text>
<text x="454.1" y="797.1">−11</text>
<text x="467.9" y="797.1">−17</text>
<text x="481.7" y="797.1">−22</text>
<text x="495.5" y="797.1">−23</text>
<text x="509.2" y="797.1">−21</text>
<text x="523.0" y="797.1">−28</text>
<text x="536.8" y="797.1">−34</text>
<text x="550.6" y="797.1">−40</text>
<text x="564.4" y="797.1">−46</text>
<text x="578.1" y="797.1">−46</text>
<text x="591.9" y="797.1">−36</text>
<text x="605.7" y="797.1">−22</text>
<text x="619.5" y="797.1">−22</text>
<text x="633.3" y="797.1">−32</text>
<text x="647.0" y="797.1">−36</text>
<text x="660.8" y="797.1">−37</text>
<text x="674.6" y="797.1">−30</text>
<text x="688.4" y="797.1">−29</text>
<text x="702.2" y="797.1">−32</text>
<text x="715.9" y="797.1">−33</text>
<text x="729.7" y="797.1">−29</text>
<text x="743.5" y="797.1">−29</text>
<text x="757.3" y="797.1">−26</text>
<text x="771.1" y="797.1">−20</text>
<text x="784.8" y="797.1">−13</text>
<text x="798.6" y="797.1">−12</text>
<text x="812.4" y="797.1">−9</text>
<text x="826.2" y="797.1">−17</text>
<text x="840.0" y="797.1">−4</text>
<text x="54.5" y="814.2">−18</text>
<text x="68.3" y="814.2">−18</text>
<text x="82.1" y="814.2">−20</text>
<text x="95.8" y="814.2">−26</text>
<text x="109.6" y="814.2">−26</text>
<text x="123.4" y="814.2">−37</text>
<text x="137.2" y="814.2">−29</text>
<text x="151.0" y="814.2">−33</text>
<text x="164.7" y="814.2">−26</text>
<text x="178.5" y="814.2">−26</text>
<text x="192.3" y="814.2">−24</text>
<text x="206.1" y="814.2">−21</text>
<text x="219.9" y="814.2">−21</text>
<text x="233.6" y="814.2">−24</text>
<text x="247.4" y="814.2">−25</text>
<text x="261.2" y="814.2">−28</text>
<text x="275.0" y="814.2">−22</text>
<text x="288.8" y="814.2">−20</text>
<text x="302.5" y="814.2">−25</text>
<text x="316.3" y="814.2">−24</text>
<text x="330.1" y="814.2">−16</text>
<text x="343.9" y="814.2">−22</text>
<text x="357.7" y="814.2">−23</text>
<text x="371.4" y="814.2">−26</text>
<text x="385.2" y="814.2">−22</text>
<text x="399.0" y="814.2">−31</text>
<text x="412.8" y="814.2">−34</text>
<text x="426.6" y="814.2">−39</text>
<text x="440.3" y="814.2">−44</text>
<text x="454.1" y="814.2">−50</text>
<text x="467.9" y="814.2">−51</text>
<text x="481.7" y="814.2">−54</text>
<text x="495.5" y="814.2">−57</text>
<text x="509.2" y="814.2">−61</text>
<text x="523.0" y="814.2">−62</text>
<text x="536.8" y="814.2">−62</text>
<text x="550.6" y="814.2">−66</text>
<text x="564.4" y="814.2">−57</text>
<text x="578.1" y="814.2">−49</text>
<text x="591.9" y="814.2">−40</text>
<text x="605.7" y="814.2">−41</text>
<text x="619.5" y="814.2">−37</text>
<text x="633.3" y="814.2">−41</text>
<text x="647.0" y="814.2">−48</text>
<text x="660.8" y="814.2">−54</text>
<text x="674.6" y="814.2">−61</text>
<text x="688.4" y="814.2">−61</text>
<text x="702.2" y="814.2">−53</text>
<text x="715.9" y="814.2">−48</text>
<text x="729.7" y="814.2">−52</text>
<text x="743.5" y="814.2">−47</text>
<text x="757.3" y="814.2">−47</text>
<text x="771.1" y="814.2">−45</text>
<text x="784.8" y="814.2">−42</text>
<text x="798.6" y="814.2">−38</text>
<text x="812.4" y="814.2">−17</text>
<text x="826.2" y="814.2">−30</text>
<text x="840.0" y="814.2">−31</text>
<text x="54.5" y="831.2">−25</text>
<text x="68.3" y="831.2">−19</text>
<text x="82.1" y="831.2">−22</text>
<text x="95.8" y="831.2">−32</text>
<text x="109.6" y="831.2">−37</text>
<text x="123.4" y="831.2">−34</text>
<text x="137.2" y="831.2">−28</text>
<text x="151.0" y="831.2">−23</text>
<text x="164.7" y="831.2">−23</text>
<text x="178.5" y="831.2">−24</text>
<text x="192.3" y="831.2">−27</text>
<text x="206.1" y="831.2">−31</text>
<text x="219.9" y="831.2">−36</text>
<text x="233.6" y="831.2">−41</text>
<text x="247.4" y="831.2">−38</text>
<text x="261.2" y="831.2">−34</text>
<text x="275.0" y="831.2">−31</text>
<text x="288.8" y="831.2">−29</text>
<text x="302.5" y="831.2">−23</text>
<text x="316.3" y="831.2">−19</text>
<text x="330.1" y="831.2">−29</text>
<text x="343.9" y="831.2">−28</text>
<text x="357.7" y="831.2">−30</text>
<text x="371.4" y="831.2">−34</text>
<text x="385.2" y="831.2">−36</text>
<text x="399.0" y="831.2">−38</text>
<text x="412.8" y="831.2">−43</text>
<text x="426.6" y="831.2">−46</text>
<text x="440.3" y="831.2">−49</text>
<text x="454.1" y="831.2">−52</text>
<text x="467.9" y="831.2">−54</text>
<text x="481.7" y="831.2">−55</text>
<text x="495.5" y="831.2">−55</text>
<text x="509.2" y="831.2">−55</text>
<text x="523.0" y="831.2">−55</text>
<text x="536.8" y="831.2">−54</text>
<text x="550.6" y="831.2">−57</text>
<text x="564.4" y="831.2">−58</text>
<text x="578.1" y="831.2">−58</text>
<text x="591.9" y="831.2">−57</text>
<text x="605.7" y="831.2">−56</text>
<text x="619.5" y="831.2">−58</text>
<text x="633.3" y="831.2">−60</text>
<text x="647.0" y="831.2">−60</text>
<text x="660.8" y="831.2">−60</text>
<text x="674.6" y="831.2">−60</text>
<text x="688.4" y="831.2">−57</text>
<text x="702.2" y="831.2">−56</text>
<text x="715.9" y="831.2">−53</text>
<text x="729.7" y="831.2">−51</text>
<text x="743.5" y="831.2">−48</text>
<text x="757.3" y="831.2">−46</text>
<text x="771.1" y="831.2">−45</text>
<text x="784.8" y="831.2">−43</text>
<text x="798.6" y="831.2">−44</text>
<text x="812.4" y="831.2">−37</text>
<text x="826.2" y="831.2">−25</text>
<text x="840.0" y="831.2">−28</text>
<text x="54.5" y="848.2">−48</text>
<text x="68.3" y="848.2">−48</text>
<text x="82.1" y="848.2">−48</text>
<text x="95.8" y="848.2">−48</text>
<text x="109.6" y="848.2">−48</text>
<text x="123.4" y="848.2">−48</text>
<text x="137.2" y="848.2">−48</text>
<text x="151.0" y="848.2">−48</text>
<text x="164.7" y="848.2">−48</text>
<text x="178.5" y="848.2">−48</text>
<text x="192.3" y="848.2">−48</text>
<text x="206.1" y="848.2">−48</text>
<text x="219.9" y="848.2">−48</text>
<text x="233.6" y="848.2">−48</text>
<text x="247.4" y="848.2">−48</text>
<text x="261.2" y="848.2">−48</text>
<text x="275.0" y="848.2">−48</text>
<text x="288.8" y="848.2">−48</text>
<text x="302.5" y="848.2">−48</text>
<text x="316.3" y="848.2">−48</text>
<text x="330.1" y="848.2">−48</text>
<text x="343.9" y="848.2">−48</text>
<text x="357.7" y="848.2">−48</text>
<text x="371.4" y="848.2">−48</text>
<text x="385.2" y="848.2">−48</text>
<text x="399.0" y="848.2">−48</text>
<text x="412.8" y="848.2">−48</text>
<text x="426.6" y="848.2">−48</text>
<text x="440.3" y="848.2">−48</text>
<text x="454.1" y="848.2">−48</text>
<text x="467.9" y="848.2">−48</text>
<text x="481.7" y="848.2">−48</text>
<text x="495.5" y="848.2">−48</text>
<text x="509.2" y="848.2">−48</text>
<text x="523.0" y="848.2">−48</text>
<text x="536.8" y="848.2">−48</text>
<text x="550.6" y="848.2">−48</text>
<text x="564.4" y="848.2">−48</text>
<text x="578.1" y="848.2">−48</text>
<text x="591.9" y="848.2">−48</text>
<text x="605.7" y="848.2">−48</text>
<text x="619.5" y="848.2">−48</text>
<text x="633.3" y="848.2">−48</text>
<text x="647.0" y="848.2">−48</text>
<text x="660.8" y="848.2">−48</text>
<text x="674.6" y="848.2">−48</text>
<text x="688.4" y="848.2">−48</text>
<text x="702.2" y="848.2">−48</text>
<text x="715.9" y="848.2">−48</text>
<text x="729.7" y="848.2">−48</text>
<text x="743.5" y="848.2">−48</text>
<text x="757.3" y="848.2">−48</text>
<text x="771.1" y="848.2">−48</text>
<text x="784.8" y="848.2">−48</text>
<text x="798.6" y="848.2">−48</text>
<text x="812.4" y="848.2">−48</text>
<text x="826.2" y="848.2">−48</text>
<text x="840.0" y="848.2">−48</text>
</g>
<g class="stn">
<text x="119.0" y="433.9">ANC</text>
<text x="178.5" y="466.3">VAN</text>
<text x="180.0" y="497.7">SFC</text>
<text x="196.1" y="502.0">LVS</text>
<text x="203.2" y="489.5">SLC</text>
<text x="218.4" y="492.5">DNV</text>
<text x="235.9" y="464.7">WNP</text>
<text x="244.3" y="478.1">MNP</text>
<text x="256.9" y="486.5">CHG</text>
<text x="251.1" y="495.5">SLO</text>
<text x="275.0" y="481.6">TNT</text>
<text x="293.1" y="473.1">GBW</text>
<text x="286.9" y="489.8">NYK</text>
<text x="280.3" y="494.7">WSH</text>
<text x="251.6" y="505.0">MPS</text>
<text x="236.5" y="511.3">DLL</text>
<text x="239.6" y="519.4">HST</text>
<text x="251.3" y="518.9">NOL</text>
<text x="273.2" y="530.3">MIM</text>
<text x="101.6" y="542.6">HNL</text>
<text x="231.5" y="547.8">MXC</text>
<text x="268.3" y="537.7">HVN</text>
<text x="259.7" y="567.6">NCG</text>
<text x="274.7" y="576.1">PNC</text>
<text x="286.7" y="587.8">BGT</text>
<text x="302.6" y="572.0">CRC</text>
<text x="276.9" y="601.1">GTO</text>
<text x="280.3" y="633.3">LMA</text>
<text x="299.9" y="645.5">LPZ</text>
<text x="344.5" y="643.6">BRS</text>
<text x="365.3" y="636.0">SLVD</text>
<text x="354.9" y="663.0">RIO</text>
<text x="347.4" y="664.6">SAO</text>
<text x="321.3" y="694.8">BNA</text>
<text x="294.2" y="691.8">SNT</text>
<text x="320.0" y="741.4">Falkland</text>
<text x="450.1" y="460.3">LND</text>
<text x="455.4" y="467.4">PRS</text>
<text x="442.1" y="490.6">MDD</text>
<text x="430.2" y="495.2">LSB</text>
<text x="477.9" y="486.5">ROM</text>
<text x="479.9" y="457.6">BRL</text>
<text x="533.3" y="448.6">MCW</text>
<text x="456.9" y="500.4">ALG</text>
<text x="479.4" y="511.0">TRPI</text>
<text x="519.2" y="518.9">CRO</text>
<text x="527.1" y="513.2">TLV</text>
<text x="514.3" y="488.9">IST</text>
<text x="548.3" y="509.9">BGH</text>
<text x="563.8" y="503.4">THN</text>
<text x="553.4" y="533.3">RYH</text>
<text x="572.4" y="531.7">DUB</text>
<text x="598.3" y="532.8">KRC</text>
<text x="602.2" y="495.5">DHB</text>
<text x="603.1" y="506.6">KBL</text>
<text x="611.5" y="508.8">ISL</text>
<text x="614.4" y="514.8">LHR</text>
<text x="618.1" y="493.0">WHG</text>
<text x="626.7" y="499.6">HTN</text>
<text x="620.8" y="522.7">DLI</text>
<text x="638.7" y="525.2">KTM</text>
<text x="651.5" y="519.7">LSA</text>
<text x="611.3" y="548.6">MUM</text>
<text x="634.3" y="552.4">VZG</text>
<text x="621.7" y="565.2">DBT</text>
<text x="626.7" y="581.8">CLM</text>
<text x="649.9" y="535.8">DHK</text>
<text x="662.7" y="554.8">RNG</text>
<text x="672.2" y="563.0">BNK</text>
<text x="682.0" y="569.0">PHN</text>
<text x="683.9" y="543.4">HNI</text>
<text x="702.5" y="539.9">HKG</text>
<text x="718.6" y="515.6">SHG</text>
<text x="718.6" y="532.5">TWN</text>
<text x="707.3" y="491.9">BJG</text>
<text x="686.4" y="470.2">UB</text>
<text x="730.8" y="498.2">SEL</text>
<text x="758.8" y="503.4">TKY</text>
<text x="717.5" y="560.8">MNL</text>
<text x="770.1" y="563.8">GUM</text>
<text x="679.5" y="597.1">SGP</text>
<text x="686.1" y="617.5">JKT</text>
<text x="739.1" y="634.6">DWN</text>
<text x="706.2" y="687.7">PTH</text>
<text x="784.2" y="692.9">SYD</text>
<text x="770.5" y="703.5">MLB</text>
<text x="836.3" y="713.1">WLG</text>
<text x="531.6" y="604.1">NRB</text>
<text x="537.1" y="619.1">DRS</text>
<text x="555.2" y="652.1">ANN</text>
<text x="535.8" y="576.1">ADD</text>
<text x="522.1" y="558.1">KRT</text>
<text x="457.8" y="582.9">LGS</text>
<text x="411.9" y="560.6">DKR</text>
<text x="484.1" y="612.3">KNS</text>
<text x="512.1" y="672.0">JNB</text>
<text x="490.9" y="692.9">CPT</text>
<text x="512.8" y="642.5">LSK</text>
</g>
</g>
<rect x="53.2" y="354.8" width="794" height="490.2" fill="none" stroke="#000" stroke-width="1.8"/>

<!-- ticks -->
<g stroke="#000" stroke-width="1.6">
<line x1="47.5" y1="354.7" x2="53" y2="354.7"/><line x1="47.5" y1="436.4" x2="53" y2="436.4"/><line x1="47.5" y1="518.1" x2="53" y2="518.1"/><line x1="47.5" y1="599.8" x2="53" y2="599.8"/><line x1="47.5" y1="681.5" x2="53" y2="681.5"/><line x1="47.5" y1="763.2" x2="53" y2="763.2"/><line x1="47.5" y1="844.9" x2="53" y2="844.9"/>
<line x1="53" y1="845" x2="53" y2="850.5"/><line x1="185" y1="845" x2="185" y2="850.5"/><line x1="317.5" y1="845" x2="317.5" y2="850.5"/><line x1="450" y1="845" x2="450" y2="850.5"/><line x1="582.5" y1="845" x2="582.5" y2="850.5"/><line x1="715" y1="845" x2="715" y2="850.5"/><line x1="847.5" y1="845" x2="847.5" y2="850.5"/>
</g>
<g class="ax" text-anchor="end">
<text x="44.4" y="360.9" font-size="16.6">90N</text><text x="44.4" y="442.6" font-size="16.6">60N</text><text x="44.4" y="524.3" font-size="16.6">30N</text><text x="43.6" y="606.0" font-size="16.6" textLength="18.5" lengthAdjust="spacingAndGlyphs">EQ</text><text x="44.4" y="687.7" font-size="16.6">30S</text><text x="44.4" y="769.4" font-size="16.6">60S</text><text x="44.4" y="851.1" font-size="16.6">90S</text>
</g>
<g class="ax" text-anchor="middle" font-size="16.4">
<text x="53.5" y="866.1" font-size="16.4" textLength="24.6" lengthAdjust="spacingAndGlyphs">180</text><text x="185" y="866.1" font-size="16.4" textLength="36.5" lengthAdjust="spacingAndGlyphs">120W</text><text x="317.5" y="866.1" font-size="16.4" textLength="30" lengthAdjust="spacingAndGlyphs">60W</text><text x="450" y="866.1" font-size="16.4">0</text><text x="582.7" y="866.1" font-size="16.4" textLength="25.6" lengthAdjust="spacingAndGlyphs">60E</text><text x="715.2" y="866.1" font-size="16.4" textLength="33.6" lengthAdjust="spacingAndGlyphs">120E</text><text x="847.6" y="866.1" font-size="16.4" textLength="24.6" lengthAdjust="spacingAndGlyphs">180</text>
</g>

<!-- logo -->
<rect x="32" y="873" width="84" height="21.5" fill="#2c4aff"/>
<circle cx="42.3" cy="883.6" r="7.9" fill="none" stroke="#ffffff" stroke-width="2.7"/>
<text x="42.3" y="887.4" font-size="10.5" fill="#dcdcff" stroke="#2c4aff" stroke-width="0.4" text-anchor="middle" font-family="Liberation Sans, sans-serif">C</text>
<text x="57.5" y="887.9" font-size="12.2" fill="#ccd0ff" stroke="#2c4aff" stroke-width="0.45" textLength="54" lengthAdjust="spacingAndGlyphs" font-family="Liberation Sans, sans-serif">WEACLIM</text>

<!-- initial conditions -->
<text x="275" y="891.9" textLength="67.5" font-size="24" fill="#3050ff" stroke="#fff" stroke-width="0.45" lengthAdjust="spacingAndGlyphs" font-family="Liberation Sans, sans-serif">INITIAL</text>
<text x="361" y="891.9" textLength="142" font-size="24" fill="#3050ff" stroke="#fff" stroke-width="0.45" lengthAdjust="spacingAndGlyphs" font-family="Liberation Sans, sans-serif">CONDITIONS:</text>
<text x="503.3" y="891.9" textLength="174.2" font-size="24" fill="#3050ff" stroke="#fff" stroke-width="0.45" lengthAdjust="spacingAndGlyphs" font-family="Liberation Sans, sans-serif">00Z04APR2026</text>

<!-- colour bar -->
<g stroke="#000" stroke-width="1.1" transform="translate(0.9,0.3)">
<polygon points="115,916 155,904.5 155,927.5" fill="#3c00a0"/>
<rect x="155" y="904.5" width="40" height="23" fill="#0000cd"/>
<rect x="195" y="904.5" width="40" height="23" fill="#0032ff"/>
<rect x="235" y="904.5" width="40" height="23" fill="#0078fa"/>
<rect x="275" y="904.5" width="40" height="23" fill="#1e9cfa"/>
<rect x="315" y="904.5" width="40" height="23" fill="#50d0fa"/>
<rect x="355" y="904.5" width="40" height="23" fill="#8cf0fa"/>
<rect x="395" y="904.5" width="40" height="23" fill="#ffffff"/>
<rect x="435" y="904.5" width="40" height="23" fill="#fffaaa"/>
<rect x="475" y="904.5" width="40" height="23" fill="#ffe878"/>
<rect x="515" y="904.5" width="40" height="23" fill="#ffc03c"/>
<rect x="555" y="904.5" width="40" height="23" fill="#ffa000"/>
<rect x="595" y="904.5" width="40" height="23" fill="#ff6000"/>
<rect x="635" y="904.5" width="40" height="23" fill="#ff3200"/>
<rect x="675" y="904.5" width="40" height="23" fill="#e11400"/>
<rect x="715" y="904.5" width="40" height="23" fill="#c00000"/>
<rect x="755" y="904.5" width="40" height="23" fill="#a50000"/>
<polygon points="795,904.5 837,916 795,927.5" fill="#000000"/>
</g>
<g class="cb">
<line x1="138.0" y1="940.2" x2="152.2" y2="940.2" stroke="#000" stroke-width="1.9"/>
<text x="166.6" y="948.1" textLength="22.6" lengthAdjust="spacingAndGlyphs">35</text>
<line x1="178.0" y1="940.2" x2="192.2" y2="940.2" stroke="#000" stroke-width="1.9"/>
<text x="206.6" y="948.1" textLength="22.6" lengthAdjust="spacingAndGlyphs">30</text>
<line x1="218.0" y1="940.2" x2="232.2" y2="940.2" stroke="#000" stroke-width="1.9"/>
<text x="246.6" y="948.1" textLength="22.6" lengthAdjust="spacingAndGlyphs">25</text>
<line x1="258.0" y1="940.2" x2="272.2" y2="940.2" stroke="#000" stroke-width="1.9"/>
<text x="286.6" y="948.1" textLength="22.6" lengthAdjust="spacingAndGlyphs">20</text>
<line x1="298.0" y1="940.2" x2="312.2" y2="940.2" stroke="#000" stroke-width="1.9"/>
<text x="326.6" y="948.1" textLength="22.6" lengthAdjust="spacingAndGlyphs">15</text>
<line x1="338.0" y1="940.2" x2="352.2" y2="940.2" stroke="#000" stroke-width="1.9"/>
<text x="366.6" y="948.1" textLength="22.6" lengthAdjust="spacingAndGlyphs">10</text>
<line x1="384.0" y1="940.2" x2="395.0" y2="940.2" stroke="#000" stroke-width="1.9"/>
<text x="402.8" y="948.1">5</text>
<text x="436.6" y="948.1">0</text>
<text x="476.6" y="948.1">5</text>
<text x="516.6" y="948.1">10</text>
<text x="556.6" y="948.1">15</text>
<text x="596.6" y="948.1">20</text>
<text x="636.6" y="948.1">25</text>
<text x="676.6" y="948.1">30</text>
<text x="716.6" y="948.1">35</text>
<text x="756.6" y="948.1">40</text>
<text x="796.6" y="948.1">45</text>
</g>
</svg>
</body>
</html>
